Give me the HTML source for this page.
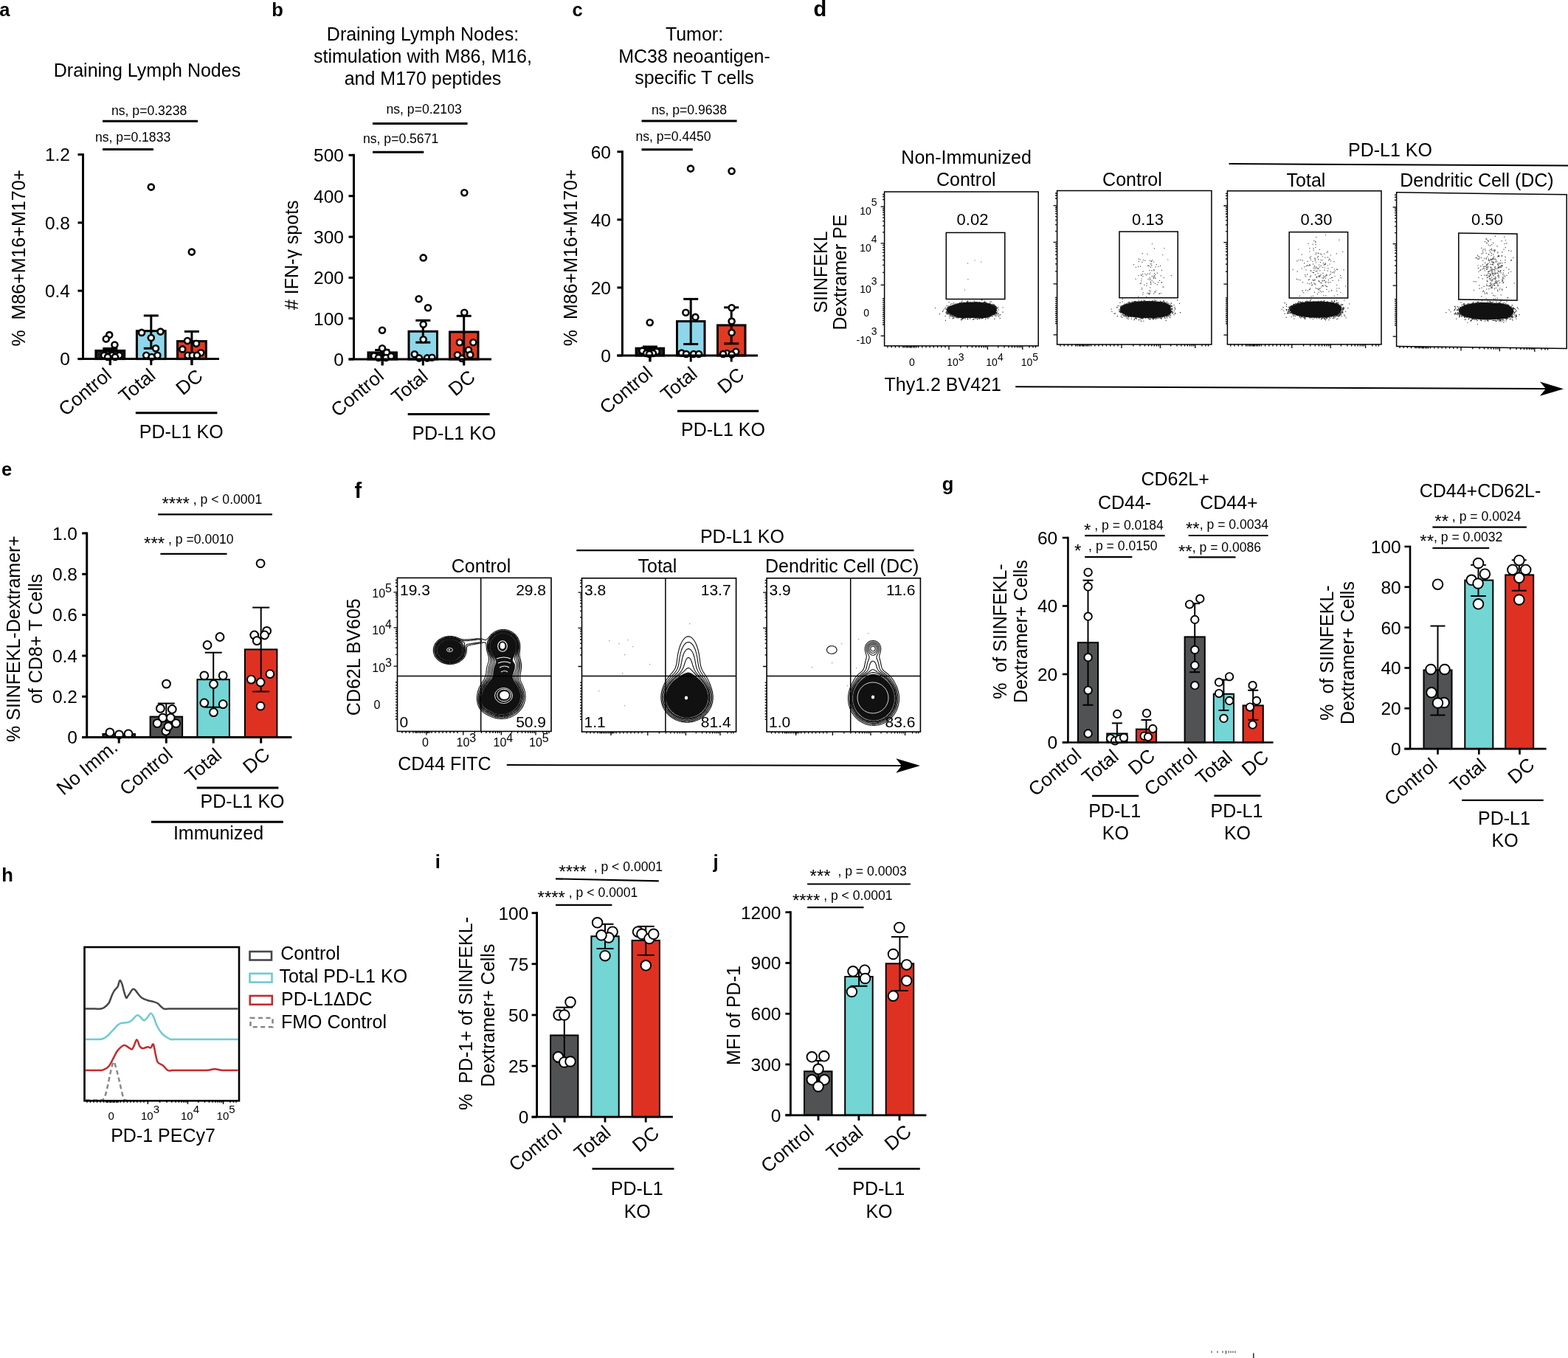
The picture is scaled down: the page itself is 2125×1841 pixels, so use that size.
<!DOCTYPE html>
<html><head><meta charset="utf-8"><title>Figure</title>
<style>
html,body{margin:0;padding:0;background:#fff;}
svg{display:block;}
text{font-family:"Liberation Sans", Arial, Helvetica, sans-serif;fill:#000;white-space:pre;}
</style></head><body>
<svg xmlns="http://www.w3.org/2000/svg" width="2125" height="1841" viewBox="0 0 2125 1841">
<rect x="0" y="0" width="2125" height="1841" fill="#fff"/>
<text x="-0.8" y="21.6" font-size="25.5" font-weight="bold">a</text>
<text x="199.5" y="104" font-size="25" text-anchor="middle">Draining Lymph Nodes</text>
<text x="151" y="156" font-size="17.6">ns, p=0.3238</text>
<line x1="139" y1="164.2" x2="268" y2="164.2" stroke="#000" stroke-width="3"/>
<text x="129" y="192" font-size="17.6">ns, p=0.1833</text>
<line x1="139" y1="202.6" x2="208" y2="202.6" stroke="#000" stroke-width="3"/>
<rect x="129.9" y="475.4" width="38.8" height="11.2" fill="#202020" stroke="#000" stroke-width="3"/>
<rect x="185.4" y="448.7" width="38.8" height="37.9" fill="#8ed7ea" stroke="#000" stroke-width="3"/>
<rect x="240.5" y="462.6" width="38.8" height="24" fill="#e03a22" stroke="#000" stroke-width="3"/>
<line x1="149.3" y1="472.5" x2="149.3" y2="495" stroke="#000" stroke-width="3"/>
<line x1="139.3" y1="472.5" x2="159.3" y2="472.5" stroke="#000" stroke-width="3"/>
<line x1="204.8" y1="427.9" x2="204.8" y2="472.3" stroke="#000" stroke-width="3"/>
<line x1="194.8" y1="427.9" x2="214.8" y2="427.9" stroke="#000" stroke-width="3"/>
<line x1="194.8" y1="472.3" x2="214.8" y2="472.3" stroke="#000" stroke-width="3"/>
<line x1="259.9" y1="449.4" x2="259.9" y2="495" stroke="#000" stroke-width="3"/>
<line x1="249.9" y1="449.4" x2="269.9" y2="449.4" stroke="#000" stroke-width="3"/>
<circle cx="148.2" cy="454.1" r="4" fill="#fff" stroke="#000" stroke-width="2.6"/>
<circle cx="143.8" cy="459.5" r="4" fill="#fff" stroke="#000" stroke-width="2.6"/>
<circle cx="155.4" cy="467.5" r="4" fill="#fff" stroke="#000" stroke-width="2.6"/>
<circle cx="141" cy="481.8" r="4" fill="#fff" stroke="#000" stroke-width="2.6"/>
<circle cx="151.8" cy="481.8" r="4" fill="#fff" stroke="#000" stroke-width="2.6"/>
<circle cx="161.6" cy="481.8" r="4" fill="#fff" stroke="#000" stroke-width="2.6"/>
<circle cx="146" cy="484" r="4" fill="#fff" stroke="#000" stroke-width="2.6"/>
<circle cx="156" cy="484" r="4" fill="#fff" stroke="#000" stroke-width="2.6"/>
<circle cx="204.8" cy="253.6" r="4" fill="#fff" stroke="#000" stroke-width="2.6"/>
<circle cx="192" cy="450.9" r="4" fill="#fff" stroke="#000" stroke-width="2.6"/>
<circle cx="217.5" cy="449.6" r="4" fill="#fff" stroke="#000" stroke-width="2.6"/>
<circle cx="204.8" cy="458" r="4" fill="#fff" stroke="#000" stroke-width="2.6"/>
<circle cx="211" cy="472.3" r="4" fill="#fff" stroke="#000" stroke-width="2.6"/>
<circle cx="198.2" cy="481.8" r="4" fill="#fff" stroke="#000" stroke-width="2.6"/>
<circle cx="213.4" cy="481.8" r="4" fill="#fff" stroke="#000" stroke-width="2.6"/>
<circle cx="205.5" cy="484" r="4" fill="#fff" stroke="#000" stroke-width="2.6"/>
<circle cx="259.8" cy="341.6" r="4" fill="#fff" stroke="#000" stroke-width="2.6"/>
<circle cx="254" cy="462" r="4" fill="#fff" stroke="#000" stroke-width="2.6"/>
<circle cx="266" cy="465.7" r="4" fill="#fff" stroke="#000" stroke-width="2.6"/>
<circle cx="247.3" cy="473.4" r="4" fill="#fff" stroke="#000" stroke-width="2.6"/>
<circle cx="272.3" cy="478.2" r="4" fill="#fff" stroke="#000" stroke-width="2.6"/>
<circle cx="254.5" cy="481.8" r="4" fill="#fff" stroke="#000" stroke-width="2.6"/>
<circle cx="260.7" cy="481.8" r="4" fill="#fff" stroke="#000" stroke-width="2.6"/>
<circle cx="267" cy="481.8" r="4" fill="#fff" stroke="#000" stroke-width="2.6"/>
<line x1="112.5" y1="208" x2="112.5" y2="486.6" stroke="#000" stroke-width="3"/>
<line x1="105.5" y1="486.6" x2="297" y2="486.6" stroke="#000" stroke-width="3"/>
<line x1="105.5" y1="209.5" x2="112.5" y2="209.5" stroke="#000" stroke-width="3"/>
<text x="95" y="218.3" font-size="24.5" text-anchor="end">1.2</text>
<line x1="105.5" y1="301.9" x2="112.5" y2="301.9" stroke="#000" stroke-width="3"/>
<text x="95" y="310.7" font-size="24.5" text-anchor="end">0.8</text>
<line x1="105.5" y1="394.2" x2="112.5" y2="394.2" stroke="#000" stroke-width="3"/>
<text x="95" y="403" font-size="24.5" text-anchor="end">0.4</text>
<line x1="105.5" y1="486.6" x2="112.5" y2="486.6" stroke="#000" stroke-width="3"/>
<text x="95" y="495.4" font-size="24.5" text-anchor="end">0</text>
<line x1="149.3" y1="486.6" x2="149.3" y2="495.1" stroke="#000" stroke-width="3"/>
<line x1="204.8" y1="486.6" x2="204.8" y2="495.1" stroke="#000" stroke-width="3"/>
<line x1="259.9" y1="486.6" x2="259.9" y2="495.1" stroke="#000" stroke-width="3"/>
<text transform="translate(33.5 349.7) rotate(-90)" font-size="25" text-anchor="middle">%&#160;&#160;M86+M16+M170+</text>
<text transform="translate(153 511) rotate(-40)" font-size="26" text-anchor="end">Control</text>
<text transform="translate(212.4 511.7) rotate(-40)" font-size="26" text-anchor="end">Total</text>
<text transform="translate(276.6 512.6) rotate(-40)" font-size="26" text-anchor="end">DC</text>
<line x1="183.8" y1="559.8" x2="294.4" y2="559.8" stroke="#000" stroke-width="3"/>
<text x="188.8" y="594.3" font-size="25">PD-L1 KO</text>
<text x="368.2" y="21.5" font-size="25.5" font-weight="bold">b</text>
<text x="573" y="55" font-size="25" text-anchor="middle">Draining Lymph Nodes:</text>
<text x="573" y="85.4" font-size="25" text-anchor="middle">stimulation with M86, M16,</text>
<text x="573" y="115.3" font-size="25" text-anchor="middle">and M170 peptides</text>
<text x="523.5" y="154.3" font-size="17.6">ns, p=0.2103</text>
<line x1="505" y1="167.5" x2="633.6" y2="167.5" stroke="#000" stroke-width="3"/>
<text x="492" y="193.8" font-size="17.6">ns, p=0.5671</text>
<line x1="505" y1="206.2" x2="574.3" y2="206.2" stroke="#000" stroke-width="3"/>
<rect x="499" y="477.9" width="38.5" height="9.1" fill="#202020" stroke="#000" stroke-width="3"/>
<rect x="554" y="449.3" width="38.5" height="37.7" fill="#8ed7ea" stroke="#000" stroke-width="3"/>
<rect x="609.5" y="450" width="38.5" height="37" fill="#e03a22" stroke="#000" stroke-width="3"/>
<line x1="518.2" y1="474.5" x2="518.2" y2="495" stroke="#000" stroke-width="3"/>
<line x1="508.2" y1="474.5" x2="528.2" y2="474.5" stroke="#000" stroke-width="3"/>
<line x1="573.3" y1="434.4" x2="573.3" y2="464.2" stroke="#000" stroke-width="3"/>
<line x1="563.3" y1="434.4" x2="583.3" y2="434.4" stroke="#000" stroke-width="3"/>
<line x1="563.3" y1="464.2" x2="583.3" y2="464.2" stroke="#000" stroke-width="3"/>
<line x1="628.7" y1="428.3" x2="628.7" y2="495" stroke="#000" stroke-width="3"/>
<line x1="618.7" y1="428.3" x2="638.7" y2="428.3" stroke="#000" stroke-width="3"/>
<circle cx="518" cy="447.7" r="4" fill="#fff" stroke="#000" stroke-width="2.6"/>
<circle cx="518" cy="472.2" r="4" fill="#fff" stroke="#000" stroke-width="2.6"/>
<circle cx="524" cy="477.9" r="4" fill="#fff" stroke="#000" stroke-width="2.6"/>
<circle cx="507" cy="482.5" r="4" fill="#fff" stroke="#000" stroke-width="2.6"/>
<circle cx="513" cy="485" r="4" fill="#fff" stroke="#000" stroke-width="2.6"/>
<circle cx="523" cy="485" r="4" fill="#fff" stroke="#000" stroke-width="2.6"/>
<circle cx="530" cy="483" r="4" fill="#fff" stroke="#000" stroke-width="2.6"/>
<circle cx="573.7" cy="349.4" r="4" fill="#fff" stroke="#000" stroke-width="2.6"/>
<circle cx="567.6" cy="405.2" r="4" fill="#fff" stroke="#000" stroke-width="2.6"/>
<circle cx="580" cy="417.3" r="4" fill="#fff" stroke="#000" stroke-width="2.6"/>
<circle cx="573.7" cy="439.7" r="4" fill="#fff" stroke="#000" stroke-width="2.6"/>
<circle cx="573.7" cy="460.3" r="4" fill="#fff" stroke="#000" stroke-width="2.6"/>
<circle cx="561.8" cy="480.2" r="4" fill="#fff" stroke="#000" stroke-width="2.6"/>
<circle cx="568" cy="485.4" r="4" fill="#fff" stroke="#000" stroke-width="2.6"/>
<circle cx="579" cy="485.4" r="4" fill="#fff" stroke="#000" stroke-width="2.6"/>
<circle cx="585.4" cy="484.7" r="4" fill="#fff" stroke="#000" stroke-width="2.6"/>
<circle cx="629.3" cy="261.3" r="4" fill="#fff" stroke="#000" stroke-width="2.6"/>
<circle cx="629.3" cy="423.7" r="4" fill="#fff" stroke="#000" stroke-width="2.6"/>
<circle cx="622.9" cy="464.2" r="4" fill="#fff" stroke="#000" stroke-width="2.6"/>
<circle cx="641.4" cy="464.2" r="4" fill="#fff" stroke="#000" stroke-width="2.6"/>
<circle cx="635" cy="474.5" r="4" fill="#fff" stroke="#000" stroke-width="2.6"/>
<circle cx="620" cy="481.3" r="4" fill="#fff" stroke="#000" stroke-width="2.6"/>
<circle cx="637.3" cy="480.9" r="4" fill="#fff" stroke="#000" stroke-width="2.6"/>
<circle cx="625.9" cy="485.9" r="4" fill="#fff" stroke="#000" stroke-width="2.6"/>
<line x1="479.5" y1="208.8" x2="479.5" y2="487" stroke="#000" stroke-width="3"/>
<line x1="472.5" y1="487" x2="666" y2="487" stroke="#000" stroke-width="3"/>
<line x1="472.5" y1="210.3" x2="479.5" y2="210.3" stroke="#000" stroke-width="3"/>
<text x="466" y="219.1" font-size="24.5" text-anchor="end">500</text>
<line x1="472.5" y1="265.7" x2="479.5" y2="265.7" stroke="#000" stroke-width="3"/>
<text x="466" y="274.5" font-size="24.5" text-anchor="end">400</text>
<line x1="472.5" y1="321.1" x2="479.5" y2="321.1" stroke="#000" stroke-width="3"/>
<text x="466" y="329.9" font-size="24.5" text-anchor="end">300</text>
<line x1="472.5" y1="376.4" x2="479.5" y2="376.4" stroke="#000" stroke-width="3"/>
<text x="466" y="385.2" font-size="24.5" text-anchor="end">200</text>
<line x1="472.5" y1="431.7" x2="479.5" y2="431.7" stroke="#000" stroke-width="3"/>
<text x="466" y="440.5" font-size="24.5" text-anchor="end">100</text>
<line x1="472.5" y1="487" x2="479.5" y2="487" stroke="#000" stroke-width="3"/>
<text x="466" y="495.8" font-size="24.5" text-anchor="end">0</text>
<line x1="518.2" y1="487" x2="518.2" y2="495.5" stroke="#000" stroke-width="3"/>
<line x1="573.3" y1="487" x2="573.3" y2="495.5" stroke="#000" stroke-width="3"/>
<line x1="628.7" y1="487" x2="628.7" y2="495.5" stroke="#000" stroke-width="3"/>
<text transform="translate(403.5 345.7) rotate(-90)" font-size="25" text-anchor="middle"># IFN-&#947; spots</text>
<text transform="translate(522 512.4) rotate(-40)" font-size="26" text-anchor="end">Control</text>
<text transform="translate(581.8 512.9) rotate(-40)" font-size="26" text-anchor="end">Total</text>
<text transform="translate(645.8 513.8) rotate(-40)" font-size="26" text-anchor="end">DC</text>
<line x1="552.7" y1="561.4" x2="663.6" y2="561.4" stroke="#000" stroke-width="3"/>
<text x="558.4" y="595.7" font-size="25">PD-L1 KO</text>
<text x="775.4" y="21.6" font-size="25.5" font-weight="bold">c</text>
<text x="941" y="55.4" font-size="25" text-anchor="middle">Tumor:</text>
<text x="941" y="85.4" font-size="25" text-anchor="middle">MC38 neoantigen-</text>
<text x="941" y="114.3" font-size="25" text-anchor="middle">specific T cells</text>
<text x="882.9" y="154.5" font-size="17.6">ns, p=0.9638</text>
<line x1="869.5" y1="163.9" x2="998.6" y2="163.9" stroke="#000" stroke-width="3"/>
<text x="861.4" y="191" font-size="17.6">ns, p=0.4450</text>
<line x1="869.5" y1="202.7" x2="938.8" y2="202.7" stroke="#000" stroke-width="3"/>
<rect x="862.1" y="472.2" width="37.5" height="9.8" fill="#202020" stroke="#000" stroke-width="3"/>
<rect x="917.5" y="435.6" width="37.5" height="46.4" fill="#8ed7ea" stroke="#000" stroke-width="3"/>
<rect x="972.5" y="440.9" width="37.5" height="41.1" fill="#e03a22" stroke="#000" stroke-width="3"/>
<line x1="880.9" y1="470" x2="880.9" y2="490" stroke="#000" stroke-width="3"/>
<line x1="870.9" y1="470" x2="890.9" y2="470" stroke="#000" stroke-width="3"/>
<line x1="936.2" y1="405.4" x2="936.2" y2="466.5" stroke="#000" stroke-width="3"/>
<line x1="926.2" y1="405.4" x2="946.2" y2="405.4" stroke="#000" stroke-width="3"/>
<line x1="926.2" y1="466.5" x2="946.2" y2="466.5" stroke="#000" stroke-width="3"/>
<line x1="991.2" y1="416.8" x2="991.2" y2="465.8" stroke="#000" stroke-width="3"/>
<line x1="981.2" y1="416.8" x2="1001.2" y2="416.8" stroke="#000" stroke-width="3"/>
<line x1="981.2" y1="465.8" x2="1001.2" y2="465.8" stroke="#000" stroke-width="3"/>
<circle cx="880.7" cy="437.2" r="4" fill="#fff" stroke="#000" stroke-width="2.6"/>
<circle cx="870.4" cy="475.6" r="4" fill="#fff" stroke="#000" stroke-width="2.6"/>
<circle cx="889.8" cy="476.8" r="4" fill="#fff" stroke="#000" stroke-width="2.6"/>
<circle cx="876" cy="479" r="4" fill="#fff" stroke="#000" stroke-width="2.6"/>
<circle cx="885" cy="479" r="4" fill="#fff" stroke="#000" stroke-width="2.6"/>
<circle cx="880" cy="480" r="4" fill="#fff" stroke="#000" stroke-width="2.6"/>
<circle cx="936" cy="228.6" r="4" fill="#fff" stroke="#000" stroke-width="2.6"/>
<circle cx="929.4" cy="423.7" r="4" fill="#fff" stroke="#000" stroke-width="2.6"/>
<circle cx="942.4" cy="429.9" r="4" fill="#fff" stroke="#000" stroke-width="2.6"/>
<circle cx="923.7" cy="478.6" r="4" fill="#fff" stroke="#000" stroke-width="2.6"/>
<circle cx="930" cy="480" r="4" fill="#fff" stroke="#000" stroke-width="2.6"/>
<circle cx="940" cy="480" r="4" fill="#fff" stroke="#000" stroke-width="2.6"/>
<circle cx="947" cy="480" r="4" fill="#fff" stroke="#000" stroke-width="2.6"/>
<circle cx="991.6" cy="232" r="4" fill="#fff" stroke="#000" stroke-width="2.6"/>
<circle cx="991.6" cy="417.3" r="4" fill="#fff" stroke="#000" stroke-width="2.6"/>
<circle cx="991.6" cy="435.6" r="4" fill="#fff" stroke="#000" stroke-width="2.6"/>
<circle cx="991.6" cy="450.9" r="4" fill="#fff" stroke="#000" stroke-width="2.6"/>
<circle cx="985.2" cy="479" r="4" fill="#fff" stroke="#000" stroke-width="2.6"/>
<circle cx="997.3" cy="476.8" r="4" fill="#fff" stroke="#000" stroke-width="2.6"/>
<circle cx="980" cy="480" r="4" fill="#fff" stroke="#000" stroke-width="2.6"/>
<circle cx="991.6" cy="480.5" r="4" fill="#fff" stroke="#000" stroke-width="2.6"/>
<line x1="843.4" y1="204.2" x2="843.4" y2="482" stroke="#000" stroke-width="3"/>
<line x1="836.4" y1="482" x2="1027" y2="482" stroke="#000" stroke-width="3"/>
<line x1="836.4" y1="205.7" x2="843.4" y2="205.7" stroke="#000" stroke-width="3"/>
<text x="828" y="214.5" font-size="24.5" text-anchor="end">60</text>
<line x1="836.4" y1="297.8" x2="843.4" y2="297.8" stroke="#000" stroke-width="3"/>
<text x="828" y="306.6" font-size="24.5" text-anchor="end">40</text>
<line x1="836.4" y1="389.9" x2="843.4" y2="389.9" stroke="#000" stroke-width="3"/>
<text x="828" y="398.7" font-size="24.5" text-anchor="end">20</text>
<line x1="836.4" y1="482" x2="843.4" y2="482" stroke="#000" stroke-width="3"/>
<text x="828" y="490.8" font-size="24.5" text-anchor="end">0</text>
<line x1="880.9" y1="482" x2="880.9" y2="490.5" stroke="#000" stroke-width="3"/>
<line x1="936.2" y1="482" x2="936.2" y2="490.5" stroke="#000" stroke-width="3"/>
<line x1="991.2" y1="482" x2="991.2" y2="490.5" stroke="#000" stroke-width="3"/>
<text transform="translate(782 349.3) rotate(-90)" font-size="25" text-anchor="middle">%&#160;&#160;M86+M16+M170+</text>
<text transform="translate(886.3 508.7) rotate(-40)" font-size="26" text-anchor="end">Control</text>
<text transform="translate(946.7 509.5) rotate(-40)" font-size="26" text-anchor="end">Total</text>
<text transform="translate(1010.5 510.6) rotate(-40)" font-size="26" text-anchor="end">DC</text>
<line x1="918" y1="557.3" x2="1028.2" y2="557.3" stroke="#000" stroke-width="3"/>
<text x="923" y="591" font-size="25">PD-L1 KO</text>
<text x="2" y="644.8" font-size="25.5" font-weight="bold">e</text>
<text x="219.5" y="682.6" font-size="17.6"><tspan font-size="24" dy="8.5">****</tspan><tspan dy="-8.5"> , p &lt; 0.0001</tspan></text>
<line x1="214.2" y1="697.4" x2="369" y2="697.4" stroke="#000" stroke-width="2.2"/>
<text x="195.1" y="736.6" font-size="17.6"><tspan font-size="24" dy="8.5">***</tspan><tspan dy="-8.5"> , p =0.0010</tspan></text>
<line x1="217.4" y1="750.9" x2="307.5" y2="750.9" stroke="#000" stroke-width="2.2"/>
<rect x="139.4" y="995" width="43.5" height="4.6" fill="#303030" stroke="#000" stroke-width="2"/>
<rect x="203.6" y="971.6" width="43.5" height="28" fill="#505253" stroke="#000" stroke-width="2"/>
<rect x="267.4" y="921.2" width="43.5" height="78.4" fill="#73d5d4" stroke="#000" stroke-width="2"/>
<rect x="331.9" y="880.4" width="43.5" height="119.2" fill="#df3122" stroke="#000" stroke-width="2"/>
<line x1="225.3" y1="953.6" x2="225.3" y2="999.6" stroke="#000" stroke-width="2"/>
<line x1="213.8" y1="953.6" x2="236.8" y2="953.6" stroke="#000" stroke-width="2"/>
<line x1="289.2" y1="884.7" x2="289.2" y2="958.7" stroke="#000" stroke-width="2"/>
<line x1="277.7" y1="884.7" x2="300.7" y2="884.7" stroke="#000" stroke-width="2"/>
<line x1="277.7" y1="958.7" x2="300.7" y2="958.7" stroke="#000" stroke-width="2"/>
<line x1="353.7" y1="823.6" x2="353.7" y2="937.5" stroke="#000" stroke-width="2"/>
<line x1="342.2" y1="823.6" x2="365.2" y2="823.6" stroke="#000" stroke-width="2"/>
<line x1="342.2" y1="937.5" x2="365.2" y2="937.5" stroke="#000" stroke-width="2"/>
<circle cx="148.9" cy="992.9" r="5.4" fill="#fff" stroke="#000" stroke-width="2"/>
<circle cx="161.4" cy="995.8" r="5.4" fill="#fff" stroke="#000" stroke-width="2"/>
<circle cx="174" cy="994.8" r="5.4" fill="#fff" stroke="#000" stroke-width="2"/>
<circle cx="225.5" cy="927.1" r="5.4" fill="#fff" stroke="#000" stroke-width="2"/>
<circle cx="217.4" cy="960.4" r="5.4" fill="#fff" stroke="#000" stroke-width="2"/>
<circle cx="233.3" cy="961.5" r="5.4" fill="#fff" stroke="#000" stroke-width="2"/>
<circle cx="220.6" cy="973.1" r="5.4" fill="#fff" stroke="#000" stroke-width="2"/>
<circle cx="231.2" cy="973.1" r="5.4" fill="#fff" stroke="#000" stroke-width="2"/>
<circle cx="213.2" cy="980.6" r="5.4" fill="#fff" stroke="#000" stroke-width="2"/>
<circle cx="238.6" cy="980.6" r="5.4" fill="#fff" stroke="#000" stroke-width="2"/>
<circle cx="224.8" cy="991.2" r="5.4" fill="#fff" stroke="#000" stroke-width="2"/>
<circle cx="228" cy="985" r="5.4" fill="#fff" stroke="#000" stroke-width="2"/>
<circle cx="298" cy="863.5" r="5.4" fill="#fff" stroke="#000" stroke-width="2"/>
<circle cx="281" cy="874.5" r="5.4" fill="#fff" stroke="#000" stroke-width="2"/>
<circle cx="276.8" cy="915.9" r="5.4" fill="#fff" stroke="#000" stroke-width="2"/>
<circle cx="302.2" cy="915.9" r="5.4" fill="#fff" stroke="#000" stroke-width="2"/>
<circle cx="289.5" cy="927.5" r="5.4" fill="#fff" stroke="#000" stroke-width="2"/>
<circle cx="276.8" cy="953" r="5.4" fill="#fff" stroke="#000" stroke-width="2"/>
<circle cx="302.2" cy="954.7" r="5.4" fill="#fff" stroke="#000" stroke-width="2"/>
<circle cx="289.5" cy="965.7" r="5.4" fill="#fff" stroke="#000" stroke-width="2"/>
<circle cx="353.1" cy="763.8" r="5.4" fill="#fff" stroke="#000" stroke-width="2"/>
<circle cx="361.6" cy="855.4" r="5.4" fill="#fff" stroke="#000" stroke-width="2"/>
<circle cx="344.7" cy="861" r="5.4" fill="#fff" stroke="#000" stroke-width="2"/>
<circle cx="358.6" cy="861" r="5.4" fill="#fff" stroke="#000" stroke-width="2"/>
<circle cx="348.2" cy="868.6" r="5.4" fill="#fff" stroke="#000" stroke-width="2"/>
<circle cx="365.9" cy="913.7" r="5.4" fill="#fff" stroke="#000" stroke-width="2"/>
<circle cx="340.4" cy="921.2" r="5.4" fill="#fff" stroke="#000" stroke-width="2"/>
<circle cx="353.1" cy="925" r="5.4" fill="#fff" stroke="#000" stroke-width="2"/>
<circle cx="353.1" cy="957.2" r="5.4" fill="#fff" stroke="#000" stroke-width="2"/>
<line x1="117.7" y1="721.4" x2="117.7" y2="999.6" stroke="#000" stroke-width="3"/>
<line x1="111.2" y1="999.6" x2="395.4" y2="999.6" stroke="#000" stroke-width="3"/>
<line x1="111.2" y1="722.9" x2="117.7" y2="722.9" stroke="#000" stroke-width="3"/>
<text x="105" y="731.7" font-size="24.5" text-anchor="end">1.0</text>
<line x1="111.2" y1="778.3" x2="117.7" y2="778.3" stroke="#000" stroke-width="3"/>
<text x="105" y="787.1" font-size="24.5" text-anchor="end">0.8</text>
<line x1="111.2" y1="833.6" x2="117.7" y2="833.6" stroke="#000" stroke-width="3"/>
<text x="105" y="842.4" font-size="24.5" text-anchor="end">0.6</text>
<line x1="111.2" y1="889" x2="117.7" y2="889" stroke="#000" stroke-width="3"/>
<text x="105" y="897.8" font-size="24.5" text-anchor="end">0.4</text>
<line x1="111.2" y1="944.3" x2="117.7" y2="944.3" stroke="#000" stroke-width="3"/>
<text x="105" y="953.1" font-size="24.5" text-anchor="end">0.2</text>
<line x1="111.2" y1="999.6" x2="117.7" y2="999.6" stroke="#000" stroke-width="3"/>
<text x="105" y="1008.4" font-size="24.5" text-anchor="end">0</text>
<line x1="161.2" y1="999.6" x2="161.2" y2="1007.6" stroke="#000" stroke-width="3"/>
<line x1="225.3" y1="999.6" x2="225.3" y2="1007.6" stroke="#000" stroke-width="3"/>
<line x1="289.2" y1="999.6" x2="289.2" y2="1007.6" stroke="#000" stroke-width="3"/>
<line x1="353.7" y1="999.6" x2="353.7" y2="1007.6" stroke="#000" stroke-width="3"/>
<text transform="translate(27 866) rotate(-90)" font-size="25" text-anchor="middle">% SIINFEKL-Dextramer+</text>
<text transform="translate(56.5 866) rotate(-90)" font-size="25" text-anchor="middle">of CD8+ T Cells</text>
<text transform="translate(161.2 1015.8) rotate(-40)" font-size="26" text-anchor="end">No Imm.</text>
<text transform="translate(235.7 1025.5) rotate(-40)" font-size="26" text-anchor="end">Control</text>
<text transform="translate(302.1 1026.6) rotate(-40)" font-size="26" text-anchor="end">Total</text>
<text transform="translate(367.3 1025.6) rotate(-40)" font-size="26" text-anchor="end">DC</text>
<line x1="266.8" y1="1067.9" x2="377.4" y2="1067.9" stroke="#000" stroke-width="3"/>
<text x="271.6" y="1095.3" font-size="25">PD-L1 KO</text>
<line x1="205" y1="1114.3" x2="383.8" y2="1114.3" stroke="#000" stroke-width="3"/>
<text x="234.9" y="1137.9" font-size="25">Immunized</text>
<text x="1276.7" y="664.5" font-size="25.5" font-weight="bold">g</text>
<text x="1592.6" y="657.9" font-size="25" text-anchor="middle">CD62L+</text>
<text x="1524" y="689.8" font-size="25" text-anchor="middle">CD44-</text>
<text x="1665.4" y="689.8" font-size="25" text-anchor="middle">CD44+</text>
<text x="1469.1" y="718.1" font-size="17.6"><tspan font-size="24" dy="8.5">*</tspan><tspan dy="-8.5"> , p = 0.0184</tspan></text>
<line x1="1470.2" y1="726.2" x2="1578.6" y2="726.2" stroke="#000" stroke-width="2.2"/>
<text x="1456" y="746.4" font-size="17.6"><tspan font-size="24" dy="8.5">*</tspan><tspan dy="-8.5">&#160;&#160;, p = 0.0150</tspan></text>
<line x1="1470.2" y1="755.1" x2="1534.4" y2="755.1" stroke="#000" stroke-width="2.2"/>
<text x="1607" y="716.8" font-size="17.6"><tspan font-size="24" dy="8.5">**</tspan><tspan dy="-8.5">, p = 0.0034</tspan></text>
<line x1="1610.7" y1="726" x2="1718.6" y2="726" stroke="#000" stroke-width="2.2"/>
<text x="1597" y="747.6" font-size="17.6"><tspan font-size="24" dy="8.5">**</tspan><tspan dy="-8.5">, p = 0.0086</tspan></text>
<line x1="1610.7" y1="755.3" x2="1674.5" y2="755.3" stroke="#000" stroke-width="2.2"/>
<rect x="1460.9" y="871.1" width="27.2" height="135.4" fill="#505253" stroke="#000" stroke-width="2"/>
<rect x="1500.3" y="994.5" width="27.2" height="12" fill="#73d5d4" stroke="#000" stroke-width="2"/>
<rect x="1539.9" y="988.6" width="27.2" height="17.9" fill="#df3122" stroke="#000" stroke-width="2"/>
<rect x="1605.6" y="863.4" width="27.2" height="143.1" fill="#505253" stroke="#000" stroke-width="2"/>
<rect x="1644.8" y="940.8" width="27.2" height="65.7" fill="#73d5d4" stroke="#000" stroke-width="2"/>
<rect x="1684.6" y="956.4" width="27.2" height="50.1" fill="#df3122" stroke="#000" stroke-width="2"/>
<line x1="1474.5" y1="786.7" x2="1474.5" y2="955.8" stroke="#000" stroke-width="2"/>
<line x1="1467.5" y1="786.7" x2="1481.5" y2="786.7" stroke="#000" stroke-width="2"/>
<line x1="1467.5" y1="955.8" x2="1481.5" y2="955.8" stroke="#000" stroke-width="2"/>
<line x1="1513.9" y1="980.4" x2="1513.9" y2="1006" stroke="#000" stroke-width="2"/>
<line x1="1506.9" y1="980.4" x2="1520.9" y2="980.4" stroke="#000" stroke-width="2"/>
<line x1="1553.5" y1="976" x2="1553.5" y2="1000" stroke="#000" stroke-width="2"/>
<line x1="1546.5" y1="976" x2="1560.5" y2="976" stroke="#000" stroke-width="2"/>
<line x1="1546.5" y1="1000" x2="1560.5" y2="1000" stroke="#000" stroke-width="2"/>
<line x1="1619.2" y1="818.2" x2="1619.2" y2="911.2" stroke="#000" stroke-width="2"/>
<line x1="1612.2" y1="818.2" x2="1626.2" y2="818.2" stroke="#000" stroke-width="2"/>
<line x1="1612.2" y1="911.2" x2="1626.2" y2="911.2" stroke="#000" stroke-width="2"/>
<line x1="1658.4" y1="921.6" x2="1658.4" y2="963" stroke="#000" stroke-width="2"/>
<line x1="1651.4" y1="921.6" x2="1665.4" y2="921.6" stroke="#000" stroke-width="2"/>
<line x1="1651.4" y1="963" x2="1665.4" y2="963" stroke="#000" stroke-width="2"/>
<line x1="1698.2" y1="935.8" x2="1698.2" y2="975.8" stroke="#000" stroke-width="2"/>
<line x1="1691.2" y1="935.8" x2="1705.2" y2="935.8" stroke="#000" stroke-width="2"/>
<line x1="1691.2" y1="975.8" x2="1705.2" y2="975.8" stroke="#000" stroke-width="2"/>
<circle cx="1474.6" cy="775.8" r="5.2" fill="#fff" stroke="#000" stroke-width="1.9"/>
<circle cx="1474.6" cy="795.4" r="5.2" fill="#fff" stroke="#000" stroke-width="1.9"/>
<circle cx="1474.6" cy="835.7" r="5.2" fill="#fff" stroke="#000" stroke-width="1.9"/>
<circle cx="1474.6" cy="891.2" r="5.2" fill="#fff" stroke="#000" stroke-width="1.9"/>
<circle cx="1474.6" cy="935.8" r="5.2" fill="#fff" stroke="#000" stroke-width="1.9"/>
<circle cx="1474.6" cy="994.5" r="5.2" fill="#fff" stroke="#000" stroke-width="1.9"/>
<circle cx="1514.2" cy="968" r="5.2" fill="#fff" stroke="#000" stroke-width="1.9"/>
<circle cx="1505" cy="1001" r="5.2" fill="#fff" stroke="#000" stroke-width="1.9"/>
<circle cx="1511" cy="1004.3" r="5.2" fill="#fff" stroke="#000" stroke-width="1.9"/>
<circle cx="1517" cy="1002" r="5.2" fill="#fff" stroke="#000" stroke-width="1.9"/>
<circle cx="1523" cy="1000" r="5.2" fill="#fff" stroke="#000" stroke-width="1.9"/>
<circle cx="1554" cy="966.9" r="5.2" fill="#fff" stroke="#000" stroke-width="1.9"/>
<circle cx="1562.3" cy="988" r="5.2" fill="#fff" stroke="#000" stroke-width="1.9"/>
<circle cx="1550.7" cy="997.8" r="5.2" fill="#fff" stroke="#000" stroke-width="1.9"/>
<circle cx="1556" cy="999" r="5.2" fill="#fff" stroke="#000" stroke-width="1.9"/>
<circle cx="1612.1" cy="819.3" r="5.2" fill="#fff" stroke="#000" stroke-width="1.9"/>
<circle cx="1626.3" cy="811.7" r="5.2" fill="#fff" stroke="#000" stroke-width="1.9"/>
<circle cx="1619.3" cy="840" r="5.2" fill="#fff" stroke="#000" stroke-width="1.9"/>
<circle cx="1619.3" cy="880.9" r="5.2" fill="#fff" stroke="#000" stroke-width="1.9"/>
<circle cx="1619.3" cy="902" r="5.2" fill="#fff" stroke="#000" stroke-width="1.9"/>
<circle cx="1619.3" cy="929.2" r="5.2" fill="#fff" stroke="#000" stroke-width="1.9"/>
<circle cx="1666.1" cy="917.3" r="5.2" fill="#fff" stroke="#000" stroke-width="1.9"/>
<circle cx="1652" cy="924.9" r="5.2" fill="#fff" stroke="#000" stroke-width="1.9"/>
<circle cx="1652" cy="940.1" r="5.2" fill="#fff" stroke="#000" stroke-width="1.9"/>
<circle cx="1666.1" cy="950" r="5.2" fill="#fff" stroke="#000" stroke-width="1.9"/>
<circle cx="1658.5" cy="973.9" r="5.2" fill="#fff" stroke="#000" stroke-width="1.9"/>
<circle cx="1697.6" cy="929.2" r="5.2" fill="#fff" stroke="#000" stroke-width="1.9"/>
<circle cx="1694" cy="958.6" r="5.2" fill="#fff" stroke="#000" stroke-width="1.9"/>
<circle cx="1697.6" cy="982.5" r="5.2" fill="#fff" stroke="#000" stroke-width="1.9"/>
<circle cx="1703" cy="950" r="5.2" fill="#fff" stroke="#000" stroke-width="1.9"/>
<line x1="1447.4" y1="727.7" x2="1447.4" y2="1006.5" stroke="#000" stroke-width="2.6"/>
<line x1="1439.8" y1="1006.5" x2="1725.5" y2="1006.5" stroke="#000" stroke-width="2.6"/>
<line x1="1439.8" y1="729" x2="1447.4" y2="729" stroke="#000" stroke-width="2.6"/>
<text x="1433.2" y="737.8" font-size="24.5" text-anchor="end">60</text>
<line x1="1439.8" y1="821.5" x2="1447.4" y2="821.5" stroke="#000" stroke-width="2.6"/>
<text x="1433.2" y="830.3" font-size="24.5" text-anchor="end">40</text>
<line x1="1439.8" y1="914" x2="1447.4" y2="914" stroke="#000" stroke-width="2.6"/>
<text x="1433.2" y="922.8" font-size="24.5" text-anchor="end">20</text>
<line x1="1439.8" y1="1006.5" x2="1447.4" y2="1006.5" stroke="#000" stroke-width="2.6"/>
<text x="1433.2" y="1015.3" font-size="24.5" text-anchor="end">0</text>
<text transform="translate(1363.5 856) rotate(-90)" font-size="25" text-anchor="middle">%&#160;&#160;of SIINFEKL-</text>
<text transform="translate(1392 856) rotate(-90)" font-size="25" text-anchor="middle">Dextramer+ Cells</text>
<text transform="translate(1467.3 1026.6) rotate(-40)" font-size="26" text-anchor="end">Control</text>
<text transform="translate(1517.6 1028.4) rotate(-40)" font-size="26" text-anchor="end">Total</text>
<text transform="translate(1567.1 1027.5) rotate(-40)" font-size="26" text-anchor="end">DC</text>
<text transform="translate(1624.2 1026.2) rotate(-40)" font-size="26" text-anchor="end">Control</text>
<text transform="translate(1671.7 1029.7) rotate(-40)" font-size="26" text-anchor="end">Total</text>
<text transform="translate(1721.1 1029.2) rotate(-40)" font-size="26" text-anchor="end">DC</text>
<line x1="1480" y1="1079.1" x2="1543.2" y2="1079.1" stroke="#000" stroke-width="2.5"/>
<text x="1510.7" y="1108.3" font-size="25" text-anchor="middle">PD-L1</text>
<text x="1511.8" y="1137.9" font-size="25" text-anchor="middle">KO</text>
<line x1="1645.4" y1="1078.8" x2="1708.5" y2="1078.8" stroke="#000" stroke-width="2.5"/>
<text x="1676" y="1108.3" font-size="25" text-anchor="middle">PD-L1</text>
<text x="1677" y="1137.9" font-size="25" text-anchor="middle">KO</text>
<text x="2006" y="674.1" font-size="25" text-anchor="middle">CD44+CD62L-</text>
<text x="1944.3" y="706" font-size="17.6"><tspan font-size="24" dy="8.5">**</tspan><tspan dy="-8.5"> , p = 0.0024</tspan></text>
<line x1="1941.4" y1="714.6" x2="2068.9" y2="714.6" stroke="#000" stroke-width="2.2"/>
<text x="1924.3" y="733.9" font-size="17.6"><tspan font-size="24" dy="8.5">**</tspan><tspan dy="-8.5">, p = 0.0032</tspan></text>
<line x1="1941.4" y1="743" x2="2018.2" y2="743" stroke="#000" stroke-width="2.2"/>
<rect x="1929.5" y="908.4" width="38" height="106.7" fill="#505253" stroke="#000" stroke-width="2"/>
<rect x="1985.3" y="786.6" width="38" height="228.5" fill="#73d5d4" stroke="#000" stroke-width="2"/>
<rect x="2040.2" y="779.4" width="38" height="235.7" fill="#df3122" stroke="#000" stroke-width="2"/>
<line x1="1948.5" y1="848.6" x2="1948.5" y2="969.5" stroke="#000" stroke-width="2"/>
<line x1="1938.5" y1="848.6" x2="1958.5" y2="848.6" stroke="#000" stroke-width="2"/>
<line x1="1938.5" y1="969.5" x2="1958.5" y2="969.5" stroke="#000" stroke-width="2"/>
<line x1="2003.5" y1="765.9" x2="2003.5" y2="808" stroke="#000" stroke-width="2"/>
<line x1="1993.2" y1="765.9" x2="2013.8" y2="765.9" stroke="#000" stroke-width="2"/>
<line x1="1993.2" y1="808" x2="2013.8" y2="808" stroke="#000" stroke-width="2"/>
<line x1="2058.8" y1="759.3" x2="2058.8" y2="800.7" stroke="#000" stroke-width="2"/>
<line x1="2048.8" y1="759.3" x2="2068.8" y2="759.3" stroke="#000" stroke-width="2"/>
<line x1="2048.8" y1="800.7" x2="2068.8" y2="800.7" stroke="#000" stroke-width="2"/>
<circle cx="1948.5" cy="792.2" r="6.8" fill="#fff" stroke="#000" stroke-width="1.9"/>
<circle cx="1939.1" cy="907.5" r="6.8" fill="#fff" stroke="#000" stroke-width="1.9"/>
<circle cx="1957.9" cy="907.5" r="6.8" fill="#fff" stroke="#000" stroke-width="1.9"/>
<circle cx="1940" cy="938.8" r="6.8" fill="#fff" stroke="#000" stroke-width="1.9"/>
<circle cx="1957" cy="952.5" r="6.8" fill="#fff" stroke="#000" stroke-width="1.9"/>
<circle cx="1948.5" cy="953" r="6.8" fill="#fff" stroke="#000" stroke-width="1.9"/>
<circle cx="2003.5" cy="763.5" r="6.8" fill="#fff" stroke="#000" stroke-width="1.9"/>
<circle cx="2012.4" cy="778.2" r="6.8" fill="#fff" stroke="#000" stroke-width="1.9"/>
<circle cx="1994.2" cy="786.3" r="6.8" fill="#fff" stroke="#000" stroke-width="1.9"/>
<circle cx="2003.1" cy="791" r="6.8" fill="#fff" stroke="#000" stroke-width="1.9"/>
<circle cx="2003.5" cy="818.8" r="6.8" fill="#fff" stroke="#000" stroke-width="1.9"/>
<circle cx="2058.8" cy="759.7" r="6.8" fill="#fff" stroke="#000" stroke-width="1.9"/>
<circle cx="2049.9" cy="772.4" r="6.8" fill="#fff" stroke="#000" stroke-width="1.9"/>
<circle cx="2067.7" cy="772.4" r="6.8" fill="#fff" stroke="#000" stroke-width="1.9"/>
<circle cx="2058.8" cy="783.3" r="6.8" fill="#fff" stroke="#000" stroke-width="1.9"/>
<circle cx="2058.8" cy="813" r="6.8" fill="#fff" stroke="#000" stroke-width="1.9"/>
<line x1="1911" y1="739.7" x2="1911" y2="1015.1" stroke="#000" stroke-width="2.6"/>
<line x1="1903.4" y1="1015.1" x2="2095.6" y2="1015.1" stroke="#000" stroke-width="2.6"/>
<line x1="1903.4" y1="741" x2="1911" y2="741" stroke="#000" stroke-width="2.6"/>
<text x="1898.7" y="749.8" font-size="24.5" text-anchor="end">100</text>
<line x1="1903.4" y1="795.8" x2="1911" y2="795.8" stroke="#000" stroke-width="2.6"/>
<text x="1898.7" y="804.6" font-size="24.5" text-anchor="end">80</text>
<line x1="1903.4" y1="850.7" x2="1911" y2="850.7" stroke="#000" stroke-width="2.6"/>
<text x="1898.7" y="859.5" font-size="24.5" text-anchor="end">60</text>
<line x1="1903.4" y1="905.5" x2="1911" y2="905.5" stroke="#000" stroke-width="2.6"/>
<text x="1898.7" y="914.3" font-size="24.5" text-anchor="end">40</text>
<line x1="1903.4" y1="960.3" x2="1911" y2="960.3" stroke="#000" stroke-width="2.6"/>
<text x="1898.7" y="969.1" font-size="24.5" text-anchor="end">20</text>
<line x1="1903.4" y1="1015.1" x2="1911" y2="1015.1" stroke="#000" stroke-width="2.6"/>
<text x="1898.7" y="1023.9" font-size="24.5" text-anchor="end">0</text>
<line x1="1948.5" y1="1015.1" x2="1948.5" y2="1022.8" stroke="#000" stroke-width="2.6"/>
<line x1="2004.3" y1="1015.1" x2="2004.3" y2="1022.8" stroke="#000" stroke-width="2.6"/>
<line x1="2059.5" y1="1015.1" x2="2059.5" y2="1022.8" stroke="#000" stroke-width="2.6"/>
<text transform="translate(1806.5 885) rotate(-90)" font-size="25" text-anchor="middle">%&#160;&#160;of SIINFEKL-</text>
<text transform="translate(1835 885) rotate(-90)" font-size="25" text-anchor="middle">Dextramer+ Cells</text>
<text transform="translate(1949.8 1039.7) rotate(-40)" font-size="26" text-anchor="end">Control</text>
<text transform="translate(2016.2 1040.2) rotate(-40)" font-size="26" text-anchor="end">Total</text>
<text transform="translate(2081.5 1039.5) rotate(-40)" font-size="26" text-anchor="end">DC</text>
<line x1="1981.2" y1="1084.9" x2="2091.7" y2="1084.9" stroke="#000" stroke-width="2.4"/>
<text x="2038.5" y="1117.9" font-size="25" text-anchor="middle">PD-L1</text>
<text x="2039.6" y="1148" font-size="25" text-anchor="middle">KO</text>
<text x="589.8" y="1176.8" font-size="25.5" font-weight="bold">i</text>
<text x="757.5" y="1181" font-size="17.6"><tspan font-size="24" dy="8.5">****</tspan><tspan dy="-8.5">&#160; , p &lt; 0.0001</tspan></text>
<line x1="753" y1="1191.3" x2="892.8" y2="1194.4" stroke="#000" stroke-width="2.2"/>
<text x="728.6" y="1216" font-size="17.6"><tspan font-size="24" dy="8.5">****</tspan><tspan dy="-8.5"> , p &lt; 0.0001</tspan></text>
<line x1="753" y1="1226.8" x2="829.4" y2="1226.8" stroke="#000" stroke-width="2.2"/>
<rect x="746.1" y="1403.5" width="37.3" height="110.7" fill="#505253" stroke="#000" stroke-width="2"/>
<rect x="801.4" y="1269.3" width="37.3" height="244.9" fill="#73d5d4" stroke="#000" stroke-width="2"/>
<rect x="856.6" y="1274.9" width="37.3" height="239.3" fill="#df3122" stroke="#000" stroke-width="2"/>
<line x1="764.8" y1="1365.7" x2="764.8" y2="1440" stroke="#000" stroke-width="2"/>
<line x1="753.3" y1="1365.7" x2="776.3" y2="1365.7" stroke="#000" stroke-width="2"/>
<line x1="753.3" y1="1440" x2="776.3" y2="1440" stroke="#000" stroke-width="2"/>
<line x1="820" y1="1252.8" x2="820" y2="1286" stroke="#000" stroke-width="2"/>
<line x1="808.5" y1="1252.8" x2="831.5" y2="1252.8" stroke="#000" stroke-width="2"/>
<line x1="808.5" y1="1286" x2="831.5" y2="1286" stroke="#000" stroke-width="2"/>
<line x1="875.2" y1="1255.9" x2="875.2" y2="1294.9" stroke="#000" stroke-width="2"/>
<line x1="863.7" y1="1255.9" x2="886.7" y2="1255.9" stroke="#000" stroke-width="2"/>
<line x1="863.7" y1="1294.9" x2="886.7" y2="1294.9" stroke="#000" stroke-width="2"/>
<circle cx="773" cy="1358.5" r="6.8" fill="#fff" stroke="#000" stroke-width="1.9"/>
<circle cx="757.1" cy="1376" r="6.8" fill="#fff" stroke="#000" stroke-width="1.9"/>
<circle cx="764.8" cy="1376" r="6.8" fill="#fff" stroke="#000" stroke-width="1.9"/>
<circle cx="756.5" cy="1432.8" r="6.8" fill="#fff" stroke="#000" stroke-width="1.9"/>
<circle cx="764.8" cy="1440" r="6.8" fill="#fff" stroke="#000" stroke-width="1.9"/>
<circle cx="773" cy="1439" r="6.8" fill="#fff" stroke="#000" stroke-width="1.9"/>
<circle cx="809.6" cy="1250.8" r="6.8" fill="#fff" stroke="#000" stroke-width="1.9"/>
<circle cx="830.1" cy="1263.2" r="6.8" fill="#fff" stroke="#000" stroke-width="1.9"/>
<circle cx="825" cy="1271" r="6.8" fill="#fff" stroke="#000" stroke-width="1.9"/>
<circle cx="815" cy="1267.8" r="6.8" fill="#fff" stroke="#000" stroke-width="1.9"/>
<circle cx="820" cy="1295.7" r="6.8" fill="#fff" stroke="#000" stroke-width="1.9"/>
<circle cx="864.5" cy="1263.2" r="6.8" fill="#fff" stroke="#000" stroke-width="1.9"/>
<circle cx="869.9" cy="1266.3" r="6.8" fill="#fff" stroke="#000" stroke-width="1.9"/>
<circle cx="880" cy="1272.5" r="6.8" fill="#fff" stroke="#000" stroke-width="1.9"/>
<circle cx="885.8" cy="1266.3" r="6.8" fill="#fff" stroke="#000" stroke-width="1.9"/>
<circle cx="875.3" cy="1308.8" r="6.8" fill="#fff" stroke="#000" stroke-width="1.9"/>
<line x1="727.6" y1="1236.3" x2="727.6" y2="1514.2" stroke="#000" stroke-width="2.8"/>
<line x1="720.6" y1="1514.2" x2="911.9" y2="1514.2" stroke="#000" stroke-width="2.8"/>
<line x1="720.6" y1="1237.7" x2="727.6" y2="1237.7" stroke="#000" stroke-width="2.8"/>
<text x="716.3" y="1246.5" font-size="24.5" text-anchor="end">100</text>
<line x1="720.6" y1="1306.8" x2="727.6" y2="1306.8" stroke="#000" stroke-width="2.8"/>
<text x="716.3" y="1315.6" font-size="24.5" text-anchor="end">75</text>
<line x1="720.6" y1="1376" x2="727.6" y2="1376" stroke="#000" stroke-width="2.8"/>
<text x="716.3" y="1384.8" font-size="24.5" text-anchor="end">50</text>
<line x1="720.6" y1="1445.1" x2="727.6" y2="1445.1" stroke="#000" stroke-width="2.8"/>
<text x="716.3" y="1453.9" font-size="24.5" text-anchor="end">25</text>
<line x1="720.6" y1="1514.2" x2="727.6" y2="1514.2" stroke="#000" stroke-width="2.8"/>
<text x="716.3" y="1523" font-size="24.5" text-anchor="end">0</text>
<line x1="765.1" y1="1514.2" x2="765.1" y2="1521.5" stroke="#000" stroke-width="2.8"/>
<line x1="820" y1="1514.2" x2="820" y2="1521.5" stroke="#000" stroke-width="2.8"/>
<line x1="875.2" y1="1514.2" x2="875.2" y2="1521.5" stroke="#000" stroke-width="2.8"/>
<text transform="translate(639.5 1374) rotate(-90)" font-size="25" text-anchor="middle">%&#160;&#160;PD-1+ of SIINFEKL-</text>
<text transform="translate(669.5 1376.5) rotate(-90)" font-size="25" text-anchor="middle">Dextramer+ Cells</text>
<text transform="translate(763.1 1535.3) rotate(-40)" font-size="26" text-anchor="end">Control</text>
<text transform="translate(829.5 1538) rotate(-40)" font-size="26" text-anchor="end">Total</text>
<text transform="translate(895.1 1538.8) rotate(-40)" font-size="26" text-anchor="end">DC</text>
<line x1="802.5" y1="1584.4" x2="913.5" y2="1584.4" stroke="#000" stroke-width="2.5"/>
<text x="863.2" y="1620.3" font-size="25" text-anchor="middle">PD-L1</text>
<text x="863.7" y="1650.5" font-size="25" text-anchor="middle">KO</text>
<text x="966.5" y="1177.2" font-size="25.5" font-weight="bold">j</text>
<text x="1097.6" y="1187.2" font-size="17.6"><tspan font-size="24" dy="8.5">***</tspan><tspan dy="-8.5">&#160;&#160;, p = 0.0003</tspan></text>
<line x1="1094.1" y1="1198.5" x2="1233.9" y2="1198.5" stroke="#000" stroke-width="2.2"/>
<text x="1073.9" y="1220.2" font-size="17.6"><tspan font-size="24" dy="8.5">****</tspan><tspan dy="-8.5">&#160;, p &lt; 0.0001</tspan></text>
<line x1="1094.1" y1="1230.1" x2="1170.5" y2="1230.1" stroke="#000" stroke-width="2.2"/>
<rect x="1090" y="1452.4" width="37.5" height="59.4" fill="#505253" stroke="#000" stroke-width="2"/>
<rect x="1145.2" y="1324" width="37.5" height="187.8" fill="#73d5d4" stroke="#000" stroke-width="2"/>
<rect x="1200.7" y="1306.3" width="37.5" height="205.5" fill="#df3122" stroke="#000" stroke-width="2"/>
<line x1="1108.8" y1="1438" x2="1108.8" y2="1466" stroke="#000" stroke-width="2"/>
<line x1="1097.3" y1="1438" x2="1120.3" y2="1438" stroke="#000" stroke-width="2"/>
<line x1="1097.3" y1="1466" x2="1120.3" y2="1466" stroke="#000" stroke-width="2"/>
<line x1="1164" y1="1315" x2="1164" y2="1336.8" stroke="#000" stroke-width="2"/>
<line x1="1152.5" y1="1315" x2="1175.5" y2="1315" stroke="#000" stroke-width="2"/>
<line x1="1152.5" y1="1336.8" x2="1175.5" y2="1336.8" stroke="#000" stroke-width="2"/>
<line x1="1219.4" y1="1270.1" x2="1219.4" y2="1343" stroke="#000" stroke-width="2"/>
<line x1="1207.9" y1="1270.1" x2="1230.9" y2="1270.1" stroke="#000" stroke-width="2"/>
<line x1="1207.9" y1="1343" x2="1230.9" y2="1343" stroke="#000" stroke-width="2"/>
<circle cx="1100.3" cy="1432.8" r="6.8" fill="#fff" stroke="#000" stroke-width="1.9"/>
<circle cx="1116.8" cy="1431.8" r="6.8" fill="#fff" stroke="#000" stroke-width="1.9"/>
<circle cx="1109" cy="1449.3" r="6.8" fill="#fff" stroke="#000" stroke-width="1.9"/>
<circle cx="1100.3" cy="1463.8" r="6.8" fill="#fff" stroke="#000" stroke-width="1.9"/>
<circle cx="1117.2" cy="1463.8" r="6.8" fill="#fff" stroke="#000" stroke-width="1.9"/>
<circle cx="1109" cy="1473" r="6.8" fill="#fff" stroke="#000" stroke-width="1.9"/>
<circle cx="1156" cy="1316.8" r="6.8" fill="#fff" stroke="#000" stroke-width="1.9"/>
<circle cx="1171.9" cy="1315.2" r="6.8" fill="#fff" stroke="#000" stroke-width="1.9"/>
<circle cx="1172.5" cy="1326.5" r="6.8" fill="#fff" stroke="#000" stroke-width="1.9"/>
<circle cx="1154.4" cy="1344.5" r="6.8" fill="#fff" stroke="#000" stroke-width="1.9"/>
<circle cx="1218.8" cy="1257.4" r="6.8" fill="#fff" stroke="#000" stroke-width="1.9"/>
<circle cx="1210.5" cy="1293.5" r="6.8" fill="#fff" stroke="#000" stroke-width="1.9"/>
<circle cx="1228.7" cy="1307.9" r="6.8" fill="#fff" stroke="#000" stroke-width="1.9"/>
<circle cx="1228.7" cy="1329.6" r="6.8" fill="#fff" stroke="#000" stroke-width="1.9"/>
<circle cx="1210.5" cy="1350.2" r="6.8" fill="#fff" stroke="#000" stroke-width="1.9"/>
<line x1="1071.4" y1="1235.3" x2="1071.4" y2="1511.8" stroke="#000" stroke-width="2.8"/>
<line x1="1064.4" y1="1511.8" x2="1255.4" y2="1511.8" stroke="#000" stroke-width="2.8"/>
<line x1="1064.4" y1="1236.7" x2="1071.4" y2="1236.7" stroke="#000" stroke-width="2.8"/>
<text x="1058.4" y="1245.5" font-size="24.5" text-anchor="end">1200</text>
<line x1="1064.4" y1="1305.5" x2="1071.4" y2="1305.5" stroke="#000" stroke-width="2.8"/>
<text x="1058.4" y="1314.3" font-size="24.5" text-anchor="end">900</text>
<line x1="1064.4" y1="1374.3" x2="1071.4" y2="1374.3" stroke="#000" stroke-width="2.8"/>
<text x="1058.4" y="1383.1" font-size="24.5" text-anchor="end">600</text>
<line x1="1064.4" y1="1443" x2="1071.4" y2="1443" stroke="#000" stroke-width="2.8"/>
<text x="1058.4" y="1451.8" font-size="24.5" text-anchor="end">300</text>
<line x1="1064.4" y1="1511.8" x2="1071.4" y2="1511.8" stroke="#000" stroke-width="2.8"/>
<text x="1058.4" y="1520.6" font-size="24.5" text-anchor="end">0</text>
<line x1="1109" y1="1511.8" x2="1109" y2="1519.1" stroke="#000" stroke-width="2.8"/>
<line x1="1163.9" y1="1511.8" x2="1163.9" y2="1519.1" stroke="#000" stroke-width="2.8"/>
<line x1="1219" y1="1511.8" x2="1219" y2="1519.1" stroke="#000" stroke-width="2.8"/>
<text transform="translate(1003.2 1376.5) rotate(-90)" font-size="25" text-anchor="middle">MFI of PD-1</text>
<text transform="translate(1104.8 1537) rotate(-40)" font-size="26" text-anchor="end">Control</text>
<text transform="translate(1171.4 1537.8) rotate(-40)" font-size="26" text-anchor="end">Total</text>
<text transform="translate(1236.8 1536.8) rotate(-40)" font-size="26" text-anchor="end">DC</text>
<line x1="1136.1" y1="1584.4" x2="1246.8" y2="1584.4" stroke="#000" stroke-width="2.5"/>
<text x="1190.7" y="1620.3" font-size="25" text-anchor="middle">PD-L1</text>
<text x="1191.5" y="1650.5" font-size="25" text-anchor="middle">KO</text>
<text x="1102.6" y="21.7" font-size="29" font-weight="bold">d</text>
<text x="1309.6" y="222.4" font-size="25" text-anchor="middle">Non-Immunized</text>
<text x="1309.3" y="251.6" font-size="25" text-anchor="middle">Control</text>
<text x="1534.4" y="251.6" font-size="25" text-anchor="middle">Control</text>
<text x="1770" y="252.5" font-size="25" text-anchor="middle">Total</text>
<text x="2001.5" y="252.5" font-size="25" text-anchor="middle">Dendritic Cell (DC)</text>
<text x="1884" y="211.9" font-size="25" text-anchor="middle">PD-L1 KO</text>
<line x1="1665.5" y1="222" x2="2125" y2="224.6" stroke="#000" stroke-width="2"/>
<rect x="1198.6" y="260" width="208.6" height="208.9" fill="none" stroke="#000" stroke-width="1.5"/>
<path d="M1193.6 280.2H1198.6M1193.6 329.8H1198.6M1193.6 386.3H1198.6M1193.6 455.3H1198.6M1196.1 314.9H1198.6M1196.1 306.1H1198.6M1196.1 299.9H1198.6M1196.1 295.1H1198.6M1196.1 291.2H1198.6M1196.1 287.9H1198.6M1196.1 285.0H1198.6M1196.1 282.5H1198.6M1196.1 369.3H1198.6M1196.1 359.3H1198.6M1196.1 352.3H1198.6M1196.1 346.8H1198.6M1196.1 342.3H1198.6M1196.1 338.6H1198.6M1196.1 335.3H1198.6M1196.1 332.4H1198.6M1196.1 270.5H1198.6M1196.1 266.5H1198.6M1196.1 263.5H1198.6M1196.1 405.0H1198.6M1196.1 407.7H1198.6M1196.1 410.4H1198.6M1196.1 413.1H1198.6M1196.1 415.8H1198.6M1196.1 418.5H1198.6M1196.1 421.2H1198.6M1196.1 423.8H1198.6M1196.1 426.5H1198.6M1196.1 429.2H1198.6M1196.1 431.9H1198.6M1196.1 434.6H1198.6M1196.1 437.3H1198.6M1196.1 440.0H1198.6" stroke="#000" stroke-width="1.3" fill="none"/>
<path d="M1286.0 468.9V473.9M1338.4 468.9V473.9M1385.8 468.9V473.9M1301.8 468.9V471.4M1311.0 468.9V471.4M1317.5 468.9V471.4M1322.6 468.9V471.4M1326.8 468.9V471.4M1330.3 468.9V471.4M1333.3 468.9V471.4M1336.0 468.9V471.4M1352.7 468.9V471.4M1361.0 468.9V471.4M1366.9 468.9V471.4M1371.5 468.9V471.4M1375.3 468.9V471.4M1378.5 468.9V471.4M1381.2 468.9V471.4M1383.6 468.9V471.4M1395.0 468.9V471.4M1400.0 468.9V471.4M1403.5 468.9V471.4M1203.0 468.9V471.4M1208.2 468.9V471.4M1213.4 468.9V471.4M1218.6 468.9V471.4M1223.8 468.9V471.4M1229.0 468.9V471.4M1234.2 468.9V471.4M1239.4 468.9V471.4M1244.6 468.9V471.4M1249.8 468.9V471.4M1255.0 468.9V471.4M1260.2 468.9V471.4M1265.4 468.9V471.4M1270.6 468.9V471.4M1275.8 468.9V471.4M1281.0 468.9V471.4M1224.0 468.9V471.4M1226.2 468.9V471.4M1228.5 468.9V471.4M1230.8 468.9V471.4M1233.0 468.9V471.4M1235.2 468.9V471.4M1237.5 468.9V471.4M1239.8 468.9V471.4M1242.0 468.9V471.4" stroke="#000" stroke-width="1.3" fill="none"/>
<rect x="1432.6" y="258.5" width="209.3" height="208.5" fill="none" stroke="#000" stroke-width="1.5"/>
<path d="M1427.6 278.7H1432.6M1427.6 328.3H1432.6M1427.6 384.8H1432.6M1427.6 453.8H1432.6M1430.1 313.4H1432.6M1430.1 304.6H1432.6M1430.1 298.4H1432.6M1430.1 293.6H1432.6M1430.1 289.7H1432.6M1430.1 286.4H1432.6M1430.1 283.5H1432.6M1430.1 281.0H1432.6M1430.1 367.8H1432.6M1430.1 357.8H1432.6M1430.1 350.8H1432.6M1430.1 345.3H1432.6M1430.1 340.8H1432.6M1430.1 337.1H1432.6M1430.1 333.8H1432.6M1430.1 330.9H1432.6M1430.1 269.0H1432.6M1430.1 265.0H1432.6M1430.1 262.0H1432.6M1430.1 403.5H1432.6M1430.1 406.2H1432.6M1430.1 408.9H1432.6M1430.1 411.6H1432.6M1430.1 414.3H1432.6M1430.1 417.0H1432.6M1430.1 419.7H1432.6M1430.1 422.3H1432.6M1430.1 425.0H1432.6M1430.1 427.7H1432.6M1430.1 430.4H1432.6M1430.1 433.1H1432.6M1430.1 435.8H1432.6M1430.1 438.5H1432.6" stroke="#000" stroke-width="1.3" fill="none"/>
<path d="M1520.0 467.0V472.0M1572.4 467.0V472.0M1619.8 467.0V472.0M1535.8 467.0V469.5M1545.0 467.0V469.5M1551.5 467.0V469.5M1556.6 467.0V469.5M1560.8 467.0V469.5M1564.3 467.0V469.5M1567.3 467.0V469.5M1570.0 467.0V469.5M1586.7 467.0V469.5M1595.0 467.0V469.5M1600.9 467.0V469.5M1605.5 467.0V469.5M1609.3 467.0V469.5M1612.5 467.0V469.5M1615.2 467.0V469.5M1617.6 467.0V469.5M1629.0 467.0V469.5M1634.0 467.0V469.5M1637.5 467.0V469.5M1437.0 467.0V469.5M1442.2 467.0V469.5M1447.4 467.0V469.5M1452.6 467.0V469.5M1457.8 467.0V469.5M1463.0 467.0V469.5M1468.2 467.0V469.5M1473.4 467.0V469.5M1478.6 467.0V469.5M1483.8 467.0V469.5M1489.0 467.0V469.5M1494.2 467.0V469.5M1499.4 467.0V469.5M1504.6 467.0V469.5M1509.8 467.0V469.5M1515.0 467.0V469.5M1458.0 467.0V469.5M1460.2 467.0V469.5M1462.5 467.0V469.5M1464.8 467.0V469.5M1467.0 467.0V469.5M1469.2 467.0V469.5M1471.5 467.0V469.5M1473.8 467.0V469.5M1476.0 467.0V469.5" stroke="#000" stroke-width="1.3" fill="none"/>
<rect x="1663.4" y="258.8" width="208.6" height="208.1" fill="none" stroke="#000" stroke-width="1.5"/>
<path d="M1658.4 279.0H1663.4M1658.4 328.6H1663.4M1658.4 385.1H1663.4M1658.4 454.1H1663.4M1660.9 313.7H1663.4M1660.9 304.9H1663.4M1660.9 298.7H1663.4M1660.9 293.9H1663.4M1660.9 290.0H1663.4M1660.9 286.7H1663.4M1660.9 283.8H1663.4M1660.9 281.3H1663.4M1660.9 368.1H1663.4M1660.9 358.1H1663.4M1660.9 351.1H1663.4M1660.9 345.6H1663.4M1660.9 341.1H1663.4M1660.9 337.4H1663.4M1660.9 334.1H1663.4M1660.9 331.2H1663.4M1660.9 269.3H1663.4M1660.9 265.3H1663.4M1660.9 262.3H1663.4M1660.9 403.8H1663.4M1660.9 406.5H1663.4M1660.9 409.2H1663.4M1660.9 411.9H1663.4M1660.9 414.6H1663.4M1660.9 417.3H1663.4M1660.9 420.0H1663.4M1660.9 422.6H1663.4M1660.9 425.3H1663.4M1660.9 428.0H1663.4M1660.9 430.7H1663.4M1660.9 433.4H1663.4M1660.9 436.1H1663.4M1660.9 438.8H1663.4" stroke="#000" stroke-width="1.3" fill="none"/>
<path d="M1750.8 466.9V471.9M1803.2 466.9V471.9M1850.6 466.9V471.9M1766.6 466.9V469.4M1775.8 466.9V469.4M1782.3 466.9V469.4M1787.4 466.9V469.4M1791.6 466.9V469.4M1795.1 466.9V469.4M1798.1 466.9V469.4M1800.8 466.9V469.4M1817.5 466.9V469.4M1825.8 466.9V469.4M1831.7 466.9V469.4M1836.3 466.9V469.4M1840.1 466.9V469.4M1843.3 466.9V469.4M1846.0 466.9V469.4M1848.4 466.9V469.4M1859.8 466.9V469.4M1864.8 466.9V469.4M1868.3 466.9V469.4M1667.8 466.9V469.4M1673.0 466.9V469.4M1678.2 466.9V469.4M1683.4 466.9V469.4M1688.6 466.9V469.4M1693.8 466.9V469.4M1699.0 466.9V469.4M1704.2 466.9V469.4M1709.4 466.9V469.4M1714.6 466.9V469.4M1719.8 466.9V469.4M1725.0 466.9V469.4M1730.2 466.9V469.4M1735.4 466.9V469.4M1740.6 466.9V469.4M1745.8 466.9V469.4M1688.8 466.9V469.4M1691.1 466.9V469.4M1693.3 466.9V469.4M1695.6 466.9V469.4M1697.8 466.9V469.4M1700.1 466.9V469.4M1702.3 466.9V469.4M1704.6 466.9V469.4M1706.8 466.9V469.4" stroke="#000" stroke-width="1.3" fill="none"/>
<g transform="translate(1892.6 260.8) skewY(0.756) translate(-1892.6 -260.8)">
<rect x="1892.6" y="260.8" width="230.6" height="208.6" fill="none" stroke="#000" stroke-width="1.5"/>
<path d="M1887.6 281.0H1892.6M1887.6 330.6H1892.6M1887.6 387.1H1892.6M1887.6 456.1H1892.6M1890.1 315.7H1892.6M1890.1 306.9H1892.6M1890.1 300.7H1892.6M1890.1 295.9H1892.6M1890.1 292.0H1892.6M1890.1 288.7H1892.6M1890.1 285.8H1892.6M1890.1 283.3H1892.6M1890.1 370.1H1892.6M1890.1 360.1H1892.6M1890.1 353.1H1892.6M1890.1 347.6H1892.6M1890.1 343.1H1892.6M1890.1 339.4H1892.6M1890.1 336.1H1892.6M1890.1 333.2H1892.6M1890.1 271.3H1892.6M1890.1 267.3H1892.6M1890.1 264.3H1892.6M1890.1 405.8H1892.6M1890.1 408.5H1892.6M1890.1 411.2H1892.6M1890.1 413.9H1892.6M1890.1 416.6H1892.6M1890.1 419.3H1892.6M1890.1 422.0H1892.6M1890.1 424.6H1892.6M1890.1 427.3H1892.6M1890.1 430.0H1892.6M1890.1 432.7H1892.6M1890.1 435.4H1892.6M1890.1 438.1H1892.6M1890.1 440.8H1892.6" stroke="#000" stroke-width="1.3" fill="none"/>
<path d="M1980.0 469.4V474.4M2032.4 469.4V474.4M2079.8 469.4V474.4M1995.8 469.4V471.9M2005.0 469.4V471.9M2011.5 469.4V471.9M2016.6 469.4V471.9M2020.8 469.4V471.9M2024.3 469.4V471.9M2027.3 469.4V471.9M2030.0 469.4V471.9M2046.7 469.4V471.9M2055.0 469.4V471.9M2060.9 469.4V471.9M2065.5 469.4V471.9M2069.3 469.4V471.9M2072.5 469.4V471.9M2075.2 469.4V471.9M2077.6 469.4V471.9M2089.0 469.4V471.9M2094.0 469.4V471.9M2097.5 469.4V471.9M1897.0 469.4V471.9M1902.2 469.4V471.9M1907.4 469.4V471.9M1912.6 469.4V471.9M1917.8 469.4V471.9M1923.0 469.4V471.9M1928.2 469.4V471.9M1933.4 469.4V471.9M1938.6 469.4V471.9M1943.8 469.4V471.9M1949.0 469.4V471.9M1954.2 469.4V471.9M1959.4 469.4V471.9M1964.6 469.4V471.9M1969.8 469.4V471.9M1975.0 469.4V471.9M1918.0 469.4V471.9M1920.2 469.4V471.9M1922.5 469.4V471.9M1924.8 469.4V471.9M1927.0 469.4V471.9M1929.2 469.4V471.9M1931.5 469.4V471.9M1933.8 469.4V471.9M1936.0 469.4V471.9" stroke="#000" stroke-width="1.3" fill="none"/>
<rect x="1976.8" y="314.8" width="79.2" height="90.2" fill="none" stroke="#000" stroke-width="1.5"/>
<path d="M2051.4 420.3 L2050.8 421.8 L2050.3 422.9 L2049.7 423.8 L2049.2 424.6 L2048.9 425.4 L2048.3 426.2 L2047.4 426.9 L2046.7 427.6 L2045.6 428.2 L2044.0 428.7 L2042.5 429.2 L2041.1 429.7 L2039.4 430.1 L2037.3 430.4 L2035.3 430.7 L2033.1 430.9 L2030.8 431.1 L2028.2 431.1 L2025.8 431.4 L2023.1 431.4 L2020.2 431.7 L2016.6 431.9 L2011.1 432.0 L2007.5 431.7 L2004.5 431.6 L2001.8 431.4 L1999.2 431.1 L1997.1 430.7 L1994.6 430.4 L1992.6 429.9 L1990.8 429.4 L1988.9 428.9 L1987.1 428.4 L1985.5 427.8 L1983.7 427.3 L1982.4 426.7 L1981.5 426.1 L1980.2 425.5 L1979.3 424.8 L1979.1 424.1 L1978.3 423.5 L1977.4 422.9 L1977.5 422.2 L1977.1 421.4 L1976.7 420.3 L1976.9 419.2 L1977.0 418.4 L1976.7 417.7 L1977.7 417.0 L1978.4 416.4 L1978.9 415.7 L1980.3 415.1 L1981.3 414.5 L1982.2 413.8 L1983.4 413.2 L1984.7 412.5 L1986.3 412.0 L1988.1 411.4 L1990.0 410.9 L1992.1 410.4 L1994.6 410.2 L1996.7 409.7 L1999.1 409.4 L2001.6 409.0 L2004.3 408.7 L2007.4 408.6 L2011.1 408.5 L2016.7 408.5 L2020.3 408.7 L2023.3 409.0 L2026.1 409.0 L2028.8 409.0 L2031.2 409.2 L2033.7 409.3 L2035.8 409.7 L2037.7 410.0 L2039.6 410.4 L2041.1 410.9 L2042.7 411.4 L2044.2 411.8 L2045.6 412.4 L2046.3 413.1 L2047.2 413.8 L2048.2 414.4 L2048.7 415.2 L2049.6 415.9 L2050.3 416.8 L2051.0 417.7 L2051.3 418.8Z" fill="#111"/>
<path d="M2042.8 411.2h1.1v1.1h-1.1zM1978.8 416.9h1.1v1.1h-1.1zM2014.8 408.8h1.1v1.1h-1.1zM1986.6 428.1h1.1v1.1h-1.1zM2045.8 430.3h1.1v1.1h-1.1zM1989.9 410.6h1.1v1.1h-1.1zM1974.7 418.2h1.1v1.1h-1.1zM1986.2 431.2h1.1v1.1h-1.1zM1995.4 409.8h1.1v1.1h-1.1zM1974.4 418.5h1.1v1.1h-1.1zM2045.6 413.1h1.1v1.1h-1.1zM2047.4 414.6h1.1v1.1h-1.1zM2015.8 407.5h1.1v1.1h-1.1zM2041.4 430.1h1.1v1.1h-1.1zM2031.6 409.6h1.1v1.1h-1.1zM1983.9 411.7h1.1v1.1h-1.1zM1963.3 418.6h1.1v1.1h-1.1zM2022.3 431.9h1.1v1.1h-1.1zM1987.5 428.6h1.1v1.1h-1.1zM1984.7 431.6h1.1v1.1h-1.1zM1979.1 415.3h1.1v1.1h-1.1zM2002.0 437.7h1.1v1.1h-1.1zM1976.1 424.5h1.1v1.1h-1.1zM1974.0 418.8h1.1v1.1h-1.1zM2048.6 411.3h1.1v1.1h-1.1zM1979.7 414.9h1.1v1.1h-1.1zM2043.6 411.1h1.1v1.1h-1.1zM2046.9 413.9h1.1v1.1h-1.1zM1979.6 425.0h1.1v1.1h-1.1zM2050.0 415.5h1.1v1.1h-1.1zM2031.0 408.5h1.1v1.1h-1.1zM2001.6 407.4h1.1v1.1h-1.1zM2053.3 416.9h1.1v1.1h-1.1zM1982.7 426.8h1.1v1.1h-1.1zM2048.8 425.0h1.1v1.1h-1.1zM2047.8 413.1h1.1v1.1h-1.1zM2046.6 429.5h1.1v1.1h-1.1zM1975.2 422.2h1.1v1.1h-1.1zM1991.1 410.9h1.1v1.1h-1.1zM2049.3 416.4h1.1v1.1h-1.1zM1985.2 412.1h1.1v1.1h-1.1zM2031.8 431.0h1.1v1.1h-1.1zM1977.1 426.8h1.1v1.1h-1.1zM2032.5 409.0h1.1v1.1h-1.1zM2048.8 430.2h1.1v1.1h-1.1zM2034.3 405.3h1.1v1.1h-1.1zM1971.1 418.0h1.1v1.1h-1.1zM2048.7 424.7h1.1v1.1h-1.1zM2049.7 422.6h1.1v1.1h-1.1zM2014.9 431.8h1.1v1.1h-1.1zM1980.4 415.9h1.1v1.1h-1.1zM1981.8 414.5h1.1v1.1h-1.1zM1994.8 410.3h1.1v1.1h-1.1zM1992.7 433.5h1.1v1.1h-1.1zM1977.6 417.4h1.1v1.1h-1.1zM1989.9 410.5h1.1v1.1h-1.1zM2032.9 432.9h1.1v1.1h-1.1zM2054.2 424.8h1.1v1.1h-1.1zM2052.2 416.0h1.1v1.1h-1.1zM2054.8 425.9h1.1v1.1h-1.1zM1994.9 430.9h1.1v1.1h-1.1zM1984.1 412.0h1.1v1.1h-1.1zM1988.3 435.4h1.1v1.1h-1.1zM2028.1 409.0h1.1v1.1h-1.1zM2021.2 407.3h1.1v1.1h-1.1zM2031.1 432.8h1.1v1.1h-1.1zM1986.3 411.4h1.1v1.1h-1.1zM2045.6 427.9h1.1v1.1h-1.1zM1985.6 411.9h1.1v1.1h-1.1zM2002.9 407.1h1.1v1.1h-1.1zM2044.3 412.2h1.1v1.1h-1.1zM2050.3 423.3h1.1v1.1h-1.1zM2026.7 433.1h1.1v1.1h-1.1zM2055.9 414.2h1.1v1.1h-1.1zM2012.1 433.0h1.1v1.1h-1.1zM1991.2 411.2h1.1v1.1h-1.1zM1985.3 427.6h1.1v1.1h-1.1zM1988.9 409.6h1.1v1.1h-1.1zM1985.3 428.0h1.1v1.1h-1.1zM1977.0 417.3h1.1v1.1h-1.1zM2015.5 432.2h1.1v1.1h-1.1zM1978.7 423.4h1.1v1.1h-1.1zM2015.9 405.8h1.1v1.1h-1.1zM1999.4 431.1h1.1v1.1h-1.1zM2019.3 408.6h1.1v1.1h-1.1zM2040.6 429.5h1.1v1.1h-1.1zM2047.6 427.2h1.1v1.1h-1.1zM2006.7 431.9h1.1v1.1h-1.1zM2036.5 409.3h1.1v1.1h-1.1zM2032.2 431.8h1.1v1.1h-1.1zM2043.4 411.7h1.1v1.1h-1.1zM2001.6 409.1h1.1v1.1h-1.1zM2002.6 404.4h1.1v1.1h-1.1zM2034.8 409.2h1.1v1.1h-1.1zM1986.7 428.1h1.1v1.1h-1.1zM1970.7 418.4h1.1v1.1h-1.1zM2032.5 432.6h1.1v1.1h-1.1zM1971.6 417.1h1.1v1.1h-1.1zM2044.2 412.5h1.1v1.1h-1.1zM2037.3 434.4h1.1v1.1h-1.1zM1979.5 408.4h1.1v1.1h-1.1zM2053.5 419.7h1.1v1.1h-1.1zM2040.0 408.8h1.1v1.1h-1.1zM1980.6 427.5h1.1v1.1h-1.1zM2032.8 431.7h1.1v1.1h-1.1zM2018.2 406.3h1.1v1.1h-1.1zM1977.7 424.3h1.1v1.1h-1.1zM1981.4 425.4h1.1v1.1h-1.1zM2038.1 409.8h1.1v1.1h-1.1zM1983.9 427.4h1.1v1.1h-1.1zM2003.9 408.5h1.1v1.1h-1.1zM2041.5 406.5h1.1v1.1h-1.1zM1984.2 427.3h1.1v1.1h-1.1zM2018.9 407.3h1.1v1.1h-1.1zM2001.9 409.0h1.1v1.1h-1.1zM2047.4 413.6h1.1v1.1h-1.1zM2054.2 429.5h1.1v1.1h-1.1zM2043.3 429.0h1.1v1.1h-1.1zM1978.8 415.1h1.1v1.1h-1.1zM2014.3 408.4h1.1v1.1h-1.1zM2046.2 413.4h1.1v1.1h-1.1zM2021.1 408.7h1.1v1.1h-1.1zM1978.3 422.4h1.1v1.1h-1.1zM1993.6 432.3h1.1v1.1h-1.1zM2003.6 408.8h1.1v1.1h-1.1zM2053.6 426.2h1.1v1.1h-1.1zM2016.1 433.5h1.1v1.1h-1.1zM2022.3 432.2h1.1v1.1h-1.1zM2054.3 424.2h1.1v1.1h-1.1zM2041.9 429.1h1.1v1.1h-1.1zM2040.9 410.4h1.1v1.1h-1.1zM2034.9 432.8h1.1v1.1h-1.1zM2007.3 432.6h1.1v1.1h-1.1zM2002.0 432.8h1.1v1.1h-1.1zM1983.2 411.5h1.1v1.1h-1.1zM1977.1 428.2h1.1v1.1h-1.1zM2041.7 411.3h1.1v1.1h-1.1zM2040.2 429.7h1.1v1.1h-1.1zM2049.5 417.1h1.1v1.1h-1.1zM1970.2 419.4h1.1v1.1h-1.1zM2046.0 413.5h1.1v1.1h-1.1zM1995.6 430.9h1.1v1.1h-1.1zM2048.4 426.2h1.1v1.1h-1.1zM1974.7 423.2h1.1v1.1h-1.1zM2019.3 406.7h1.1v1.1h-1.1zM2018.8 408.3h1.1v1.1h-1.1zM2038.5 410.2h1.1v1.1h-1.1zM2007.9 408.2h1.1v1.1h-1.1zM2036.1 431.2h1.1v1.1h-1.1zM2036.3 431.1h1.1v1.1h-1.1zM1981.6 414.0h1.1v1.1h-1.1zM2049.4 414.5h1.1v1.1h-1.1zM1977.6 419.0h1.1v1.1h-1.1zM2056.9 416.0h1.1v1.1h-1.1zM2029.4 409.2h1.1v1.1h-1.1zM2030.7 408.0h1.1v1.1h-1.1zM1983.6 409.9h1.1v1.1h-1.1zM1977.8 425.0h1.1v1.1h-1.1zM1995.6 408.5h1.1v1.1h-1.1zM1990.0 430.9h1.1v1.1h-1.1zM2027.8 432.7h1.1v1.1h-1.1zM2021.2 408.5h1.1v1.1h-1.1zM2006.0 409.0h1.1v1.1h-1.1zM2050.9 416.0h1.1v1.1h-1.1zM1980.6 426.4h1.1v1.1h-1.1zM1975.8 418.3h1.1v1.1h-1.1zM2049.3 427.8h1.1v1.1h-1.1zM1972.2 415.5h1.1v1.1h-1.1zM2052.1 424.5h1.1v1.1h-1.1zM1984.1 411.5h1.1v1.1h-1.1zM2047.9 426.7h1.1v1.1h-1.1zM2023.7 432.1h1.1v1.1h-1.1zM2042.4 411.5h1.1v1.1h-1.1zM1971.8 424.2h1.1v1.1h-1.1zM1999.9 408.5h1.1v1.1h-1.1zM2032.5 407.7h1.1v1.1h-1.1zM1980.8 411.7h1.1v1.1h-1.1zM1994.0 409.8h1.1v1.1h-1.1zM1978.1 427.1h1.1v1.1h-1.1zM1980.3 427.5h1.1v1.1h-1.1zM1983.9 428.0h1.1v1.1h-1.1zM2016.6 408.6h1.1v1.1h-1.1zM1989.6 430.7h1.1v1.1h-1.1zM1973.1 430.7h1.1v1.1h-1.1zM2027.4 406.8h1.1v1.1h-1.1zM2002.2 409.2h1.1v1.1h-1.1zM1983.9 427.2h1.1v1.1h-1.1zM1971.6 413.7h1.1v1.1h-1.1zM1991.3 410.3h1.1v1.1h-1.1zM1974.7 413.8h1.1v1.1h-1.1zM2032.8 431.5h1.1v1.1h-1.1zM2000.4 431.6h1.1v1.1h-1.1zM2050.8 420.1h1.1v1.1h-1.1zM1977.7 424.1h1.1v1.1h-1.1zM1977.9 414.5h1.1v1.1h-1.1zM2044.7 411.7h1.1v1.1h-1.1zM2007.0 432.6h1.1v1.1h-1.1zM1965.5 421.2h1.1v1.1h-1.1zM2051.3 427.3h1.1v1.1h-1.1zM1993.6 432.5h1.1v1.1h-1.1zM2029.6 431.8h1.1v1.1h-1.1zM2037.7 408.0h1.1v1.1h-1.1zM1971.8 422.8h1.1v1.1h-1.1zM1970.6 424.0h1.1v1.1h-1.1zM1976.0 416.8h1.1v1.1h-1.1zM1993.1 432.1h1.1v1.1h-1.1zM2021.4 408.8h1.1v1.1h-1.1zM2007.2 408.5h1.1v1.1h-1.1zM1979.5 424.0h1.1v1.1h-1.1zM1994.8 409.6h1.1v1.1h-1.1zM1983.9 410.1h1.1v1.1h-1.1zM1987.2 411.9h1.1v1.1h-1.1zM1972.1 422.5h1.1v1.1h-1.1zM1986.6 412.3h1.1v1.1h-1.1zM2049.6 416.5h1.1v1.1h-1.1zM1997.5 431.2h1.1v1.1h-1.1zM2053.9 427.2h1.1v1.1h-1.1zM2022.9 407.2h1.1v1.1h-1.1zM2029.5 431.3h1.1v1.1h-1.1zM1994.1 430.8h1.1v1.1h-1.1zM1959.2 422.0h1.1v1.1h-1.1zM1990.3 410.9h1.1v1.1h-1.1zM2021.2 407.7h1.1v1.1h-1.1zM1990.5 429.6h1.1v1.1h-1.1zM1974.5 425.1h1.1v1.1h-1.1zM2041.2 430.5h1.1v1.1h-1.1zM1988.1 411.9h1.1v1.1h-1.1zM2040.1 429.8h1.1v1.1h-1.1zM2001.8 432.8h1.1v1.1h-1.1zM2049.9 423.1h1.1v1.1h-1.1zM2037.5 431.6h1.1v1.1h-1.1zM2052.2 422.3h1.1v1.1h-1.1zM2036.3 430.8h1.1v1.1h-1.1zM2027.0 409.0h1.1v1.1h-1.1zM1984.1 412.9h1.1v1.1h-1.1zM1977.6 426.2h1.1v1.1h-1.1zM2040.5 432.5h1.1v1.1h-1.1zM2044.5 412.1h1.1v1.1h-1.1zM2054.3 425.7h1.1v1.1h-1.1zM1980.6 413.5h1.1v1.1h-1.1zM2026.4 432.6h1.1v1.1h-1.1zM2043.3 411.9h1.1v1.1h-1.1zM1996.2 430.6h1.1v1.1h-1.1zM2036.4 409.1h1.1v1.1h-1.1zM2054.5 418.7h1.1v1.1h-1.1zM1991.9 410.5h1.1v1.1h-1.1zM1975.8 415.0h1.1v1.1h-1.1zM1983.1 413.4h1.1v1.1h-1.1zM1978.0 419.1h1.1v1.1h-1.1zM2004.7 408.5h1.1v1.1h-1.1zM1980.3 425.5h1.1v1.1h-1.1zM2047.1 426.8h1.1v1.1h-1.1zM2033.2 431.9h1.1v1.1h-1.1zM1978.9 424.0h1.1v1.1h-1.1zM2049.2 411.4h1.1v1.1h-1.1zM2038.8 410.5h1.1v1.1h-1.1zM2052.5 420.9h1.1v1.1h-1.1zM2016.3 432.0h1.1v1.1h-1.1zM2032.8 405.9h1.1v1.1h-1.1zM2026.4 432.2h1.1v1.1h-1.1zM2050.7 414.5h1.1v1.1h-1.1zM1999.5 409.2h1.1v1.1h-1.1zM2031.9 409.4h1.1v1.1h-1.1zM1978.1 418.9h1.1v1.1h-1.1zM1978.0 416.7h1.1v1.1h-1.1zM2048.5 427.6h1.1v1.1h-1.1zM2019.7 408.8h1.1v1.1h-1.1zM1992.5 433.1h1.1v1.1h-1.1zM1973.5 424.0h1.1v1.1h-1.1zM2000.3 431.7h1.1v1.1h-1.1zM1982.5 410.5h1.1v1.1h-1.1zM1985.1 427.9h1.1v1.1h-1.1zM1996.4 407.7h1.1v1.1h-1.1zM2058.5 423.9h1.1v1.1h-1.1zM2002.1 408.9h1.1v1.1h-1.1zM2006.3 408.1h1.1v1.1h-1.1zM1976.2 422.8h1.1v1.1h-1.1zM1976.6 424.2h1.1v1.1h-1.1zM1997.8 431.1h1.1v1.1h-1.1zM2024.5 432.2h1.1v1.1h-1.1zM2034.4 431.0h1.1v1.1h-1.1zM1977.5 422.9h1.1v1.1h-1.1zM2008.0 405.8h1.1v1.1h-1.1zM2005.5 432.1h1.1v1.1h-1.1zM1977.1 419.6h1.1v1.1h-1.1zM2049.4 431.6h1.1v1.1h-1.1zM1974.5 422.6h1.1v1.1h-1.1zM2049.5 426.4h1.1v1.1h-1.1zM2042.6 410.2h1.1v1.1h-1.1zM2051.6 421.2h1.1v1.1h-1.1zM1984.4 429.0h1.1v1.1h-1.1zM2049.2 426.9h1.1v1.1h-1.1zM2032.1 408.9h1.1v1.1h-1.1zM1971.4 424.3h1.1v1.1h-1.1zM1994.9 430.6h1.1v1.1h-1.1zM1983.5 427.1h1.1v1.1h-1.1zM2048.4 427.4h1.1v1.1h-1.1zM2051.3 415.6h1.1v1.1h-1.1zM1987.8 411.0h1.1v1.1h-1.1zM1970.6 414.2h1.1v1.1h-1.1z" fill="#222"/>
<path d="M2013.9 360.0h1.2v1.2h-1.2zM2019.6 381.0h1.2v1.2h-1.2zM2004.4 346.3h1.2v1.2h-1.2zM2032.5 364.8h1.2v1.2h-1.2zM2019.4 359.7h1.2v1.2h-1.2zM2035.3 376.9h1.2v1.2h-1.2zM2029.4 356.8h1.2v1.2h-1.2zM2043.2 401.2h1.2v1.2h-1.2zM2028.2 380.7h1.2v1.2h-1.2zM1999.7 379.8h1.2v1.2h-1.2zM2019.9 375.7h1.2v1.2h-1.2zM2029.5 360.2h1.2v1.2h-1.2zM2003.4 374.4h1.2v1.2h-1.2zM2013.8 360.4h1.2v1.2h-1.2zM2015.4 360.2h1.2v1.2h-1.2zM1996.6 391.3h1.2v1.2h-1.2zM2024.8 389.2h1.2v1.2h-1.2zM2043.8 367.5h1.2v1.2h-1.2zM2002.2 349.1h1.2v1.2h-1.2zM2008.7 357.0h1.2v1.2h-1.2zM2022.9 327.0h1.2v1.2h-1.2zM2025.8 336.8h1.2v1.2h-1.2zM2025.3 364.8h1.2v1.2h-1.2zM2018.6 365.5h1.2v1.2h-1.2zM2016.1 354.8h1.2v1.2h-1.2zM2003.5 366.4h1.2v1.2h-1.2zM2036.5 381.1h1.2v1.2h-1.2zM2014.6 395.9h1.2v1.2h-1.2zM2021.4 365.6h1.2v1.2h-1.2zM2018.8 368.8h1.2v1.2h-1.2zM2017.2 365.3h1.2v1.2h-1.2zM2010.1 359.5h1.2v1.2h-1.2zM2047.1 365.6h1.2v1.2h-1.2zM2019.4 377.6h1.2v1.2h-1.2zM2029.8 344.7h1.2v1.2h-1.2zM2019.7 385.4h1.2v1.2h-1.2zM2025.0 369.4h1.2v1.2h-1.2zM2039.1 353.4h1.2v1.2h-1.2zM2022.9 356.6h1.2v1.2h-1.2zM2038.4 328.0h1.2v1.2h-1.2zM2014.6 356.4h1.2v1.2h-1.2zM2029.3 379.1h1.2v1.2h-1.2zM2037.3 335.5h1.2v1.2h-1.2zM2030.3 361.1h1.2v1.2h-1.2zM2014.7 377.8h1.2v1.2h-1.2zM2011.9 325.5h1.2v1.2h-1.2zM2017.9 337.0h1.2v1.2h-1.2zM2014.9 374.4h1.2v1.2h-1.2zM2025.4 398.7h1.2v1.2h-1.2zM2019.8 336.3h1.2v1.2h-1.2zM2013.7 348.6h1.2v1.2h-1.2zM2008.6 375.7h1.2v1.2h-1.2zM2014.9 327.5h1.2v1.2h-1.2zM2029.7 364.8h1.2v1.2h-1.2zM2025.9 369.1h1.2v1.2h-1.2zM2028.9 367.8h1.2v1.2h-1.2zM2035.6 375.5h1.2v1.2h-1.2zM2026.3 375.2h1.2v1.2h-1.2zM2006.0 363.7h1.2v1.2h-1.2zM2019.1 371.2h1.2v1.2h-1.2zM2007.1 399.7h1.2v1.2h-1.2zM2023.1 342.8h1.2v1.2h-1.2zM2003.2 361.4h1.2v1.2h-1.2zM2021.0 352.6h1.2v1.2h-1.2zM2023.0 354.2h1.2v1.2h-1.2zM2028.1 352.5h1.2v1.2h-1.2zM2021.6 386.6h1.2v1.2h-1.2zM2050.3 346.8h1.2v1.2h-1.2zM2016.9 350.2h1.2v1.2h-1.2zM2030.6 344.0h1.2v1.2h-1.2zM2016.7 366.4h1.2v1.2h-1.2zM2011.2 347.9h1.2v1.2h-1.2zM2016.8 325.0h1.2v1.2h-1.2zM2006.1 358.7h1.2v1.2h-1.2zM2023.6 363.3h1.2v1.2h-1.2zM2002.5 357.7h1.2v1.2h-1.2zM2030.8 378.1h1.2v1.2h-1.2zM2021.1 349.3h1.2v1.2h-1.2zM2028.9 355.4h1.2v1.2h-1.2zM2009.1 351.0h1.2v1.2h-1.2zM2037.9 371.4h1.2v1.2h-1.2zM2034.8 357.4h1.2v1.2h-1.2zM2032.3 355.0h1.2v1.2h-1.2zM2030.4 357.0h1.2v1.2h-1.2zM2021.1 373.5h1.2v1.2h-1.2zM2035.3 357.2h1.2v1.2h-1.2zM2002.8 361.4h1.2v1.2h-1.2zM2022.2 369.2h1.2v1.2h-1.2zM2036.5 373.3h1.2v1.2h-1.2zM2030.9 345.0h1.2v1.2h-1.2zM2030.5 372.1h1.2v1.2h-1.2zM2023.7 402.7h1.2v1.2h-1.2zM2011.8 364.8h1.2v1.2h-1.2zM2027.1 381.9h1.2v1.2h-1.2zM2017.2 373.1h1.2v1.2h-1.2zM2018.9 369.4h1.2v1.2h-1.2zM2020.5 344.2h1.2v1.2h-1.2zM2021.8 384.5h1.2v1.2h-1.2zM2011.4 362.2h1.2v1.2h-1.2zM2029.3 345.6h1.2v1.2h-1.2zM2024.0 345.8h1.2v1.2h-1.2zM2044.2 362.6h1.2v1.2h-1.2zM2030.1 369.4h1.2v1.2h-1.2zM2023.1 398.0h1.2v1.2h-1.2zM2007.5 388.1h1.2v1.2h-1.2zM2021.5 395.2h1.2v1.2h-1.2zM2024.1 353.5h1.2v1.2h-1.2zM2025.0 381.7h1.2v1.2h-1.2zM2022.4 376.8h1.2v1.2h-1.2zM2016.3 324.3h1.2v1.2h-1.2zM2031.9 381.0h1.2v1.2h-1.2zM2023.6 368.4h1.2v1.2h-1.2zM2033.4 357.9h1.2v1.2h-1.2zM2014.2 363.2h1.2v1.2h-1.2zM2035.1 339.3h1.2v1.2h-1.2zM2035.1 354.2h1.2v1.2h-1.2zM2009.9 392.2h1.2v1.2h-1.2zM2020.9 341.0h1.2v1.2h-1.2zM2018.1 385.6h1.2v1.2h-1.2zM2035.1 358.5h1.2v1.2h-1.2zM2026.5 381.3h1.2v1.2h-1.2zM2014.9 374.1h1.2v1.2h-1.2zM2021.6 356.3h1.2v1.2h-1.2zM2016.6 368.3h1.2v1.2h-1.2zM2022.3 355.7h1.2v1.2h-1.2zM2017.3 389.3h1.2v1.2h-1.2zM2024.4 384.7h1.2v1.2h-1.2zM2035.2 378.8h1.2v1.2h-1.2zM2047.0 350.5h1.2v1.2h-1.2zM2030.9 360.6h1.2v1.2h-1.2zM2042.4 401.0h1.2v1.2h-1.2zM2000.5 347.6h1.2v1.2h-1.2zM2029.3 382.8h1.2v1.2h-1.2zM2030.1 365.6h1.2v1.2h-1.2zM2027.0 380.1h1.2v1.2h-1.2zM2021.1 387.5h1.2v1.2h-1.2zM1997.1 379.7h1.2v1.2h-1.2zM2010.6 386.2h1.2v1.2h-1.2zM2019.5 349.2h1.2v1.2h-1.2zM2026.1 348.8h1.2v1.2h-1.2zM2012.0 335.7h1.2v1.2h-1.2zM2021.7 376.9h1.2v1.2h-1.2zM2033.3 364.2h1.2v1.2h-1.2zM2033.5 367.4h1.2v1.2h-1.2zM2021.0 378.5h1.2v1.2h-1.2zM2033.6 360.2h1.2v1.2h-1.2zM2019.3 363.8h1.2v1.2h-1.2zM2022.9 349.0h1.2v1.2h-1.2zM2033.3 359.0h1.2v1.2h-1.2zM2027.1 350.5h1.2v1.2h-1.2zM2025.9 374.8h1.2v1.2h-1.2zM2026.1 402.5h1.2v1.2h-1.2zM2032.6 353.8h1.2v1.2h-1.2zM2017.8 375.7h1.2v1.2h-1.2zM2022.7 368.0h1.2v1.2h-1.2zM2018.9 330.8h1.2v1.2h-1.2zM2019.5 322.6h1.2v1.2h-1.2zM2026.1 352.5h1.2v1.2h-1.2zM2014.1 362.6h1.2v1.2h-1.2zM2025.0 338.4h1.2v1.2h-1.2zM2002.8 345.7h1.2v1.2h-1.2zM1999.5 347.7h1.2v1.2h-1.2zM2039.5 345.9h1.2v1.2h-1.2zM2029.2 339.6h1.2v1.2h-1.2zM2025.3 360.6h1.2v1.2h-1.2zM2021.3 378.4h1.2v1.2h-1.2zM2041.3 370.9h1.2v1.2h-1.2zM2023.4 347.5h1.2v1.2h-1.2zM2028.4 362.1h1.2v1.2h-1.2zM2031.2 366.1h1.2v1.2h-1.2zM2041.1 327.3h1.2v1.2h-1.2zM2018.7 384.6h1.2v1.2h-1.2zM2018.1 351.2h1.2v1.2h-1.2zM2019.1 339.4h1.2v1.2h-1.2zM2034.6 344.8h1.2v1.2h-1.2zM2012.4 358.9h1.2v1.2h-1.2zM2033.0 350.6h1.2v1.2h-1.2zM2014.4 384.7h1.2v1.2h-1.2zM2031.5 359.5h1.2v1.2h-1.2zM2009.7 336.0h1.2v1.2h-1.2zM2014.3 322.4h1.2v1.2h-1.2zM2030.2 354.4h1.2v1.2h-1.2zM2034.9 344.0h1.2v1.2h-1.2zM2031.6 390.2h1.2v1.2h-1.2zM2013.8 347.9h1.2v1.2h-1.2zM2020.8 335.0h1.2v1.2h-1.2zM2038.2 318.9h1.2v1.2h-1.2zM2009.8 361.6h1.2v1.2h-1.2zM2019.5 370.3h1.2v1.2h-1.2zM2025.0 362.7h1.2v1.2h-1.2zM2034.5 324.2h1.2v1.2h-1.2zM2022.0 352.7h1.2v1.2h-1.2zM2023.5 371.4h1.2v1.2h-1.2zM2012.0 354.2h1.2v1.2h-1.2zM2030.7 374.0h1.2v1.2h-1.2zM2047.4 337.8h1.2v1.2h-1.2zM2030.6 371.4h1.2v1.2h-1.2zM2019.7 356.2h1.2v1.2h-1.2zM2019.7 356.0h1.2v1.2h-1.2zM2030.2 359.0h1.2v1.2h-1.2zM2017.1 343.0h1.2v1.2h-1.2zM2021.5 349.1h1.2v1.2h-1.2zM2020.0 387.8h1.2v1.2h-1.2zM2026.0 377.1h1.2v1.2h-1.2zM2025.9 368.2h1.2v1.2h-1.2zM2020.6 360.8h1.2v1.2h-1.2zM2030.4 345.3h1.2v1.2h-1.2zM2036.7 367.7h1.2v1.2h-1.2zM2013.8 357.2h1.2v1.2h-1.2zM2014.6 370.2h1.2v1.2h-1.2zM2014.1 389.8h1.2v1.2h-1.2zM2013.4 321.5h1.2v1.2h-1.2zM2014.0 326.8h1.2v1.2h-1.2zM2021.6 388.2h1.2v1.2h-1.2zM2029.1 340.2h1.2v1.2h-1.2zM2013.6 402.6h1.2v1.2h-1.2zM2025.5 367.1h1.2v1.2h-1.2zM2036.3 369.8h1.2v1.2h-1.2zM2025.9 379.3h1.2v1.2h-1.2zM2015.3 345.8h1.2v1.2h-1.2zM2022.6 348.1h1.2v1.2h-1.2zM2021.3 368.9h1.2v1.2h-1.2zM2047.8 350.0h1.2v1.2h-1.2zM2020.7 363.7h1.2v1.2h-1.2zM2026.8 387.9h1.2v1.2h-1.2zM2016.6 350.6h1.2v1.2h-1.2zM2004.0 348.5h1.2v1.2h-1.2zM2027.9 367.9h1.2v1.2h-1.2zM2010.8 359.5h1.2v1.2h-1.2zM2022.3 377.1h1.2v1.2h-1.2zM2015.5 362.0h1.2v1.2h-1.2zM2002.0 344.0h1.2v1.2h-1.2zM2039.8 323.2h1.2v1.2h-1.2zM2018.3 371.4h1.2v1.2h-1.2zM2017.9 350.8h1.2v1.2h-1.2zM2021.3 366.9h1.2v1.2h-1.2zM2021.1 329.4h1.2v1.2h-1.2zM2020.4 349.9h1.2v1.2h-1.2zM2016.0 371.5h1.2v1.2h-1.2zM2029.0 384.9h1.2v1.2h-1.2zM2016.5 385.5h1.2v1.2h-1.2zM2034.9 389.7h1.2v1.2h-1.2zM2037.3 364.1h1.2v1.2h-1.2zM2020.1 383.5h1.2v1.2h-1.2zM2007.0 371.2h1.2v1.2h-1.2zM2016.2 359.6h1.2v1.2h-1.2zM2002.8 349.2h1.2v1.2h-1.2zM2021.8 384.8h1.2v1.2h-1.2zM2032.9 365.4h1.2v1.2h-1.2zM2019.9 350.4h1.2v1.2h-1.2zM2026.4 362.0h1.2v1.2h-1.2zM2028.7 402.0h1.2v1.2h-1.2zM2021.6 337.1h1.2v1.2h-1.2zM2012.5 337.8h1.2v1.2h-1.2zM2008.8 393.1h1.2v1.2h-1.2zM2024.5 336.6h1.2v1.2h-1.2zM2029.2 392.2h1.2v1.2h-1.2zM2018.0 353.5h1.2v1.2h-1.2zM2018.3 372.7h1.2v1.2h-1.2zM2029.0 390.6h1.2v1.2h-1.2zM2035.3 390.7h1.2v1.2h-1.2zM2037.0 380.2h1.2v1.2h-1.2zM2005.2 364.4h1.2v1.2h-1.2zM2025.5 359.3h1.2v1.2h-1.2zM2032.0 359.8h1.2v1.2h-1.2zM2011.8 395.9h1.2v1.2h-1.2zM2029.3 371.4h1.2v1.2h-1.2zM2032.2 388.3h1.2v1.2h-1.2zM2025.8 317.8h1.2v1.2h-1.2zM2014.6 357.9h1.2v1.2h-1.2zM2011.2 371.0h1.2v1.2h-1.2zM2035.1 357.3h1.2v1.2h-1.2zM2017.0 342.3h1.2v1.2h-1.2zM2024.6 375.5h1.2v1.2h-1.2zM2014.2 382.8h1.2v1.2h-1.2zM2016.6 348.5h1.2v1.2h-1.2zM2024.0 382.4h1.2v1.2h-1.2zM2015.0 373.6h1.2v1.2h-1.2zM2014.2 394.7h1.2v1.2h-1.2zM2021.4 364.5h1.2v1.2h-1.2zM2029.9 384.9h1.2v1.2h-1.2zM2035.9 373.6h1.2v1.2h-1.2zM2015.4 356.2h1.2v1.2h-1.2zM2027.6 378.6h1.2v1.2h-1.2zM2037.4 375.4h1.2v1.2h-1.2zM2033.7 397.3h1.2v1.2h-1.2zM2023.8 337.3h1.2v1.2h-1.2zM2009.0 338.2h1.2v1.2h-1.2zM2039.5 350.1h1.2v1.2h-1.2zM2035.6 378.7h1.2v1.2h-1.2zM2040.9 387.1h1.2v1.2h-1.2zM2020.9 363.0h1.2v1.2h-1.2zM2022.9 370.5h1.2v1.2h-1.2zM2016.2 366.3h1.2v1.2h-1.2zM2039.7 333.0h1.2v1.2h-1.2zM2024.8 348.9h1.2v1.2h-1.2zM2024.1 383.8h1.2v1.2h-1.2zM2021.4 382.5h1.2v1.2h-1.2zM2004.5 389.1h1.2v1.2h-1.2zM2015.4 379.4h1.2v1.2h-1.2zM2013.7 371.4h1.2v1.2h-1.2zM2039.1 372.7h1.2v1.2h-1.2zM2024.8 338.7h1.2v1.2h-1.2zM2022.3 362.6h1.2v1.2h-1.2zM2004.2 384.7h1.2v1.2h-1.2zM2051.7 381.3h1.2v1.2h-1.2zM2035.9 377.8h1.2v1.2h-1.2zM2011.2 393.7h1.2v1.2h-1.2zM2008.4 362.8h1.2v1.2h-1.2zM2025.1 384.7h1.2v1.2h-1.2zM2026.6 374.7h1.2v1.2h-1.2zM2013.6 341.2h1.2v1.2h-1.2zM2022.7 352.8h1.2v1.2h-1.2zM2007.6 341.7h1.2v1.2h-1.2zM2016.6 329.9h1.2v1.2h-1.2zM2007.2 334.3h1.2v1.2h-1.2zM2024.0 375.2h1.2v1.2h-1.2zM2044.1 337.0h1.2v1.2h-1.2zM2014.5 385.3h1.2v1.2h-1.2zM2019.6 360.5h1.2v1.2h-1.2zM2040.8 360.2h1.2v1.2h-1.2zM2009.3 340.7h1.2v1.2h-1.2zM2025.7 373.1h1.2v1.2h-1.2zM2006.9 347.3h1.2v1.2h-1.2zM2027.9 378.5h1.2v1.2h-1.2zM2014.9 379.4h1.2v1.2h-1.2zM2028.3 331.3h1.2v1.2h-1.2zM2018.6 375.3h1.2v1.2h-1.2zM2015.7 324.2h1.2v1.2h-1.2zM2018.9 382.0h1.2v1.2h-1.2z" fill="#444"/>
</g>
<rect x="1282.3" y="315.4" width="79.5" height="90.1" fill="none" stroke="#000" stroke-width="1.5"/>
<rect x="1517" y="314" width="79.2" height="89.7" fill="none" stroke="#000" stroke-width="1.5"/>
<rect x="1747.2" y="314.6" width="79.4" height="89.4" fill="none" stroke="#000" stroke-width="1.5"/>
<text x="1318" y="305" font-size="22" text-anchor="middle">0.02</text>
<text x="1555.5" y="305" font-size="22" text-anchor="middle">0.13</text>
<text x="1784" y="305" font-size="22" text-anchor="middle">0.30</text>
<text x="2015.5" y="305" font-size="22" text-anchor="middle">0.50</text>
<path d="M1351.2 420.5 L1350.3 421.9 L1350.5 422.9 L1350.1 423.8 L1350.4 424.7 L1349.2 425.4 L1348.5 426.1 L1347.6 426.7 L1346.3 427.2 L1344.5 427.6 L1343.9 428.3 L1343.0 428.9 L1341.8 429.4 L1340.2 429.8 L1339.1 430.4 L1337.1 430.7 L1335.3 431.0 L1332.9 431.1 L1330.7 431.3 L1328.2 431.4 L1325.4 431.2 L1322.5 431.0 L1319.2 431.1 L1314.4 431.1 L1311.1 431.0 L1308.3 431.1 L1305.5 431.1 L1303.0 430.9 L1300.7 430.7 L1298.5 430.4 L1296.6 429.9 L1295.2 429.3 L1293.6 428.7 L1292.2 428.1 L1291.1 427.5 L1289.9 426.9 L1288.7 426.4 L1287.5 425.8 L1286.5 425.3 L1285.6 424.7 L1284.8 424.1 L1284.5 423.5 L1284.7 422.8 L1283.9 422.2 L1283.2 421.5 L1282.9 420.5 L1282.8 419.5 L1282.6 418.7 L1283.3 418.1 L1284.1 417.5 L1284.7 416.9 L1285.2 416.2 L1286.0 415.6 L1287.0 415.1 L1288.3 414.5 L1289.9 414.0 L1291.3 413.5 L1293.0 413.1 L1294.4 412.6 L1296.1 412.1 L1297.5 411.5 L1299.3 411.0 L1301.3 410.7 L1303.5 410.4 L1305.8 410.1 L1308.2 409.9 L1310.9 409.6 L1314.2 409.4 L1319.4 409.4 L1322.9 409.2 L1325.6 409.5 L1328.2 409.6 L1330.4 409.9 L1332.3 410.3 L1334.5 410.4 L1336.8 410.5 L1338.2 411.0 L1340.0 411.3 L1341.9 411.6 L1342.9 412.2 L1343.6 412.8 L1344.8 413.3 L1345.9 413.8 L1346.9 414.4 L1348.0 415.0 L1349.0 415.6 L1350.3 416.3 L1350.5 417.1 L1351.1 418.0 L1350.5 419.1Z" fill="#111"/>
<path d="M1285.5 409.2h1.1v1.1h-1.1zM1344.5 428.0h1.1v1.1h-1.1zM1301.5 430.5h1.1v1.1h-1.1zM1319.8 407.6h1.1v1.1h-1.1zM1350.0 423.8h1.1v1.1h-1.1zM1334.3 407.5h1.1v1.1h-1.1zM1288.1 414.8h1.1v1.1h-1.1zM1293.5 428.8h1.1v1.1h-1.1zM1340.8 411.8h1.1v1.1h-1.1zM1331.8 430.6h1.1v1.1h-1.1zM1347.3 431.8h1.1v1.1h-1.1zM1290.9 413.2h1.1v1.1h-1.1zM1290.6 428.7h1.1v1.1h-1.1zM1296.5 411.7h1.1v1.1h-1.1zM1280.5 428.0h1.1v1.1h-1.1zM1300.0 410.0h1.1v1.1h-1.1zM1335.0 432.4h1.1v1.1h-1.1zM1283.8 422.9h1.1v1.1h-1.1zM1284.5 418.1h1.1v1.1h-1.1zM1321.6 431.2h1.1v1.1h-1.1zM1331.9 430.7h1.1v1.1h-1.1zM1287.6 425.6h1.1v1.1h-1.1zM1286.3 430.5h1.1v1.1h-1.1zM1350.3 422.9h1.1v1.1h-1.1zM1333.3 409.1h1.1v1.1h-1.1zM1284.0 424.6h1.1v1.1h-1.1zM1283.6 417.5h1.1v1.1h-1.1zM1341.6 410.9h1.1v1.1h-1.1zM1299.4 429.9h1.1v1.1h-1.1zM1343.4 412.8h1.1v1.1h-1.1zM1292.1 410.3h1.1v1.1h-1.1zM1330.2 409.7h1.1v1.1h-1.1zM1276.8 421.7h1.1v1.1h-1.1zM1284.0 423.2h1.1v1.1h-1.1zM1283.7 422.0h1.1v1.1h-1.1zM1323.2 408.9h1.1v1.1h-1.1zM1340.4 429.6h1.1v1.1h-1.1zM1290.2 427.3h1.1v1.1h-1.1zM1350.6 416.3h1.1v1.1h-1.1zM1358.5 416.4h1.1v1.1h-1.1zM1298.9 410.9h1.1v1.1h-1.1zM1292.2 427.6h1.1v1.1h-1.1zM1336.6 410.5h1.1v1.1h-1.1zM1347.0 426.7h1.1v1.1h-1.1zM1298.9 430.1h1.1v1.1h-1.1zM1351.5 421.4h1.1v1.1h-1.1zM1345.5 412.9h1.1v1.1h-1.1zM1288.0 412.0h1.1v1.1h-1.1zM1325.3 431.3h1.1v1.1h-1.1zM1321.1 409.1h1.1v1.1h-1.1zM1338.2 430.6h1.1v1.1h-1.1zM1288.6 428.1h1.1v1.1h-1.1zM1353.5 426.5h1.1v1.1h-1.1zM1282.8 424.1h1.1v1.1h-1.1zM1290.3 427.2h1.1v1.1h-1.1zM1290.5 427.8h1.1v1.1h-1.1zM1283.2 420.8h1.1v1.1h-1.1zM1329.4 409.9h1.1v1.1h-1.1zM1281.5 423.6h1.1v1.1h-1.1zM1318.0 409.4h1.1v1.1h-1.1zM1334.2 409.0h1.1v1.1h-1.1zM1308.0 410.0h1.1v1.1h-1.1zM1302.4 409.7h1.1v1.1h-1.1zM1313.5 431.5h1.1v1.1h-1.1zM1289.5 426.5h1.1v1.1h-1.1zM1295.1 411.5h1.1v1.1h-1.1zM1324.9 409.8h1.1v1.1h-1.1zM1289.7 411.3h1.1v1.1h-1.1zM1352.0 424.2h1.1v1.1h-1.1zM1310.7 431.3h1.1v1.1h-1.1zM1335.7 430.6h1.1v1.1h-1.1zM1290.4 431.3h1.1v1.1h-1.1zM1267.1 417.0h1.1v1.1h-1.1zM1318.8 432.3h1.1v1.1h-1.1zM1310.6 408.3h1.1v1.1h-1.1zM1349.1 426.3h1.1v1.1h-1.1zM1284.8 415.5h1.1v1.1h-1.1zM1282.4 425.1h1.1v1.1h-1.1zM1281.7 419.0h1.1v1.1h-1.1zM1311.0 432.3h1.1v1.1h-1.1zM1326.8 409.0h1.1v1.1h-1.1zM1351.7 424.4h1.1v1.1h-1.1zM1329.7 430.8h1.1v1.1h-1.1zM1350.5 418.0h1.1v1.1h-1.1zM1283.9 417.8h1.1v1.1h-1.1zM1355.2 426.1h1.1v1.1h-1.1zM1348.1 415.2h1.1v1.1h-1.1zM1287.1 425.5h1.1v1.1h-1.1zM1338.6 431.5h1.1v1.1h-1.1zM1329.8 405.9h1.1v1.1h-1.1zM1299.1 411.3h1.1v1.1h-1.1zM1324.1 432.1h1.1v1.1h-1.1zM1302.6 409.1h1.1v1.1h-1.1zM1272.9 425.1h1.1v1.1h-1.1zM1349.5 423.0h1.1v1.1h-1.1zM1303.0 433.2h1.1v1.1h-1.1zM1349.9 424.9h1.1v1.1h-1.1zM1294.5 412.1h1.1v1.1h-1.1zM1337.2 411.0h1.1v1.1h-1.1zM1304.4 410.4h1.1v1.1h-1.1zM1343.1 412.4h1.1v1.1h-1.1zM1309.9 408.8h1.1v1.1h-1.1zM1314.5 431.2h1.1v1.1h-1.1zM1286.4 415.1h1.1v1.1h-1.1zM1282.6 422.2h1.1v1.1h-1.1zM1283.9 423.1h1.1v1.1h-1.1zM1277.1 421.9h1.1v1.1h-1.1zM1288.1 426.1h1.1v1.1h-1.1zM1304.0 431.0h1.1v1.1h-1.1zM1318.0 432.7h1.1v1.1h-1.1zM1344.1 428.5h1.1v1.1h-1.1zM1279.2 418.2h1.1v1.1h-1.1zM1320.7 431.4h1.1v1.1h-1.1zM1278.1 420.2h1.1v1.1h-1.1zM1350.7 417.6h1.1v1.1h-1.1zM1284.9 425.0h1.1v1.1h-1.1zM1286.1 425.8h1.1v1.1h-1.1zM1348.3 416.3h1.1v1.1h-1.1zM1329.8 431.5h1.1v1.1h-1.1zM1286.9 415.0h1.1v1.1h-1.1zM1347.8 415.3h1.1v1.1h-1.1zM1343.6 413.0h1.1v1.1h-1.1zM1287.5 427.1h1.1v1.1h-1.1zM1349.7 415.6h1.1v1.1h-1.1zM1335.5 410.5h1.1v1.1h-1.1zM1348.9 423.6h1.1v1.1h-1.1zM1348.6 416.9h1.1v1.1h-1.1zM1297.6 430.4h1.1v1.1h-1.1zM1358.4 422.6h1.1v1.1h-1.1zM1348.8 426.8h1.1v1.1h-1.1zM1300.0 410.0h1.1v1.1h-1.1zM1342.7 408.6h1.1v1.1h-1.1zM1297.9 430.1h1.1v1.1h-1.1zM1349.0 414.5h1.1v1.1h-1.1zM1280.9 433.8h1.1v1.1h-1.1zM1348.4 415.6h1.1v1.1h-1.1zM1353.1 428.6h1.1v1.1h-1.1zM1297.1 411.5h1.1v1.1h-1.1zM1283.5 416.0h1.1v1.1h-1.1zM1347.8 414.0h1.1v1.1h-1.1zM1330.8 430.8h1.1v1.1h-1.1zM1291.8 430.9h1.1v1.1h-1.1zM1327.0 432.0h1.1v1.1h-1.1zM1348.9 417.7h1.1v1.1h-1.1zM1301.8 432.9h1.1v1.1h-1.1zM1349.1 428.4h1.1v1.1h-1.1zM1336.2 410.9h1.1v1.1h-1.1zM1282.7 414.0h1.1v1.1h-1.1zM1301.6 410.1h1.1v1.1h-1.1zM1290.0 427.3h1.1v1.1h-1.1zM1305.1 430.8h1.1v1.1h-1.1zM1345.4 413.5h1.1v1.1h-1.1zM1291.1 429.1h1.1v1.1h-1.1zM1281.7 421.5h1.1v1.1h-1.1zM1293.4 429.4h1.1v1.1h-1.1zM1295.0 429.7h1.1v1.1h-1.1zM1348.9 415.7h1.1v1.1h-1.1zM1332.6 409.8h1.1v1.1h-1.1zM1310.7 409.3h1.1v1.1h-1.1zM1340.8 409.0h1.1v1.1h-1.1zM1305.1 409.6h1.1v1.1h-1.1zM1307.7 431.6h1.1v1.1h-1.1zM1327.2 431.0h1.1v1.1h-1.1zM1284.6 424.5h1.1v1.1h-1.1zM1325.5 409.9h1.1v1.1h-1.1zM1348.0 415.6h1.1v1.1h-1.1zM1302.8 432.8h1.1v1.1h-1.1zM1345.9 412.6h1.1v1.1h-1.1zM1296.3 430.1h1.1v1.1h-1.1zM1337.2 410.4h1.1v1.1h-1.1zM1332.5 409.3h1.1v1.1h-1.1zM1281.7 422.9h1.1v1.1h-1.1zM1288.2 427.7h1.1v1.1h-1.1zM1292.3 412.3h1.1v1.1h-1.1zM1283.6 418.2h1.1v1.1h-1.1zM1284.5 417.9h1.1v1.1h-1.1zM1352.6 419.3h1.1v1.1h-1.1zM1352.5 424.4h1.1v1.1h-1.1zM1284.6 418.3h1.1v1.1h-1.1zM1335.7 409.5h1.1v1.1h-1.1zM1303.4 407.3h1.1v1.1h-1.1zM1284.7 417.9h1.1v1.1h-1.1zM1335.8 409.7h1.1v1.1h-1.1zM1346.9 413.5h1.1v1.1h-1.1zM1330.4 406.4h1.1v1.1h-1.1zM1292.0 429.4h1.1v1.1h-1.1zM1297.6 429.4h1.1v1.1h-1.1zM1323.2 431.5h1.1v1.1h-1.1zM1354.7 431.1h1.1v1.1h-1.1zM1283.9 425.4h1.1v1.1h-1.1zM1306.5 431.2h1.1v1.1h-1.1zM1318.5 409.7h1.1v1.1h-1.1zM1285.3 414.2h1.1v1.1h-1.1zM1280.7 416.3h1.1v1.1h-1.1zM1310.6 431.7h1.1v1.1h-1.1zM1301.1 410.8h1.1v1.1h-1.1zM1352.5 416.5h1.1v1.1h-1.1zM1319.1 431.7h1.1v1.1h-1.1zM1334.3 409.6h1.1v1.1h-1.1zM1346.3 414.1h1.1v1.1h-1.1zM1281.5 418.3h1.1v1.1h-1.1zM1347.5 413.9h1.1v1.1h-1.1zM1287.5 414.2h1.1v1.1h-1.1zM1284.3 415.8h1.1v1.1h-1.1zM1345.4 413.5h1.1v1.1h-1.1zM1311.1 407.6h1.1v1.1h-1.1zM1351.4 426.6h1.1v1.1h-1.1zM1283.3 423.1h1.1v1.1h-1.1zM1303.5 431.3h1.1v1.1h-1.1zM1334.5 410.7h1.1v1.1h-1.1zM1304.2 431.8h1.1v1.1h-1.1zM1339.6 411.1h1.1v1.1h-1.1zM1334.9 410.3h1.1v1.1h-1.1zM1302.7 430.6h1.1v1.1h-1.1zM1294.4 411.6h1.1v1.1h-1.1zM1344.5 411.8h1.1v1.1h-1.1zM1314.7 409.6h1.1v1.1h-1.1zM1286.3 428.1h1.1v1.1h-1.1zM1346.9 412.6h1.1v1.1h-1.1zM1346.2 414.1h1.1v1.1h-1.1z" fill="#222"/>
<path d="M1587.0 419.7 L1587.6 421.2 L1587.7 422.3 L1587.6 423.2 L1587.2 424.1 L1587.2 424.9 L1586.1 425.6 L1584.9 426.3 L1583.9 426.9 L1582.9 427.5 L1581.5 428.0 L1580.0 428.5 L1578.9 429.1 L1577.1 429.5 L1575.4 429.9 L1573.2 430.1 L1571.4 430.5 L1569.0 430.6 L1566.8 430.9 L1564.4 431.0 L1561.8 431.4 L1558.7 431.2 L1555.2 431.2 L1549.9 431.1 L1546.4 431.0 L1543.6 430.7 L1540.9 430.6 L1538.6 430.3 L1536.2 430.0 L1534.2 429.6 L1532.2 429.2 L1530.1 428.8 L1528.6 428.2 L1526.9 427.7 L1525.4 427.1 L1524.1 426.5 L1523.4 425.8 L1521.9 425.3 L1521.2 424.7 L1520.1 424.1 L1519.4 423.5 L1518.7 422.9 L1518.1 422.2 L1517.6 421.5 L1517.9 420.8 L1517.7 419.7 L1517.7 418.6 L1518.0 417.9 L1518.1 417.2 L1517.9 416.5 L1518.8 415.9 L1519.8 415.3 L1520.3 414.6 L1521.2 414.0 L1522.7 413.4 L1523.9 412.8 L1525.3 412.2 L1527.1 411.8 L1529.2 411.4 L1530.7 410.9 L1532.5 410.4 L1534.5 410.0 L1536.4 409.5 L1538.5 409.1 L1540.9 408.8 L1543.4 408.5 L1546.3 408.2 L1549.8 408.2 L1555.2 408.1 L1558.7 408.2 L1561.7 408.2 L1564.4 408.4 L1566.7 408.6 L1569.0 408.8 L1571.3 409.0 L1573.1 409.4 L1575.2 409.6 L1577.3 409.8 L1578.9 410.3 L1580.2 410.8 L1581.3 411.4 L1582.2 412.1 L1583.0 412.7 L1584.7 413.2 L1585.6 413.9 L1586.1 414.6 L1586.5 415.4 L1586.9 416.3 L1586.5 417.2 L1586.6 418.3Z" fill="#111"/>
<path d="M1564.4 430.9h1.1v1.1h-1.1zM1521.2 426.1h1.1v1.1h-1.1zM1591.6 424.1h1.1v1.1h-1.1zM1587.6 418.4h1.1v1.1h-1.1zM1526.2 428.6h1.1v1.1h-1.1zM1570.1 430.4h1.1v1.1h-1.1zM1575.3 410.3h1.1v1.1h-1.1zM1564.2 407.8h1.1v1.1h-1.1zM1586.8 421.9h1.1v1.1h-1.1zM1546.3 407.2h1.1v1.1h-1.1zM1532.8 431.7h1.1v1.1h-1.1zM1565.7 432.1h1.1v1.1h-1.1zM1584.9 429.4h1.1v1.1h-1.1zM1583.7 426.7h1.1v1.1h-1.1zM1558.7 408.1h1.1v1.1h-1.1zM1529.7 409.7h1.1v1.1h-1.1zM1523.3 413.1h1.1v1.1h-1.1zM1538.1 409.0h1.1v1.1h-1.1zM1545.5 431.1h1.1v1.1h-1.1zM1580.5 428.0h1.1v1.1h-1.1zM1529.4 410.7h1.1v1.1h-1.1zM1526.1 427.6h1.1v1.1h-1.1zM1565.7 431.4h1.1v1.1h-1.1zM1519.8 414.3h1.1v1.1h-1.1zM1592.7 424.4h1.1v1.1h-1.1zM1588.6 418.4h1.1v1.1h-1.1zM1542.7 406.2h1.1v1.1h-1.1zM1529.4 410.8h1.1v1.1h-1.1zM1517.4 410.0h1.1v1.1h-1.1zM1581.5 427.7h1.1v1.1h-1.1zM1598.9 423.1h1.1v1.1h-1.1zM1561.5 408.7h1.1v1.1h-1.1zM1550.1 406.9h1.1v1.1h-1.1zM1580.3 428.9h1.1v1.1h-1.1zM1536.2 409.3h1.1v1.1h-1.1zM1515.9 419.2h1.1v1.1h-1.1zM1525.8 411.2h1.1v1.1h-1.1zM1584.5 425.3h1.1v1.1h-1.1zM1575.9 409.9h1.1v1.1h-1.1zM1574.1 409.1h1.1v1.1h-1.1zM1514.8 413.9h1.1v1.1h-1.1zM1546.8 408.2h1.1v1.1h-1.1zM1517.5 420.1h1.1v1.1h-1.1zM1531.3 410.4h1.1v1.1h-1.1zM1586.5 422.4h1.1v1.1h-1.1zM1572.3 431.2h1.1v1.1h-1.1zM1519.8 423.4h1.1v1.1h-1.1zM1516.8 422.4h1.1v1.1h-1.1zM1505.7 418.5h1.1v1.1h-1.1zM1524.9 427.6h1.1v1.1h-1.1zM1523.5 411.4h1.1v1.1h-1.1zM1529.9 428.7h1.1v1.1h-1.1zM1537.9 409.3h1.1v1.1h-1.1zM1520.8 414.8h1.1v1.1h-1.1zM1554.3 408.1h1.1v1.1h-1.1zM1516.2 421.6h1.1v1.1h-1.1zM1542.2 408.3h1.1v1.1h-1.1zM1526.8 430.8h1.1v1.1h-1.1zM1521.8 427.3h1.1v1.1h-1.1zM1586.4 410.6h1.1v1.1h-1.1zM1573.8 408.8h1.1v1.1h-1.1zM1546.3 408.3h1.1v1.1h-1.1zM1592.2 418.0h1.1v1.1h-1.1zM1577.5 429.4h1.1v1.1h-1.1zM1517.3 414.4h1.1v1.1h-1.1zM1579.1 430.7h1.1v1.1h-1.1zM1529.1 429.0h1.1v1.1h-1.1zM1527.7 427.8h1.1v1.1h-1.1zM1586.0 427.3h1.1v1.1h-1.1zM1561.0 407.6h1.1v1.1h-1.1zM1520.3 429.9h1.1v1.1h-1.1zM1537.0 432.2h1.1v1.1h-1.1zM1583.2 413.2h1.1v1.1h-1.1zM1581.1 408.9h1.1v1.1h-1.1zM1537.8 408.1h1.1v1.1h-1.1zM1513.3 416.6h1.1v1.1h-1.1zM1524.6 428.3h1.1v1.1h-1.1zM1582.3 412.1h1.1v1.1h-1.1zM1560.0 408.5h1.1v1.1h-1.1zM1570.3 430.6h1.1v1.1h-1.1zM1518.5 414.7h1.1v1.1h-1.1zM1555.9 431.1h1.1v1.1h-1.1zM1528.5 432.2h1.1v1.1h-1.1zM1588.3 422.2h1.1v1.1h-1.1zM1523.9 413.5h1.1v1.1h-1.1zM1536.5 433.2h1.1v1.1h-1.1zM1591.6 418.7h1.1v1.1h-1.1zM1579.7 433.8h1.1v1.1h-1.1zM1519.0 423.1h1.1v1.1h-1.1zM1506.4 421.9h1.1v1.1h-1.1zM1579.5 411.0h1.1v1.1h-1.1zM1590.5 426.1h1.1v1.1h-1.1zM1587.0 418.0h1.1v1.1h-1.1zM1561.9 432.5h1.1v1.1h-1.1zM1537.0 408.6h1.1v1.1h-1.1zM1528.3 428.6h1.1v1.1h-1.1zM1539.1 430.5h1.1v1.1h-1.1zM1549.3 434.7h1.1v1.1h-1.1zM1590.8 421.0h1.1v1.1h-1.1zM1565.8 407.0h1.1v1.1h-1.1zM1521.5 413.6h1.1v1.1h-1.1zM1530.9 409.4h1.1v1.1h-1.1zM1546.7 408.2h1.1v1.1h-1.1zM1591.6 416.1h1.1v1.1h-1.1zM1520.3 415.0h1.1v1.1h-1.1zM1542.6 433.1h1.1v1.1h-1.1zM1520.8 408.4h1.1v1.1h-1.1zM1539.9 431.6h1.1v1.1h-1.1zM1582.3 427.8h1.1v1.1h-1.1zM1581.3 427.9h1.1v1.1h-1.1zM1557.8 408.4h1.1v1.1h-1.1zM1524.2 427.0h1.1v1.1h-1.1zM1575.4 410.1h1.1v1.1h-1.1zM1528.7 430.4h1.1v1.1h-1.1zM1534.2 408.4h1.1v1.1h-1.1zM1586.6 418.5h1.1v1.1h-1.1zM1529.3 409.1h1.1v1.1h-1.1zM1551.3 407.6h1.1v1.1h-1.1zM1584.3 425.7h1.1v1.1h-1.1zM1560.8 407.6h1.1v1.1h-1.1zM1547.7 430.8h1.1v1.1h-1.1zM1518.0 417.2h1.1v1.1h-1.1zM1551.4 407.7h1.1v1.1h-1.1zM1568.3 408.7h1.1v1.1h-1.1zM1518.2 420.4h1.1v1.1h-1.1zM1564.1 406.2h1.1v1.1h-1.1zM1558.7 431.9h1.1v1.1h-1.1zM1533.5 408.8h1.1v1.1h-1.1zM1576.2 410.3h1.1v1.1h-1.1zM1587.7 414.2h1.1v1.1h-1.1zM1586.8 417.8h1.1v1.1h-1.1zM1546.3 407.4h1.1v1.1h-1.1zM1521.1 424.6h1.1v1.1h-1.1zM1588.2 424.3h1.1v1.1h-1.1zM1583.6 428.0h1.1v1.1h-1.1zM1562.1 431.3h1.1v1.1h-1.1zM1532.9 429.4h1.1v1.1h-1.1zM1590.5 413.2h1.1v1.1h-1.1zM1527.8 410.3h1.1v1.1h-1.1zM1571.5 408.7h1.1v1.1h-1.1zM1585.2 426.4h1.1v1.1h-1.1zM1571.9 429.8h1.1v1.1h-1.1zM1585.5 412.8h1.1v1.1h-1.1zM1521.6 425.1h1.1v1.1h-1.1zM1557.3 407.7h1.1v1.1h-1.1zM1574.0 431.5h1.1v1.1h-1.1zM1586.8 415.0h1.1v1.1h-1.1zM1572.7 408.8h1.1v1.1h-1.1zM1537.8 430.8h1.1v1.1h-1.1zM1577.6 430.4h1.1v1.1h-1.1zM1584.2 425.3h1.1v1.1h-1.1zM1541.7 408.5h1.1v1.1h-1.1zM1536.5 408.1h1.1v1.1h-1.1zM1577.1 407.6h1.1v1.1h-1.1zM1577.5 408.9h1.1v1.1h-1.1zM1598.0 411.0h1.1v1.1h-1.1zM1585.8 423.8h1.1v1.1h-1.1zM1523.6 426.6h1.1v1.1h-1.1zM1573.1 431.3h1.1v1.1h-1.1zM1587.1 422.5h1.1v1.1h-1.1zM1556.8 408.2h1.1v1.1h-1.1zM1548.9 431.2h1.1v1.1h-1.1zM1518.9 423.3h1.1v1.1h-1.1zM1544.6 432.9h1.1v1.1h-1.1zM1564.6 408.7h1.1v1.1h-1.1zM1539.1 408.2h1.1v1.1h-1.1zM1542.6 408.2h1.1v1.1h-1.1zM1577.9 428.5h1.1v1.1h-1.1zM1538.6 431.1h1.1v1.1h-1.1zM1581.8 411.5h1.1v1.1h-1.1zM1551.2 408.3h1.1v1.1h-1.1zM1527.8 428.6h1.1v1.1h-1.1zM1588.0 417.9h1.1v1.1h-1.1zM1561.9 407.4h1.1v1.1h-1.1zM1587.4 419.2h1.1v1.1h-1.1zM1529.4 410.5h1.1v1.1h-1.1zM1518.0 422.3h1.1v1.1h-1.1zM1543.4 430.7h1.1v1.1h-1.1zM1558.8 408.0h1.1v1.1h-1.1zM1574.9 409.3h1.1v1.1h-1.1zM1557.9 431.9h1.1v1.1h-1.1zM1587.3 413.8h1.1v1.1h-1.1zM1567.1 431.2h1.1v1.1h-1.1zM1588.0 415.4h1.1v1.1h-1.1zM1587.1 410.7h1.1v1.1h-1.1zM1547.4 431.7h1.1v1.1h-1.1zM1564.6 408.0h1.1v1.1h-1.1zM1524.2 426.3h1.1v1.1h-1.1zM1556.9 432.1h1.1v1.1h-1.1zM1583.9 413.1h1.1v1.1h-1.1zM1579.4 410.8h1.1v1.1h-1.1zM1518.1 423.4h1.1v1.1h-1.1zM1561.6 430.8h1.1v1.1h-1.1zM1546.5 430.8h1.1v1.1h-1.1zM1517.8 418.3h1.1v1.1h-1.1zM1562.5 408.1h1.1v1.1h-1.1zM1509.6 424.6h1.1v1.1h-1.1zM1581.0 430.3h1.1v1.1h-1.1zM1519.6 415.5h1.1v1.1h-1.1zM1583.5 411.1h1.1v1.1h-1.1zM1585.1 430.0h1.1v1.1h-1.1zM1513.4 415.7h1.1v1.1h-1.1zM1574.3 429.9h1.1v1.1h-1.1zM1537.3 408.2h1.1v1.1h-1.1zM1567.9 408.8h1.1v1.1h-1.1zM1576.1 407.8h1.1v1.1h-1.1zM1530.9 409.4h1.1v1.1h-1.1zM1519.1 426.2h1.1v1.1h-1.1zM1581.4 410.8h1.1v1.1h-1.1zM1518.9 428.6h1.1v1.1h-1.1zM1573.0 430.7h1.1v1.1h-1.1zM1580.9 411.7h1.1v1.1h-1.1zM1549.6 406.5h1.1v1.1h-1.1zM1589.0 423.6h1.1v1.1h-1.1zM1517.5 421.5h1.1v1.1h-1.1zM1588.7 423.0h1.1v1.1h-1.1zM1531.6 428.9h1.1v1.1h-1.1zM1568.3 431.0h1.1v1.1h-1.1zM1513.8 428.1h1.1v1.1h-1.1zM1520.9 405.0h1.1v1.1h-1.1zM1551.7 430.9h1.1v1.1h-1.1zM1595.2 406.3h1.1v1.1h-1.1zM1585.9 412.9h1.1v1.1h-1.1zM1522.4 412.9h1.1v1.1h-1.1zM1528.8 428.1h1.1v1.1h-1.1zM1562.5 432.3h1.1v1.1h-1.1zM1518.3 418.9h1.1v1.1h-1.1zM1524.1 426.1h1.1v1.1h-1.1zM1526.2 411.4h1.1v1.1h-1.1zM1523.8 412.5h1.1v1.1h-1.1zM1524.9 412.9h1.1v1.1h-1.1zM1523.1 427.9h1.1v1.1h-1.1zM1586.0 414.8h1.1v1.1h-1.1zM1588.0 421.2h1.1v1.1h-1.1zM1579.6 409.4h1.1v1.1h-1.1zM1572.1 407.7h1.1v1.1h-1.1zM1582.5 412.4h1.1v1.1h-1.1zM1511.0 424.4h1.1v1.1h-1.1zM1563.3 431.1h1.1v1.1h-1.1zM1546.0 434.8h1.1v1.1h-1.1z" fill="#222"/>
<path d="M1817.9 419.5 L1818.0 420.9 L1817.4 421.9 L1817.2 422.7 L1816.4 423.5 L1815.9 424.2 L1814.9 424.9 L1814.7 425.6 L1813.9 426.2 L1812.9 426.8 L1811.7 427.3 L1810.6 427.9 L1808.8 428.3 L1807.4 428.7 L1805.7 429.1 L1803.8 429.5 L1801.7 429.7 L1799.6 430.0 L1797.3 430.2 L1794.8 430.4 L1792.1 430.6 L1789.1 430.7 L1785.5 430.8 L1779.9 430.8 L1776.3 430.6 L1773.5 430.3 L1770.7 430.1 L1768.3 429.8 L1766.2 429.3 L1764.1 429.0 L1762.0 428.6 L1760.0 428.2 L1758.2 427.7 L1756.6 427.2 L1755.0 426.6 L1753.5 426.1 L1752.3 425.5 L1751.5 424.9 L1750.7 424.3 L1750.0 423.7 L1749.3 423.1 L1749.2 422.4 L1749.0 421.8 L1748.1 421.2 L1747.5 420.5 L1747.8 419.5 L1747.5 418.5 L1747.3 417.7 L1747.1 417.0 L1747.9 416.4 L1748.1 415.8 L1748.9 415.2 L1749.5 414.6 L1751.1 414.1 L1752.2 413.5 L1753.5 412.9 L1755.5 412.5 L1756.7 411.9 L1758.2 411.3 L1760.2 410.9 L1761.9 410.4 L1763.9 409.9 L1766.4 409.8 L1768.7 409.5 L1771.1 409.2 L1773.7 409.0 L1776.5 408.7 L1780.0 408.5 L1785.4 408.5 L1789.0 408.4 L1792.0 408.6 L1794.6 408.8 L1797.0 409.0 L1799.4 409.1 L1801.5 409.4 L1803.6 409.6 L1805.3 410.0 L1807.2 410.3 L1808.5 410.8 L1810.0 411.3 L1811.3 411.7 L1812.7 412.2 L1814.0 412.8 L1815.3 413.3 L1815.8 414.0 L1816.9 414.6 L1817.6 415.4 L1817.8 416.2 L1817.7 417.1 L1818.2 418.1Z" fill="#111"/>
<path d="M1746.0 418.7h1.1v1.1h-1.1zM1794.2 432.0h1.1v1.1h-1.1zM1753.5 425.5h1.1v1.1h-1.1zM1790.0 432.5h1.1v1.1h-1.1zM1747.1 421.9h1.1v1.1h-1.1zM1815.9 423.9h1.1v1.1h-1.1zM1806.8 429.3h1.1v1.1h-1.1zM1793.5 407.9h1.1v1.1h-1.1zM1752.2 412.4h1.1v1.1h-1.1zM1823.0 422.0h1.1v1.1h-1.1zM1817.5 419.1h1.1v1.1h-1.1zM1816.0 414.9h1.1v1.1h-1.1zM1791.6 430.1h1.1v1.1h-1.1zM1793.2 430.4h1.1v1.1h-1.1zM1749.6 423.4h1.1v1.1h-1.1zM1746.0 416.0h1.1v1.1h-1.1zM1817.8 422.8h1.1v1.1h-1.1zM1816.5 416.0h1.1v1.1h-1.1zM1775.5 406.5h1.1v1.1h-1.1zM1768.9 408.2h1.1v1.1h-1.1zM1754.6 427.4h1.1v1.1h-1.1zM1813.8 412.7h1.1v1.1h-1.1zM1813.5 425.9h1.1v1.1h-1.1zM1810.2 411.5h1.1v1.1h-1.1zM1810.9 427.8h1.1v1.1h-1.1zM1807.1 409.3h1.1v1.1h-1.1zM1806.1 428.9h1.1v1.1h-1.1zM1776.7 430.1h1.1v1.1h-1.1zM1820.1 415.9h1.1v1.1h-1.1zM1809.5 428.6h1.1v1.1h-1.1zM1819.5 417.7h1.1v1.1h-1.1zM1780.8 430.4h1.1v1.1h-1.1zM1747.0 417.5h1.1v1.1h-1.1zM1811.1 411.0h1.1v1.1h-1.1zM1751.2 414.3h1.1v1.1h-1.1zM1748.4 418.0h1.1v1.1h-1.1zM1811.3 427.2h1.1v1.1h-1.1zM1767.2 430.3h1.1v1.1h-1.1zM1769.6 409.2h1.1v1.1h-1.1zM1812.6 427.6h1.1v1.1h-1.1zM1763.3 410.3h1.1v1.1h-1.1zM1772.2 408.0h1.1v1.1h-1.1zM1748.1 416.0h1.1v1.1h-1.1zM1815.7 426.1h1.1v1.1h-1.1zM1779.1 408.8h1.1v1.1h-1.1zM1747.1 417.2h1.1v1.1h-1.1zM1745.7 424.4h1.1v1.1h-1.1zM1759.0 409.9h1.1v1.1h-1.1zM1774.5 430.4h1.1v1.1h-1.1zM1758.2 410.0h1.1v1.1h-1.1zM1812.9 409.6h1.1v1.1h-1.1zM1818.6 417.3h1.1v1.1h-1.1zM1812.7 412.2h1.1v1.1h-1.1zM1770.7 409.1h1.1v1.1h-1.1zM1747.2 421.5h1.1v1.1h-1.1zM1816.4 424.5h1.1v1.1h-1.1zM1770.4 407.4h1.1v1.1h-1.1zM1752.4 427.9h1.1v1.1h-1.1zM1813.7 412.9h1.1v1.1h-1.1zM1803.7 409.7h1.1v1.1h-1.1zM1761.3 428.4h1.1v1.1h-1.1zM1794.4 430.6h1.1v1.1h-1.1zM1811.1 432.2h1.1v1.1h-1.1zM1817.0 416.9h1.1v1.1h-1.1zM1815.6 424.1h1.1v1.1h-1.1zM1815.4 414.0h1.1v1.1h-1.1zM1763.3 409.3h1.1v1.1h-1.1zM1797.2 429.9h1.1v1.1h-1.1zM1766.6 409.8h1.1v1.1h-1.1zM1810.0 410.2h1.1v1.1h-1.1zM1788.2 430.3h1.1v1.1h-1.1zM1759.0 410.5h1.1v1.1h-1.1zM1764.6 429.3h1.1v1.1h-1.1zM1746.1 422.2h1.1v1.1h-1.1zM1738.5 416.1h1.1v1.1h-1.1zM1755.3 410.7h1.1v1.1h-1.1zM1739.3 420.7h1.1v1.1h-1.1zM1743.0 420.4h1.1v1.1h-1.1zM1800.6 429.7h1.1v1.1h-1.1zM1809.0 411.2h1.1v1.1h-1.1zM1807.6 408.9h1.1v1.1h-1.1zM1751.1 414.7h1.1v1.1h-1.1zM1786.1 407.7h1.1v1.1h-1.1zM1768.3 431.8h1.1v1.1h-1.1zM1747.9 420.9h1.1v1.1h-1.1zM1817.5 425.4h1.1v1.1h-1.1zM1740.7 410.1h1.1v1.1h-1.1zM1812.1 426.6h1.1v1.1h-1.1zM1753.5 411.9h1.1v1.1h-1.1zM1744.8 423.8h1.1v1.1h-1.1zM1819.2 412.3h1.1v1.1h-1.1zM1792.0 409.0h1.1v1.1h-1.1zM1812.5 431.4h1.1v1.1h-1.1zM1817.0 415.4h1.1v1.1h-1.1zM1747.8 418.2h1.1v1.1h-1.1zM1751.9 425.1h1.1v1.1h-1.1zM1775.3 430.4h1.1v1.1h-1.1zM1817.6 428.2h1.1v1.1h-1.1zM1748.4 423.1h1.1v1.1h-1.1zM1756.5 411.2h1.1v1.1h-1.1zM1753.4 431.4h1.1v1.1h-1.1zM1752.4 426.7h1.1v1.1h-1.1zM1798.9 408.5h1.1v1.1h-1.1zM1749.5 423.0h1.1v1.1h-1.1zM1813.1 427.7h1.1v1.1h-1.1zM1814.4 426.8h1.1v1.1h-1.1zM1752.8 411.7h1.1v1.1h-1.1zM1818.7 419.3h1.1v1.1h-1.1zM1808.8 429.5h1.1v1.1h-1.1zM1747.9 423.4h1.1v1.1h-1.1zM1790.1 407.5h1.1v1.1h-1.1zM1742.9 414.8h1.1v1.1h-1.1zM1750.9 414.5h1.1v1.1h-1.1zM1828.2 411.4h1.1v1.1h-1.1zM1821.5 417.0h1.1v1.1h-1.1zM1814.5 427.6h1.1v1.1h-1.1zM1792.9 408.6h1.1v1.1h-1.1zM1753.8 413.3h1.1v1.1h-1.1zM1796.7 430.4h1.1v1.1h-1.1zM1815.2 425.2h1.1v1.1h-1.1zM1790.6 431.6h1.1v1.1h-1.1zM1762.5 430.3h1.1v1.1h-1.1zM1798.1 408.5h1.1v1.1h-1.1zM1816.0 423.9h1.1v1.1h-1.1zM1754.2 413.1h1.1v1.1h-1.1zM1783.8 431.1h1.1v1.1h-1.1zM1746.4 420.1h1.1v1.1h-1.1zM1747.1 415.4h1.1v1.1h-1.1zM1816.4 423.1h1.1v1.1h-1.1zM1766.2 429.9h1.1v1.1h-1.1zM1816.4 424.0h1.1v1.1h-1.1zM1798.5 430.2h1.1v1.1h-1.1zM1799.0 409.4h1.1v1.1h-1.1zM1811.2 409.6h1.1v1.1h-1.1zM1796.0 433.1h1.1v1.1h-1.1zM1767.8 431.6h1.1v1.1h-1.1zM1815.3 425.5h1.1v1.1h-1.1zM1736.6 418.7h1.1v1.1h-1.1zM1808.3 407.8h1.1v1.1h-1.1zM1815.8 423.9h1.1v1.1h-1.1zM1819.1 418.8h1.1v1.1h-1.1zM1751.1 425.4h1.1v1.1h-1.1zM1789.1 408.7h1.1v1.1h-1.1zM1804.2 407.2h1.1v1.1h-1.1zM1744.0 424.3h1.1v1.1h-1.1zM1753.4 425.5h1.1v1.1h-1.1zM1751.4 424.5h1.1v1.1h-1.1zM1815.0 426.3h1.1v1.1h-1.1zM1804.6 408.1h1.1v1.1h-1.1zM1744.6 419.4h1.1v1.1h-1.1zM1807.7 406.9h1.1v1.1h-1.1zM1761.5 409.1h1.1v1.1h-1.1zM1748.9 414.2h1.1v1.1h-1.1zM1746.0 422.1h1.1v1.1h-1.1zM1787.3 430.3h1.1v1.1h-1.1zM1749.6 428.9h1.1v1.1h-1.1zM1749.5 416.1h1.1v1.1h-1.1zM1799.5 409.5h1.1v1.1h-1.1zM1817.8 413.5h1.1v1.1h-1.1zM1749.9 415.9h1.1v1.1h-1.1zM1818.7 421.4h1.1v1.1h-1.1zM1768.6 430.2h1.1v1.1h-1.1zM1748.8 417.0h1.1v1.1h-1.1zM1826.3 417.1h1.1v1.1h-1.1zM1814.0 427.0h1.1v1.1h-1.1zM1748.1 417.1h1.1v1.1h-1.1zM1776.3 405.4h1.1v1.1h-1.1zM1820.1 418.8h1.1v1.1h-1.1zM1797.7 430.7h1.1v1.1h-1.1zM1754.8 427.9h1.1v1.1h-1.1zM1748.1 417.7h1.1v1.1h-1.1zM1771.7 408.8h1.1v1.1h-1.1zM1799.6 409.4h1.1v1.1h-1.1zM1821.2 406.4h1.1v1.1h-1.1zM1819.4 420.7h1.1v1.1h-1.1zM1811.0 428.0h1.1v1.1h-1.1zM1822.1 428.0h1.1v1.1h-1.1zM1801.5 430.4h1.1v1.1h-1.1zM1759.9 411.0h1.1v1.1h-1.1zM1795.0 431.4h1.1v1.1h-1.1zM1819.6 423.5h1.1v1.1h-1.1zM1763.0 428.9h1.1v1.1h-1.1zM1756.9 426.9h1.1v1.1h-1.1zM1748.6 414.9h1.1v1.1h-1.1zM1769.6 409.2h1.1v1.1h-1.1zM1767.3 429.3h1.1v1.1h-1.1zM1747.5 417.1h1.1v1.1h-1.1zM1744.7 423.8h1.1v1.1h-1.1zM1800.5 433.1h1.1v1.1h-1.1zM1772.6 408.8h1.1v1.1h-1.1zM1816.2 413.3h1.1v1.1h-1.1zM1818.7 412.6h1.1v1.1h-1.1zM1762.0 408.8h1.1v1.1h-1.1zM1751.6 413.7h1.1v1.1h-1.1zM1821.3 426.3h1.1v1.1h-1.1zM1786.6 430.7h1.1v1.1h-1.1zM1742.7 429.8h1.1v1.1h-1.1zM1774.3 408.8h1.1v1.1h-1.1zM1767.1 429.9h1.1v1.1h-1.1zM1813.8 428.7h1.1v1.1h-1.1zM1749.0 424.2h1.1v1.1h-1.1zM1746.7 418.2h1.1v1.1h-1.1zM1745.2 421.8h1.1v1.1h-1.1zM1768.7 409.1h1.1v1.1h-1.1zM1803.8 429.4h1.1v1.1h-1.1zM1816.3 426.7h1.1v1.1h-1.1zM1745.8 420.1h1.1v1.1h-1.1zM1814.4 427.9h1.1v1.1h-1.1zM1794.3 406.8h1.1v1.1h-1.1zM1810.9 406.6h1.1v1.1h-1.1zM1818.8 423.6h1.1v1.1h-1.1zM1789.0 408.3h1.1v1.1h-1.1zM1759.0 408.2h1.1v1.1h-1.1zM1763.1 409.9h1.1v1.1h-1.1zM1806.2 409.8h1.1v1.1h-1.1zM1819.1 420.9h1.1v1.1h-1.1zM1743.0 412.1h1.1v1.1h-1.1zM1752.6 413.0h1.1v1.1h-1.1zM1820.9 418.5h1.1v1.1h-1.1zM1790.9 431.1h1.1v1.1h-1.1zM1760.3 428.1h1.1v1.1h-1.1zM1770.4 408.2h1.1v1.1h-1.1zM1817.3 416.7h1.1v1.1h-1.1zM1817.3 412.0h1.1v1.1h-1.1zM1781.0 430.3h1.1v1.1h-1.1zM1756.1 412.0h1.1v1.1h-1.1zM1823.7 430.2h1.1v1.1h-1.1zM1807.4 430.9h1.1v1.1h-1.1zM1746.8 423.8h1.1v1.1h-1.1zM1749.2 415.7h1.1v1.1h-1.1zM1819.8 416.9h1.1v1.1h-1.1zM1774.6 408.7h1.1v1.1h-1.1zM1786.2 407.7h1.1v1.1h-1.1zM1804.9 408.4h1.1v1.1h-1.1zM1792.3 430.7h1.1v1.1h-1.1zM1813.2 412.9h1.1v1.1h-1.1zM1818.0 421.7h1.1v1.1h-1.1zM1814.8 414.1h1.1v1.1h-1.1zM1816.3 424.2h1.1v1.1h-1.1zM1813.7 411.4h1.1v1.1h-1.1zM1764.9 408.4h1.1v1.1h-1.1zM1740.6 424.8h1.1v1.1h-1.1zM1744.7 422.5h1.1v1.1h-1.1zM1767.4 429.3h1.1v1.1h-1.1zM1752.5 414.0h1.1v1.1h-1.1zM1774.2 430.3h1.1v1.1h-1.1zM1757.5 427.3h1.1v1.1h-1.1zM1755.6 411.8h1.1v1.1h-1.1zM1817.0 424.5h1.1v1.1h-1.1zM1754.1 413.0h1.1v1.1h-1.1zM1819.8 417.7h1.1v1.1h-1.1zM1742.9 419.0h1.1v1.1h-1.1zM1818.7 423.0h1.1v1.1h-1.1zM1814.1 413.0h1.1v1.1h-1.1zM1805.9 430.9h1.1v1.1h-1.1zM1774.9 407.6h1.1v1.1h-1.1zM1816.2 423.6h1.1v1.1h-1.1zM1752.7 424.9h1.1v1.1h-1.1zM1816.3 426.4h1.1v1.1h-1.1zM1750.1 423.3h1.1v1.1h-1.1zM1809.7 411.2h1.1v1.1h-1.1zM1812.1 411.1h1.1v1.1h-1.1zM1753.9 412.2h1.1v1.1h-1.1zM1760.1 408.8h1.1v1.1h-1.1zM1778.9 431.9h1.1v1.1h-1.1zM1797.4 431.0h1.1v1.1h-1.1zM1780.1 408.6h1.1v1.1h-1.1zM1754.6 427.8h1.1v1.1h-1.1zM1797.2 431.5h1.1v1.1h-1.1zM1812.2 411.3h1.1v1.1h-1.1zM1761.1 429.3h1.1v1.1h-1.1zM1764.4 428.9h1.1v1.1h-1.1zM1795.7 432.9h1.1v1.1h-1.1zM1802.4 409.5h1.1v1.1h-1.1zM1795.9 430.3h1.1v1.1h-1.1zM1808.1 428.4h1.1v1.1h-1.1zM1742.6 419.1h1.1v1.1h-1.1zM1816.9 424.4h1.1v1.1h-1.1zM1811.3 427.7h1.1v1.1h-1.1zM1801.9 430.9h1.1v1.1h-1.1z" fill="#222"/>
<path d="M1311.3 378.0h1.2v1.2h-1.2zM1329.1 354.5h1.2v1.2h-1.2zM1320.6 352.4h1.2v1.2h-1.2zM1306.7 392.5h1.2v1.2h-1.2zM1310.9 356.6h1.2v1.2h-1.2z" fill="#777"/>
<path d="M1567.7 369.6h1.2v1.2h-1.2zM1542.7 354.1h1.2v1.2h-1.2zM1559.1 382.6h1.2v1.2h-1.2zM1557.0 397.1h1.2v1.2h-1.2zM1568.9 382.1h1.2v1.2h-1.2zM1558.3 369.4h1.2v1.2h-1.2zM1564.1 395.2h1.2v1.2h-1.2zM1558.7 384.9h1.2v1.2h-1.2zM1554.4 343.9h1.2v1.2h-1.2zM1547.0 391.8h1.2v1.2h-1.2zM1558.6 394.0h1.2v1.2h-1.2zM1572.6 396.9h1.2v1.2h-1.2zM1551.3 370.9h1.2v1.2h-1.2zM1559.4 353.3h1.2v1.2h-1.2zM1563.2 397.5h1.2v1.2h-1.2zM1554.8 370.5h1.2v1.2h-1.2zM1555.4 359.4h1.2v1.2h-1.2zM1562.6 375.4h1.2v1.2h-1.2zM1576.3 388.4h1.2v1.2h-1.2zM1563.9 370.1h1.2v1.2h-1.2zM1542.4 373.0h1.2v1.2h-1.2zM1548.6 395.9h1.2v1.2h-1.2zM1566.1 393.4h1.2v1.2h-1.2zM1560.5 379.6h1.2v1.2h-1.2zM1565.2 395.3h1.2v1.2h-1.2zM1550.2 385.8h1.2v1.2h-1.2zM1586.8 373.0h1.2v1.2h-1.2zM1555.2 359.8h1.2v1.2h-1.2zM1542.1 401.2h1.2v1.2h-1.2zM1558.7 381.6h1.2v1.2h-1.2zM1548.2 398.2h1.2v1.2h-1.2zM1564.9 383.8h1.2v1.2h-1.2zM1563.3 374.5h1.2v1.2h-1.2zM1575.5 388.6h1.2v1.2h-1.2zM1567.9 385.2h1.2v1.2h-1.2zM1563.6 373.1h1.2v1.2h-1.2zM1548.6 367.5h1.2v1.2h-1.2zM1546.5 377.4h1.2v1.2h-1.2zM1560.9 329.9h1.2v1.2h-1.2zM1558.2 389.3h1.2v1.2h-1.2zM1559.9 354.1h1.2v1.2h-1.2zM1572.0 359.7h1.2v1.2h-1.2zM1544.5 351.3h1.2v1.2h-1.2zM1557.9 396.7h1.2v1.2h-1.2zM1570.8 379.7h1.2v1.2h-1.2zM1544.9 360.6h1.2v1.2h-1.2zM1548.1 371.1h1.2v1.2h-1.2zM1538.5 377.5h1.2v1.2h-1.2zM1565.1 371.8h1.2v1.2h-1.2zM1563.1 354.4h1.2v1.2h-1.2zM1542.0 361.0h1.2v1.2h-1.2zM1570.7 397.7h1.2v1.2h-1.2zM1553.0 401.5h1.2v1.2h-1.2zM1563.3 365.1h1.2v1.2h-1.2zM1566.8 358.0h1.2v1.2h-1.2zM1547.7 343.1h1.2v1.2h-1.2zM1560.8 373.8h1.2v1.2h-1.2zM1557.2 366.0h1.2v1.2h-1.2zM1573.8 365.7h1.2v1.2h-1.2zM1573.6 382.5h1.2v1.2h-1.2zM1538.9 361.8h1.2v1.2h-1.2zM1564.7 375.4h1.2v1.2h-1.2zM1575.1 344.9h1.2v1.2h-1.2zM1565.5 361.2h1.2v1.2h-1.2zM1572.6 373.3h1.2v1.2h-1.2zM1569.3 360.8h1.2v1.2h-1.2zM1542.5 350.6h1.2v1.2h-1.2zM1551.3 352.5h1.2v1.2h-1.2zM1561.0 352.2h1.2v1.2h-1.2zM1556.7 359.9h1.2v1.2h-1.2zM1574.0 382.0h1.2v1.2h-1.2zM1563.4 366.2h1.2v1.2h-1.2zM1535.9 358.0h1.2v1.2h-1.2zM1545.7 383.1h1.2v1.2h-1.2zM1559.1 357.4h1.2v1.2h-1.2zM1547.4 354.8h1.2v1.2h-1.2zM1555.5 359.6h1.2v1.2h-1.2zM1553.3 386.7h1.2v1.2h-1.2zM1577.1 335.9h1.2v1.2h-1.2zM1557.8 375.9h1.2v1.2h-1.2zM1557.1 370.9h1.2v1.2h-1.2zM1554.3 397.1h1.2v1.2h-1.2zM1552.9 372.2h1.2v1.2h-1.2zM1558.0 377.4h1.2v1.2h-1.2zM1556.1 397.0h1.2v1.2h-1.2zM1557.9 378.8h1.2v1.2h-1.2zM1557.4 352.9h1.2v1.2h-1.2zM1548.9 351.9h1.2v1.2h-1.2zM1560.1 359.3h1.2v1.2h-1.2zM1546.3 380.2h1.2v1.2h-1.2zM1563.8 336.3h1.2v1.2h-1.2zM1576.6 375.7h1.2v1.2h-1.2zM1556.8 398.5h1.2v1.2h-1.2zM1558.8 361.7h1.2v1.2h-1.2zM1582.1 351.4h1.2v1.2h-1.2zM1556.9 393.6h1.2v1.2h-1.2zM1546.2 372.8h1.2v1.2h-1.2zM1548.2 374.0h1.2v1.2h-1.2zM1565.2 376.8h1.2v1.2h-1.2zM1544.8 384.0h1.2v1.2h-1.2zM1559.2 384.8h1.2v1.2h-1.2zM1570.4 397.3h1.2v1.2h-1.2zM1562.5 381.8h1.2v1.2h-1.2zM1545.9 372.0h1.2v1.2h-1.2zM1560.4 366.2h1.2v1.2h-1.2zM1559.1 356.8h1.2v1.2h-1.2zM1553.7 383.8h1.2v1.2h-1.2zM1562.8 376.7h1.2v1.2h-1.2zM1555.5 377.8h1.2v1.2h-1.2zM1547.0 389.9h1.2v1.2h-1.2z" fill="#555"/>
<path d="M1777.0 382.7h1.2v1.2h-1.2zM1788.8 393.9h1.2v1.2h-1.2zM1786.8 392.5h1.2v1.2h-1.2zM1774.1 384.2h1.2v1.2h-1.2zM1783.9 375.9h1.2v1.2h-1.2zM1788.0 390.7h1.2v1.2h-1.2zM1758.7 378.5h1.2v1.2h-1.2zM1766.1 396.1h1.2v1.2h-1.2zM1759.4 351.9h1.2v1.2h-1.2zM1769.0 374.3h1.2v1.2h-1.2zM1779.5 336.0h1.2v1.2h-1.2zM1782.3 385.3h1.2v1.2h-1.2zM1784.4 390.8h1.2v1.2h-1.2zM1781.9 372.1h1.2v1.2h-1.2zM1781.6 378.9h1.2v1.2h-1.2zM1813.6 379.2h1.2v1.2h-1.2zM1789.7 359.6h1.2v1.2h-1.2zM1776.4 401.3h1.2v1.2h-1.2zM1771.4 353.7h1.2v1.2h-1.2zM1785.6 363.5h1.2v1.2h-1.2zM1814.4 324.7h1.2v1.2h-1.2zM1792.1 386.3h1.2v1.2h-1.2zM1771.3 359.1h1.2v1.2h-1.2zM1774.1 340.4h1.2v1.2h-1.2zM1782.3 327.7h1.2v1.2h-1.2zM1807.3 368.0h1.2v1.2h-1.2zM1802.7 371.1h1.2v1.2h-1.2zM1781.7 363.0h1.2v1.2h-1.2zM1807.6 400.7h1.2v1.2h-1.2zM1757.1 353.3h1.2v1.2h-1.2zM1811.9 364.7h1.2v1.2h-1.2zM1768.0 372.1h1.2v1.2h-1.2zM1785.5 370.1h1.2v1.2h-1.2zM1780.3 365.8h1.2v1.2h-1.2zM1780.6 378.7h1.2v1.2h-1.2zM1775.6 366.2h1.2v1.2h-1.2zM1785.0 398.1h1.2v1.2h-1.2zM1792.2 369.8h1.2v1.2h-1.2zM1794.5 380.1h1.2v1.2h-1.2zM1802.2 382.1h1.2v1.2h-1.2zM1812.1 398.9h1.2v1.2h-1.2zM1786.4 363.7h1.2v1.2h-1.2zM1799.4 382.3h1.2v1.2h-1.2zM1785.7 342.5h1.2v1.2h-1.2zM1761.3 379.0h1.2v1.2h-1.2zM1797.8 388.1h1.2v1.2h-1.2zM1769.0 392.7h1.2v1.2h-1.2zM1779.5 379.8h1.2v1.2h-1.2zM1792.8 356.0h1.2v1.2h-1.2zM1778.7 330.5h1.2v1.2h-1.2zM1774.2 335.9h1.2v1.2h-1.2zM1793.1 373.2h1.2v1.2h-1.2zM1799.8 379.1h1.2v1.2h-1.2zM1778.1 378.9h1.2v1.2h-1.2zM1781.5 384.2h1.2v1.2h-1.2zM1791.4 352.2h1.2v1.2h-1.2zM1787.0 373.1h1.2v1.2h-1.2zM1782.7 389.9h1.2v1.2h-1.2zM1811.0 364.6h1.2v1.2h-1.2zM1782.1 327.0h1.2v1.2h-1.2zM1785.2 363.3h1.2v1.2h-1.2zM1756.7 377.8h1.2v1.2h-1.2zM1795.3 357.3h1.2v1.2h-1.2zM1781.8 352.7h1.2v1.2h-1.2zM1797.7 341.7h1.2v1.2h-1.2zM1787.7 381.4h1.2v1.2h-1.2zM1784.9 348.5h1.2v1.2h-1.2zM1786.5 380.1h1.2v1.2h-1.2zM1772.7 378.8h1.2v1.2h-1.2zM1804.4 393.4h1.2v1.2h-1.2zM1764.8 352.5h1.2v1.2h-1.2zM1764.4 393.4h1.2v1.2h-1.2zM1795.5 386.1h1.2v1.2h-1.2zM1774.7 348.7h1.2v1.2h-1.2zM1788.1 374.0h1.2v1.2h-1.2zM1775.0 374.8h1.2v1.2h-1.2zM1796.0 376.6h1.2v1.2h-1.2zM1772.4 329.7h1.2v1.2h-1.2zM1783.4 375.3h1.2v1.2h-1.2zM1783.4 363.4h1.2v1.2h-1.2zM1777.3 386.3h1.2v1.2h-1.2zM1786.3 374.5h1.2v1.2h-1.2zM1773.4 359.6h1.2v1.2h-1.2zM1789.3 351.9h1.2v1.2h-1.2zM1769.4 365.4h1.2v1.2h-1.2zM1803.8 375.8h1.2v1.2h-1.2zM1807.4 369.4h1.2v1.2h-1.2zM1782.7 344.2h1.2v1.2h-1.2zM1778.9 400.7h1.2v1.2h-1.2zM1791.6 386.7h1.2v1.2h-1.2zM1796.9 371.8h1.2v1.2h-1.2zM1784.1 374.4h1.2v1.2h-1.2zM1796.4 381.2h1.2v1.2h-1.2zM1793.9 375.1h1.2v1.2h-1.2zM1776.2 366.8h1.2v1.2h-1.2zM1773.8 392.1h1.2v1.2h-1.2zM1757.6 367.6h1.2v1.2h-1.2zM1820.4 365.2h1.2v1.2h-1.2zM1771.1 371.6h1.2v1.2h-1.2zM1805.1 368.8h1.2v1.2h-1.2zM1795.6 374.0h1.2v1.2h-1.2zM1788.0 361.3h1.2v1.2h-1.2zM1780.1 379.6h1.2v1.2h-1.2zM1792.7 387.4h1.2v1.2h-1.2zM1789.0 343.4h1.2v1.2h-1.2zM1794.4 365.8h1.2v1.2h-1.2zM1783.0 342.3h1.2v1.2h-1.2zM1779.0 357.5h1.2v1.2h-1.2zM1786.5 342.9h1.2v1.2h-1.2zM1787.7 374.5h1.2v1.2h-1.2zM1771.3 359.5h1.2v1.2h-1.2zM1775.0 390.2h1.2v1.2h-1.2zM1751.6 365.1h1.2v1.2h-1.2zM1763.8 363.4h1.2v1.2h-1.2zM1798.9 359.4h1.2v1.2h-1.2zM1788.9 355.1h1.2v1.2h-1.2zM1814.2 390.3h1.2v1.2h-1.2zM1802.8 345.4h1.2v1.2h-1.2zM1771.6 393.6h1.2v1.2h-1.2zM1784.3 366.8h1.2v1.2h-1.2zM1791.7 346.9h1.2v1.2h-1.2zM1797.8 372.4h1.2v1.2h-1.2zM1793.7 358.6h1.2v1.2h-1.2zM1794.2 357.9h1.2v1.2h-1.2zM1800.4 394.6h1.2v1.2h-1.2zM1799.8 382.3h1.2v1.2h-1.2zM1795.9 317.9h1.2v1.2h-1.2zM1798.7 366.5h1.2v1.2h-1.2zM1788.3 366.3h1.2v1.2h-1.2zM1767.5 361.2h1.2v1.2h-1.2zM1796.2 400.3h1.2v1.2h-1.2zM1778.3 353.9h1.2v1.2h-1.2zM1807.3 354.3h1.2v1.2h-1.2zM1816.0 373.0h1.2v1.2h-1.2zM1774.6 391.7h1.2v1.2h-1.2zM1810.7 343.3h1.2v1.2h-1.2zM1808.8 366.4h1.2v1.2h-1.2zM1807.8 364.4h1.2v1.2h-1.2zM1764.9 382.0h1.2v1.2h-1.2zM1811.1 385.9h1.2v1.2h-1.2zM1783.7 361.6h1.2v1.2h-1.2zM1782.9 355.4h1.2v1.2h-1.2zM1783.2 321.1h1.2v1.2h-1.2zM1789.5 371.4h1.2v1.2h-1.2zM1822.9 387.2h1.2v1.2h-1.2zM1780.3 383.3h1.2v1.2h-1.2zM1769.8 359.9h1.2v1.2h-1.2zM1760.9 400.7h1.2v1.2h-1.2zM1795.3 348.5h1.2v1.2h-1.2zM1786.2 391.0h1.2v1.2h-1.2zM1793.9 379.6h1.2v1.2h-1.2zM1775.0 359.3h1.2v1.2h-1.2zM1788.3 390.4h1.2v1.2h-1.2zM1775.4 349.6h1.2v1.2h-1.2zM1803.0 353.4h1.2v1.2h-1.2zM1802.1 376.9h1.2v1.2h-1.2zM1796.6 387.5h1.2v1.2h-1.2zM1774.2 358.1h1.2v1.2h-1.2zM1791.4 376.1h1.2v1.2h-1.2zM1801.1 372.4h1.2v1.2h-1.2zM1786.1 351.1h1.2v1.2h-1.2zM1800.9 350.6h1.2v1.2h-1.2zM1794.2 343.6h1.2v1.2h-1.2zM1802.3 351.4h1.2v1.2h-1.2zM1798.8 340.2h1.2v1.2h-1.2zM1780.8 395.6h1.2v1.2h-1.2zM1775.7 373.3h1.2v1.2h-1.2zM1780.3 325.8h1.2v1.2h-1.2zM1791.3 380.6h1.2v1.2h-1.2zM1771.5 383.5h1.2v1.2h-1.2zM1775.9 351.9h1.2v1.2h-1.2zM1787.1 358.4h1.2v1.2h-1.2zM1819.1 340.9h1.2v1.2h-1.2zM1797.3 391.8h1.2v1.2h-1.2zM1759.3 337.4h1.2v1.2h-1.2zM1794.9 362.4h1.2v1.2h-1.2zM1792.4 394.8h1.2v1.2h-1.2zM1781.8 350.7h1.2v1.2h-1.2zM1774.0 378.3h1.2v1.2h-1.2zM1790.2 344.3h1.2v1.2h-1.2zM1811.1 393.7h1.2v1.2h-1.2zM1798.9 348.3h1.2v1.2h-1.2zM1781.3 361.1h1.2v1.2h-1.2zM1781.2 349.5h1.2v1.2h-1.2zM1793.1 376.6h1.2v1.2h-1.2zM1792.1 361.9h1.2v1.2h-1.2zM1805.1 375.8h1.2v1.2h-1.2zM1786.2 391.3h1.2v1.2h-1.2zM1782.8 367.0h1.2v1.2h-1.2zM1777.7 385.3h1.2v1.2h-1.2zM1780.7 359.9h1.2v1.2h-1.2zM1776.6 383.1h1.2v1.2h-1.2zM1779.5 338.5h1.2v1.2h-1.2zM1795.7 358.0h1.2v1.2h-1.2zM1792.0 379.5h1.2v1.2h-1.2zM1803.9 392.9h1.2v1.2h-1.2zM1778.9 368.7h1.2v1.2h-1.2zM1793.2 399.9h1.2v1.2h-1.2zM1782.5 331.0h1.2v1.2h-1.2zM1808.4 373.9h1.2v1.2h-1.2zM1788.9 373.1h1.2v1.2h-1.2zM1796.0 382.7h1.2v1.2h-1.2zM1764.7 393.7h1.2v1.2h-1.2zM1779.6 362.7h1.2v1.2h-1.2zM1811.2 390.4h1.2v1.2h-1.2zM1782.3 334.9h1.2v1.2h-1.2zM1789.3 382.8h1.2v1.2h-1.2zM1785.9 347.1h1.2v1.2h-1.2zM1775.9 346.9h1.2v1.2h-1.2zM1790.0 388.4h1.2v1.2h-1.2zM1801.4 357.4h1.2v1.2h-1.2zM1790.3 383.1h1.2v1.2h-1.2zM1779.8 369.0h1.2v1.2h-1.2zM1816.7 376.1h1.2v1.2h-1.2zM1799.4 363.3h1.2v1.2h-1.2zM1787.6 337.7h1.2v1.2h-1.2zM1786.6 395.8h1.2v1.2h-1.2zM1816.4 395.9h1.2v1.2h-1.2zM1796.6 373.1h1.2v1.2h-1.2zM1778.6 368.8h1.2v1.2h-1.2zM1795.6 356.3h1.2v1.2h-1.2zM1800.1 352.3h1.2v1.2h-1.2zM1762.1 351.8h1.2v1.2h-1.2zM1763.7 344.6h1.2v1.2h-1.2zM1802.8 368.0h1.2v1.2h-1.2zM1790.1 395.2h1.2v1.2h-1.2zM1804.6 361.9h1.2v1.2h-1.2zM1805.6 379.7h1.2v1.2h-1.2zM1787.0 380.8h1.2v1.2h-1.2zM1767.0 356.3h1.2v1.2h-1.2z" fill="#555"/>
<text x="1188.5" y="290.8" font-size="14" text-anchor="end">10<tspan font-size="14" dy="-11.9">5</tspan></text>
<text x="1188.5" y="341" font-size="14" text-anchor="end">10<tspan font-size="14" dy="-11.9">4</tspan></text>
<text x="1188.5" y="397.4" font-size="14" text-anchor="end">10<tspan font-size="14" dy="-11.9">3</tspan></text>
<text x="1178" y="428.8" font-size="14" text-anchor="end">0</text>
<text x="1188.5" y="465.8" font-size="14" text-anchor="end">-10<tspan font-size="14" dy="-11.9">3</tspan></text>
<text x="1235.8" y="495.8" font-size="14" text-anchor="middle">0</text>
<text x="1283.2" y="495.8" font-size="14">10<tspan font-size="14" dy="-7">3</tspan></text>
<text x="1336.3" y="495.8" font-size="14">10<tspan font-size="14" dy="-7">4</tspan></text>
<text x="1383.7" y="495.8" font-size="14">10<tspan font-size="14" dy="-7">5</tspan></text>
<text x="1198.5" y="530.3" font-size="25">Thy1.2 BV421</text>
<text transform="translate(1121 369) rotate(-90)" font-size="25" text-anchor="middle">SIINFEKL</text>
<text transform="translate(1146.8 369) rotate(-90)" font-size="25" text-anchor="middle">Dextramer PE</text>
<line x1="1376.2" y1="524.3" x2="2095" y2="527" stroke="#000" stroke-width="2"/>
<path d="M2119 527.3 L2087 517.6 L2095 527.1 L2087 536.7 Z" fill="#000"/>
<text x="480.6" y="675" font-size="29" font-weight="bold">f</text>
<text x="652" y="775.9" font-size="25" text-anchor="middle">Control</text>
<text x="890.9" y="775.8" font-size="25" text-anchor="middle">Total</text>
<text x="1141.2" y="775.8" font-size="25" text-anchor="middle">Dendritic Cell (DC)</text>
<text x="1005.9" y="735.9" font-size="25" text-anchor="middle">PD-L1 KO</text>
<line x1="781.3" y1="746.1" x2="1238.5" y2="746.1" stroke="#000" stroke-width="2.2"/>
<path d="M682.5 967.9 681.5 968.0 680.5 968.1 679.5 968.1 678.5 968.1 677.5 968.0 676.5 967.9 676.0 967.9 675.0 967.7 674.0 967.5 673.4 967.4 672.5 967.2 671.5 966.9 671.0 966.7 670.0 966.4 669.5 966.2 668.7 965.9 668.0 965.6 667.5 965.4 666.5 964.9 666.0 964.6 665.5 964.4 664.6 963.9 664.0 963.6 663.5 963.3 662.8 962.9 662.0 962.5 661.5 962.2 661.0 961.9 660.1 961.4 659.5 961.0 659.0 960.7 658.5 960.4 657.8 959.9 657.1 959.4 656.5 958.9 656.0 958.4 655.5 957.9 655.1 957.4 654.7 956.9 654.4 956.4 654.0 955.8 653.6 954.9 653.3 954.4 653.0 953.5 652.8 952.9 652.6 951.9 652.5 951.4 652.3 950.4 652.2 949.4 652.2 948.4 652.2 947.4 652.3 946.4 652.4 945.4 652.5 944.6 652.6 943.9 652.8 942.9 653.0 942.0 653.2 941.4 653.4 940.4 653.6 939.9 653.9 938.9 654.1 938.4 654.4 937.4 654.6 936.9 655.0 936.0 655.3 935.4 655.5 934.9 656.0 933.9 656.2 933.4 656.5 932.9 657.0 932.0 657.4 931.4 657.7 930.9 658.0 930.4 658.5 929.7 659.0 929.0 659.5 928.4 659.9 927.9 660.3 927.4 660.7 926.9 661.1 926.4 661.5 925.9 662.0 925.4 662.5 924.8 663.0 924.2 663.5 923.7 664.0 923.1 664.5 922.5 665.0 921.9 665.4 921.4 665.8 920.9 666.2 920.4 666.6 919.9 667.0 919.2 667.4 918.4 667.7 917.9 668.0 917.1 668.2 916.4 668.5 915.4 668.6 914.9 668.7 913.9 668.8 912.9 668.9 911.9 668.9 910.9 669.0 909.9 669.0 909.4 669.1 908.4 669.3 907.4 669.5 906.4 669.6 905.9 669.9 904.9 670.1 904.4 670.4 903.4 670.6 902.9 671.0 901.9 671.2 901.4 671.5 900.7 671.8 899.9 672.0 899.4 672.3 898.4 672.5 897.4 672.5 896.9 672.5 896.3 672.3 895.4 672.0 894.4 671.8 893.9 671.5 893.4 671.0 892.5 670.6 891.9 670.3 891.4 670.0 890.9 669.5 890.2 669.0 889.4 668.7 888.9 668.3 888.4 668.0 887.8 667.5 887.0 667.2 886.4 666.9 885.9 666.5 885.1 666.2 884.4 666.0 883.9 665.6 882.9 665.4 882.4 665.1 881.4 665.0 880.9 664.7 879.9 664.6 878.9 664.5 878.4 664.4 877.4 664.3 876.4 664.4 875.4 664.4 874.4 664.5 873.7 664.6 872.9 664.8 871.9 665.0 871.2 665.2 870.4 665.5 869.7 665.8 868.9 666.1 868.4 666.5 867.6 666.9 866.9 667.3 866.4 667.6 865.9 668.0 865.4 668.5 864.8 669.0 864.2 669.5 863.7 670.0 863.3 670.5 862.8 671.0 862.4 671.7 861.9 672.4 861.4 673.0 861.0 673.5 860.7 674.2 860.4 675.0 860.0 675.5 859.8 676.5 859.5 677.0 859.3 678.0 859.0 678.7 858.9 679.5 858.8 680.5 858.6 681.5 858.6 682.5 858.6 683.5 858.6 684.5 858.8 685.3 858.9 686.0 859.0 687.0 859.3 687.5 859.5 688.5 859.8 689.0 860.0 689.8 860.4 690.5 860.7 691.0 861.0 691.6 861.4 692.3 861.9 693.0 862.4 693.5 862.8 694.0 863.3 694.5 863.7 695.0 864.3 695.5 864.8 696.0 865.4 696.3 865.9 696.7 866.4 697.0 866.9 697.5 867.7 697.9 868.4 698.1 868.9 698.5 869.9 698.7 870.4 699.0 871.4 699.1 871.9 699.4 872.9 699.5 873.8 699.6 874.4 699.7 875.4 699.7 876.4 699.7 877.4 699.6 878.4 699.5 879.1 699.4 879.9 699.2 880.9 699.0 881.8 698.9 882.4 698.6 883.4 698.4 883.9 698.1 884.9 697.9 885.4 697.5 886.4 697.3 886.9 697.0 887.7 696.7 888.4 696.5 888.9 696.1 889.9 695.9 890.4 695.5 891.3 695.2 891.9 695.0 892.6 694.7 893.4 694.6 894.4 694.6 895.4 694.9 896.4 695.2 896.9 695.5 897.4 696.0 898.1 696.5 898.9 696.8 899.4 697.1 899.9 697.4 900.9 697.5 901.4 697.7 902.4 697.7 903.4 697.6 904.4 697.5 905.3 697.4 905.9 697.1 906.9 697.0 907.4 696.7 908.4 696.5 909.0 696.2 909.9 696.0 910.5 695.7 911.4 695.5 912.1 695.3 912.9 695.0 913.9 694.9 914.4 694.7 915.4 694.6 916.4 694.6 917.4 694.7 918.4 694.9 919.4 695.0 919.9 695.4 920.9 695.6 921.4 696.0 922.3 696.3 922.9 696.6 923.4 697.0 924.0 697.5 924.8 697.9 925.4 698.2 925.9 698.6 926.4 699.0 927.0 699.5 927.8 699.9 928.4 700.2 928.9 700.6 929.4 701.0 930.1 701.5 930.9 701.7 931.4 702.0 931.9 702.5 932.9 702.8 933.4 703.0 933.9 703.4 934.9 703.6 935.4 704.0 936.4 704.1 936.9 704.4 937.9 704.5 938.4 704.8 939.4 704.9 940.4 705.0 940.9 705.1 941.9 705.2 942.9 705.2 943.9 705.2 944.9 705.1 945.9 705.0 946.9 704.9 947.4 704.8 948.4 704.5 949.4 704.4 949.9 704.1 950.9 704.0 951.4 703.6 952.4 703.4 952.9 703.0 953.7 702.7 954.4 702.4 954.9 702.0 955.6 701.5 956.4 701.2 956.9 700.9 957.4 700.5 957.9 700.0 958.5 699.5 959.1 699.0 959.7 698.5 960.2 698.0 960.7 697.5 961.2 697.0 961.6 696.5 962.1 696.0 962.5 695.4 962.9 694.7 963.4 694.0 963.9 693.5 964.2 693.0 964.5 692.3 964.9 691.5 965.3 691.0 965.5 690.2 965.9 689.5 966.2 689.0 966.4 688.0 966.7 687.5 966.9 686.5 967.2 685.6 967.4 685.0 967.5 684.0 967.7 683.0 967.9 682.5 967.9ZM614.0 895.4 613.0 895.6 612.0 895.7 611.0 895.8 610.0 895.9 609.0 895.8 608.0 895.8 607.0 895.7 606.0 895.5 605.5 895.4 604.5 895.1 603.7 894.9 603.0 894.7 602.3 894.4 601.5 894.0 601.0 893.8 600.3 893.4 599.5 892.9 599.0 892.6 598.5 892.2 598.0 891.9 597.5 891.4 596.9 890.9 596.4 890.4 596.0 889.9 595.5 889.3 595.0 888.6 594.5 887.9 594.3 887.4 594.0 886.9 593.6 885.9 593.4 885.4 593.1 884.4 593.0 883.9 592.8 882.9 592.8 881.9 592.8 880.9 592.9 879.9 593.0 879.1 593.2 878.4 593.5 877.4 593.7 876.9 594.0 876.1 594.4 875.4 594.7 874.9 595.0 874.4 595.5 873.7 596.0 873.1 596.5 872.5 597.0 872.0 597.5 871.6 598.0 871.1 598.5 870.8 599.0 870.4 599.8 869.9 600.5 869.5 601.0 869.2 601.6 868.9 602.5 868.5 603.0 868.3 604.0 868.0 604.5 867.9 605.5 867.6 606.5 867.4 607.0 867.3 608.0 867.2 609.0 867.2 610.0 867.1 611.0 867.2 612.0 867.3 613.0 867.4 613.5 867.5 614.5 867.7 615.4 867.9 616.0 868.1 617.0 868.4 617.5 868.6 618.2 868.9 619.0 869.2 619.5 869.5 620.3 869.9 621.0 870.3 621.5 870.6 622.0 871.0 622.6 871.4 623.1 871.9 623.7 872.4 624.1 872.9 624.5 873.4 625.0 874.2 625.4 874.9 625.6 875.4 626.0 876.4 626.1 876.9 626.4 877.9 626.5 878.4 626.7 879.4 626.8 880.4 626.9 881.4 626.8 882.4 626.7 883.4 626.5 884.4 626.4 884.9 626.0 885.9 625.8 886.4 625.5 887.1 625.1 887.9 624.7 888.4 624.4 888.9 624.0 889.4 623.5 890.0 623.0 890.6 622.5 891.1 622.0 891.5 621.5 891.9 620.9 892.4 620.2 892.9 619.5 893.3 619.0 893.6 618.4 893.9 617.5 894.3 617.0 894.5 616.0 894.9 615.5 895.0 614.5 895.3 614.0 895.4Z" fill="#111" stroke="#111" stroke-width="1"/>
<path d="M681.0 974.4 680.0 974.4 679.0 974.4 678.0 974.4 677.5 974.4 676.5 974.3 675.5 974.2 674.5 974.1 673.5 973.9 673.0 973.8 672.0 973.6 671.1 973.4 670.5 973.3 669.5 973.0 669.0 972.8 668.0 972.5 667.5 972.3 666.5 971.9 666.0 971.7 665.2 971.4 664.5 971.1 664.0 970.8 663.1 970.4 662.5 970.1 662.0 969.9 661.1 969.4 660.5 969.1 660.0 968.8 659.2 968.4 658.5 968.0 658.0 967.7 657.5 967.4 656.7 966.9 656.0 966.4 655.5 966.1 655.0 965.7 654.5 965.4 653.9 964.9 653.4 964.4 652.8 963.9 652.3 963.4 651.9 962.9 651.5 962.4 651.0 961.8 650.5 961.1 650.0 960.4 649.7 959.9 649.4 959.4 649.0 958.6 648.7 957.9 648.5 957.4 648.1 956.4 647.9 955.9 647.6 954.9 647.4 954.4 647.2 953.4 647.0 952.5 646.9 951.9 646.7 950.9 646.6 949.9 646.5 948.9 646.5 948.4 646.4 947.4 646.4 946.4 646.4 945.4 646.5 944.4 646.5 943.9 646.6 942.9 646.7 941.9 646.9 940.9 647.0 940.1 647.1 939.4 647.4 938.4 647.5 937.8 647.7 936.9 648.0 936.0 648.2 935.4 648.5 934.6 648.7 933.9 649.0 933.2 649.3 932.4 649.6 931.9 650.0 931.0 650.3 930.4 650.5 929.9 651.0 929.1 651.4 928.4 651.7 927.9 652.0 927.3 652.5 926.5 652.9 925.9 653.2 925.4 653.5 924.9 654.0 924.2 654.5 923.4 654.8 922.9 655.1 922.4 655.5 921.8 656.0 921.0 656.3 920.4 656.6 919.9 657.0 919.1 657.3 918.4 657.5 917.9 657.9 916.9 658.1 916.4 658.3 915.4 658.5 914.6 658.6 913.9 658.8 912.9 658.9 911.9 659.0 910.9 659.0 910.4 659.1 909.4 659.2 908.4 659.4 907.4 659.5 906.5 659.6 905.9 659.8 904.9 660.0 904.0 660.1 903.4 660.4 902.4 660.6 901.9 660.9 900.9 661.0 900.4 661.4 899.4 661.5 898.9 661.8 897.9 662.0 897.4 662.3 896.4 662.5 895.4 662.5 894.9 662.6 893.9 662.6 892.9 662.5 892.0 662.4 891.4 662.2 890.4 662.0 889.7 661.8 888.9 661.5 888.0 661.3 887.4 661.0 886.4 660.8 885.9 660.6 884.9 660.4 884.4 660.1 883.4 660.0 882.8 659.8 881.9 659.6 880.9 659.5 880.3 659.4 879.4 659.2 878.4 659.2 877.4 659.1 876.4 659.0 875.4 659.0 874.9 658.9 873.9 658.7 872.9 658.5 872.3 658.0 871.4 657.5 871.0 657.0 870.8 656.0 870.8 655.4 870.9 654.5 871.1 653.5 871.4 653.0 871.5 652.0 871.8 651.3 871.9 650.5 872.1 649.5 872.3 648.7 872.4 648.0 872.5 647.0 872.7 646.0 872.9 645.5 872.9 644.5 873.1 643.5 873.3 642.9 873.4 642.0 873.6 641.0 873.7 640.1 873.9 639.5 874.0 638.5 874.2 637.5 874.3 637.0 874.4 636.0 874.7 635.2 874.9 634.5 875.2 634.0 875.5 633.5 875.9 633.0 876.5 632.6 877.4 632.5 878.1 632.4 878.9 632.4 879.9 632.4 880.9 632.4 881.9 632.3 882.9 632.2 883.9 632.0 884.8 631.9 885.4 631.6 886.4 631.4 886.9 631.0 887.9 630.8 888.4 630.5 889.0 630.0 889.9 629.7 890.4 629.4 890.9 629.0 891.4 628.5 892.1 628.0 892.7 627.5 893.2 627.0 893.8 626.5 894.2 626.0 894.7 625.5 895.1 625.0 895.5 624.5 895.9 623.8 896.4 623.0 896.9 622.5 897.2 622.0 897.5 621.1 897.9 620.5 898.2 620.0 898.4 619.0 898.8 618.5 899.0 617.5 899.3 617.0 899.5 616.0 899.8 615.3 899.9 614.5 900.1 613.5 900.2 612.5 900.3 611.8 900.4 611.0 900.5 610.0 900.5 609.0 900.5 608.0 900.4 607.5 900.4 606.5 900.3 605.5 900.1 604.5 899.9 604.0 899.8 603.0 899.6 602.3 899.4 601.5 899.1 600.8 898.9 600.0 898.6 599.5 898.4 598.5 897.9 598.0 897.7 597.5 897.4 596.6 896.9 596.0 896.5 595.5 896.2 595.0 895.8 594.5 895.4 593.8 894.9 593.3 894.4 592.7 893.9 592.2 893.4 591.8 892.9 591.3 892.4 590.9 891.9 590.5 891.3 590.0 890.6 589.6 889.9 589.3 889.4 589.0 888.8 588.6 887.9 588.4 887.4 588.0 886.4 587.9 885.9 587.6 884.9 587.5 884.2 587.4 883.4 587.3 882.4 587.3 881.4 587.3 880.4 587.4 879.4 587.5 878.8 587.7 877.9 587.9 876.9 588.1 876.4 588.5 875.4 588.7 874.9 589.0 874.2 589.4 873.4 589.7 872.9 590.0 872.4 590.5 871.7 591.0 871.0 591.5 870.4 592.0 869.9 592.4 869.4 592.9 868.9 593.5 868.4 594.0 868.0 594.5 867.6 595.0 867.2 595.5 866.8 596.1 866.4 597.0 865.9 597.5 865.6 598.0 865.3 598.9 864.9 599.5 864.6 600.0 864.4 601.0 864.0 601.5 863.9 602.5 863.5 603.0 863.4 604.0 863.2 605.0 863.0 605.5 862.9 606.5 862.7 607.5 862.6 608.5 862.5 609.5 862.5 610.5 862.5 611.5 862.6 612.5 862.6 613.5 862.8 614.3 862.9 615.0 863.0 616.0 863.2 616.7 863.4 617.5 863.6 618.4 863.9 619.0 864.1 619.9 864.4 620.5 864.6 621.2 864.9 622.0 865.2 622.5 865.4 623.5 865.8 624.0 866.0 625.0 866.3 625.5 866.5 626.5 866.7 627.4 866.9 628.0 867.0 629.0 867.1 630.0 867.2 631.0 867.1 632.0 867.1 633.0 867.1 634.0 867.0 635.0 866.9 635.5 866.9 636.5 866.8 637.5 866.7 638.5 866.6 639.5 866.6 640.5 866.5 641.1 866.4 642.0 866.3 643.0 866.2 644.0 866.0 645.0 865.9 645.5 865.9 646.5 865.8 647.5 865.7 648.5 865.7 649.5 865.7 650.5 865.8 651.5 865.9 652.0 866.0 653.0 866.2 653.8 866.4 654.5 866.6 655.3 866.9 656.0 867.2 656.6 867.4 657.5 867.6 658.5 867.5 659.0 867.3 659.7 866.9 660.3 866.4 660.8 865.9 661.3 865.4 661.8 864.9 662.2 864.4 662.6 863.9 663.0 863.4 663.5 862.8 664.0 862.2 664.5 861.6 665.0 861.0 665.5 860.5 666.0 860.0 666.5 859.5 667.0 859.1 667.5 858.6 668.0 858.2 668.5 857.9 669.2 857.4 669.9 856.9 670.5 856.6 671.0 856.3 671.7 855.9 672.5 855.5 673.0 855.3 674.0 854.9 674.5 854.7 675.5 854.4 676.0 854.3 677.0 854.0 677.6 853.9 678.5 853.7 679.5 853.6 680.5 853.5 681.5 853.5 682.5 853.5 683.5 853.5 684.5 853.6 685.5 853.7 686.4 853.9 687.0 854.0 688.0 854.3 688.5 854.4 689.5 854.7 690.0 854.9 691.0 855.3 691.5 855.5 692.3 855.9 693.0 856.3 693.5 856.6 694.1 856.9 694.8 857.4 695.5 857.9 696.0 858.2 696.5 858.6 697.0 859.1 697.5 859.5 698.0 860.0 698.5 860.5 699.0 861.0 699.5 861.6 700.0 862.2 700.5 862.9 700.9 863.4 701.2 863.9 701.5 864.4 702.0 865.2 702.4 865.9 702.6 866.4 703.0 867.3 703.3 867.9 703.5 868.6 703.8 869.4 704.0 870.2 704.2 870.9 704.4 871.9 704.5 872.4 704.7 873.4 704.8 874.4 704.8 875.4 704.9 876.4 704.9 877.4 704.8 878.4 704.8 879.4 704.7 880.4 704.6 881.4 704.5 882.0 704.4 882.9 704.3 883.9 704.2 884.9 704.1 885.9 704.1 886.9 704.1 887.9 704.2 888.9 704.4 889.9 704.5 890.7 704.6 891.4 704.9 892.4 705.0 892.9 705.3 893.9 705.5 894.9 705.6 895.4 705.8 896.4 706.0 897.2 706.1 897.9 706.3 898.9 706.4 899.9 706.5 900.9 706.5 901.4 706.6 902.4 706.6 903.4 706.5 904.4 706.5 905.3 706.5 905.9 706.4 906.9 706.2 907.9 706.1 908.9 706.0 909.4 705.8 910.4 705.6 911.4 705.5 912.0 705.3 912.9 705.1 913.9 705.0 914.6 704.9 915.4 704.8 916.4 704.7 917.4 704.7 918.4 704.7 919.4 704.9 920.4 705.0 921.0 705.2 921.9 705.5 922.8 705.7 923.4 706.0 924.1 706.3 924.9 706.6 925.4 707.0 926.3 707.3 926.9 707.5 927.4 708.0 928.4 708.2 928.9 708.5 929.5 708.9 930.4 709.1 930.9 709.5 931.9 709.7 932.4 710.0 933.2 710.3 933.9 710.5 934.6 710.7 935.4 711.0 936.4 711.1 936.9 711.4 937.9 711.5 938.7 711.6 939.4 711.8 940.4 711.9 941.4 711.9 942.4 712.0 943.4 712.0 944.4 711.9 945.4 711.9 946.4 711.8 947.4 711.6 948.4 711.5 949.2 711.4 949.9 711.1 950.9 711.0 951.4 710.7 952.4 710.5 953.1 710.2 953.9 710.0 954.5 709.6 955.4 709.4 955.9 709.0 956.7 708.7 957.4 708.4 957.9 708.0 958.6 707.5 959.4 707.2 959.9 706.9 960.4 706.5 960.9 706.0 961.6 705.5 962.2 705.0 962.9 704.5 963.4 704.1 963.9 703.6 964.4 703.1 964.9 702.6 965.4 702.1 965.9 701.5 966.4 701.0 966.8 700.5 967.2 700.0 967.6 699.5 968.0 698.9 968.4 698.2 968.9 697.5 969.3 697.0 969.7 696.5 969.9 695.7 970.4 695.0 970.8 694.5 971.0 693.7 971.4 693.0 971.7 692.5 971.9 691.5 972.3 691.0 972.5 690.0 972.8 689.5 973.0 688.5 973.3 687.9 973.4 687.0 973.6 686.0 973.8 685.5 973.9 684.5 974.1 683.5 974.2 682.5 974.3 681.5 974.4 681.0 974.4ZM684.0 972.4 683.0 972.6 682.0 972.7 681.0 972.7 680.0 972.8 679.0 972.8 678.0 972.7 677.0 972.7 676.0 972.6 675.0 972.4 674.5 972.4 673.5 972.2 672.5 972.0 672.0 971.9 671.0 971.6 670.2 971.4 669.5 971.2 668.6 970.9 668.0 970.7 667.3 970.4 666.5 970.1 666.0 969.9 665.0 969.4 664.5 969.2 663.9 968.9 663.0 968.5 662.5 968.2 661.9 967.9 661.0 967.4 660.5 967.2 660.0 966.9 659.1 966.4 658.5 966.0 658.0 965.8 657.4 965.4 656.6 964.9 656.0 964.5 655.5 964.1 655.0 963.7 654.5 963.3 654.0 962.9 653.5 962.4 653.0 961.9 652.5 961.3 652.0 960.7 651.5 960.0 651.1 959.4 650.8 958.9 650.5 958.3 650.0 957.4 649.8 956.9 649.5 956.1 649.2 955.4 649.0 954.7 648.8 953.9 648.5 952.9 648.4 952.4 648.3 951.4 648.1 950.4 648.0 949.4 648.0 948.6 648.0 947.9 648.0 946.9 648.0 945.9 648.0 945.4 648.1 944.4 648.2 943.4 648.3 942.4 648.5 941.4 648.6 940.9 648.8 939.9 649.0 938.9 649.1 938.4 649.4 937.4 649.5 936.9 649.9 935.9 650.1 935.4 650.4 934.4 650.6 933.9 651.0 933.0 651.3 932.4 651.5 931.9 652.0 931.0 652.3 930.4 652.6 929.9 653.0 929.2 653.4 928.4 653.8 927.9 654.1 927.4 654.5 926.8 655.0 926.0 655.4 925.4 655.8 924.9 656.1 924.4 656.5 923.8 657.0 923.1 657.5 922.4 657.8 921.9 658.1 921.4 658.5 920.8 659.0 920.0 659.3 919.4 659.5 918.9 660.0 917.9 660.2 917.4 660.5 916.4 660.6 915.9 660.9 914.9 661.0 914.2 661.1 913.4 661.2 912.4 661.3 911.4 661.4 910.4 661.5 909.4 661.6 908.9 661.7 907.9 661.8 906.9 662.0 905.9 662.1 905.4 662.3 904.4 662.5 903.6 662.7 902.9 663.0 901.9 663.2 901.4 663.5 900.4 663.7 899.9 664.0 898.9 664.2 898.4 664.4 897.4 664.6 896.9 664.7 895.9 664.8 894.9 664.8 893.9 664.7 892.9 664.5 891.9 664.4 891.4 664.1 890.4 663.9 889.9 663.5 888.9 663.3 888.4 663.0 887.5 662.8 886.9 662.5 886.1 662.2 885.4 662.0 884.7 661.8 883.9 661.5 883.0 661.3 882.4 661.1 881.4 661.0 880.8 660.8 879.9 660.7 878.9 660.6 877.9 660.5 876.9 660.5 875.9 660.5 875.4 660.5 874.4 660.5 873.4 660.5 872.4 660.5 871.9 660.5 870.9 660.7 869.9 661.0 869.0 661.3 868.4 661.6 867.9 662.0 867.2 662.5 866.5 662.9 865.9 663.2 865.4 663.6 864.9 664.0 864.4 664.5 863.7 665.0 863.1 665.5 862.5 666.0 861.9 666.5 861.4 667.0 860.9 667.5 860.4 668.0 860.0 668.5 859.6 669.0 859.2 669.5 858.8 670.1 858.4 670.9 857.9 671.5 857.5 672.0 857.3 672.8 856.9 673.5 856.6 674.0 856.4 675.0 856.0 675.5 855.8 676.5 855.5 677.1 855.4 678.0 855.2 679.0 855.0 680.0 854.9 680.5 854.9 681.5 854.8 682.5 854.8 683.5 854.9 684.0 854.9 685.0 855.0 686.0 855.2 686.9 855.4 687.5 855.5 688.5 855.8 689.0 856.0 690.0 856.4 690.5 856.6 691.2 856.9 692.0 857.3 692.5 857.5 693.1 857.9 693.9 858.4 694.5 858.8 695.0 859.2 695.5 859.6 696.0 860.0 696.5 860.4 697.0 860.9 697.5 861.4 698.0 861.9 698.5 862.5 699.0 863.1 699.5 863.8 699.9 864.4 700.2 864.9 700.5 865.4 701.0 866.3 701.3 866.9 701.6 867.4 702.0 868.4 702.2 868.9 702.5 869.9 702.7 870.4 702.9 871.4 703.0 871.9 703.2 872.9 703.3 873.9 703.4 874.9 703.5 875.9 703.5 876.9 703.5 877.9 703.4 878.9 703.3 879.9 703.2 880.9 703.1 881.9 703.0 882.4 702.9 883.4 702.7 884.4 702.6 885.4 702.5 886.4 702.5 886.9 702.4 887.9 702.5 888.9 702.5 889.4 702.7 890.4 702.9 891.4 703.0 892.0 703.2 892.9 703.5 893.8 703.7 894.4 703.9 895.4 704.0 895.9 704.3 896.9 704.5 897.9 704.6 898.4 704.7 899.4 704.8 900.4 704.9 901.4 704.9 902.4 704.9 903.4 704.8 904.4 704.7 905.4 704.6 906.4 704.5 907.1 704.4 907.9 704.2 908.9 704.0 909.6 703.8 910.4 703.6 911.4 703.4 911.9 703.2 912.9 703.0 913.6 702.8 914.4 702.6 915.4 702.5 916.0 702.4 916.9 702.3 917.9 702.4 918.9 702.5 919.9 702.5 920.4 702.8 921.4 703.0 922.1 703.3 922.9 703.5 923.5 703.9 924.4 704.1 924.9 704.5 925.6 704.9 926.4 705.1 926.9 705.5 927.6 705.9 928.4 706.2 928.9 706.5 929.6 706.9 930.4 707.1 930.9 707.5 931.8 707.8 932.4 708.0 933.0 708.3 933.9 708.5 934.4 708.8 935.4 709.0 935.9 709.3 936.9 709.5 937.9 709.6 938.4 709.8 939.4 709.9 940.4 710.0 940.9 710.1 941.9 710.2 942.9 710.2 943.9 710.2 944.9 710.1 945.9 710.0 946.9 710.0 947.4 709.8 948.4 709.6 949.4 709.5 950.0 709.3 950.9 709.0 951.9 708.8 952.4 708.5 953.4 708.3 953.9 708.0 954.6 707.7 955.4 707.4 955.9 707.0 956.7 706.6 957.4 706.4 957.9 706.0 958.5 705.5 959.3 705.1 959.9 704.7 960.4 704.3 960.9 703.9 961.4 703.5 961.9 703.0 962.5 702.5 963.0 702.0 963.5 701.5 964.0 701.0 964.5 700.5 965.0 700.0 965.4 699.4 965.9 698.7 966.4 698.0 966.9 697.5 967.3 697.0 967.6 696.5 967.9 695.7 968.4 695.0 968.8 694.5 969.1 693.9 969.4 693.0 969.8 692.5 970.0 691.7 970.4 691.0 970.7 690.3 970.9 689.5 971.2 688.8 971.4 688.0 971.6 687.0 971.9 686.5 972.0 685.5 972.2 684.5 972.4 684.0 972.4ZM614.0 898.9 613.0 899.1 612.0 899.2 611.0 899.2 610.0 899.3 609.0 899.3 608.0 899.2 607.0 899.1 606.0 899.0 605.5 898.9 604.5 898.7 603.5 898.5 603.0 898.3 602.0 898.0 601.5 897.8 600.5 897.4 600.0 897.2 599.3 896.9 598.5 896.5 598.0 896.2 597.4 895.9 596.7 895.4 596.0 894.9 595.5 894.6 595.0 894.2 594.5 893.7 594.0 893.3 593.5 892.8 593.0 892.2 592.5 891.7 592.0 891.0 591.5 890.4 591.2 889.9 590.9 889.4 590.5 888.7 590.1 887.9 589.9 887.4 589.5 886.4 589.4 885.9 589.1 884.9 589.0 884.4 588.8 883.4 588.7 882.4 588.7 881.4 588.7 880.4 588.8 879.4 589.0 878.6 589.1 877.9 589.4 876.9 589.6 876.4 590.0 875.4 590.2 874.9 590.5 874.3 591.0 873.4 591.3 872.9 591.7 872.4 592.1 871.9 592.5 871.3 593.0 870.8 593.5 870.2 594.0 869.7 594.5 869.3 595.0 868.8 595.6 868.4 596.2 867.9 597.0 867.4 597.5 867.1 598.0 866.8 598.7 866.4 599.5 866.0 600.0 865.8 600.9 865.4 601.5 865.2 602.3 864.9 603.0 864.7 604.0 864.4 604.5 864.3 605.5 864.1 606.5 864.0 607.0 863.9 608.0 863.8 609.0 863.7 610.0 863.7 611.0 863.8 612.0 863.8 612.7 863.9 613.5 864.0 614.5 864.2 615.5 864.4 616.0 864.5 617.0 864.8 617.5 864.9 618.5 865.2 619.0 865.4 620.0 865.8 620.5 866.0 621.5 866.4 622.0 866.6 622.8 866.9 623.5 867.2 624.1 867.4 625.0 867.8 625.5 867.9 626.5 868.2 627.1 868.4 628.0 868.6 629.0 868.8 630.0 868.8 631.0 868.8 632.0 868.8 633.0 868.7 634.0 868.6 635.0 868.5 635.7 868.4 636.5 868.3 637.5 868.2 638.5 868.2 639.5 868.1 640.5 867.9 641.0 867.9 642.0 867.8 643.0 867.6 644.0 867.4 644.5 867.4 645.5 867.2 646.5 867.1 647.5 867.0 648.5 867.0 649.5 867.1 650.5 867.3 651.1 867.4 652.0 867.8 652.5 868.2 652.7 868.9 652.5 869.4 651.9 869.9 651.0 870.3 650.5 870.5 649.5 870.8 648.9 870.9 648.0 871.1 647.0 871.2 646.0 871.4 645.5 871.5 644.5 871.6 643.5 871.7 642.5 871.9 642.0 872.0 641.0 872.1 640.0 872.3 639.5 872.4 638.5 872.5 637.5 872.7 636.5 872.8 635.9 872.9 635.0 873.0 634.0 873.3 633.5 873.4 632.5 873.9 632.0 874.3 631.5 874.9 631.2 875.4 631.0 876.1 630.9 876.9 630.8 877.9 630.9 878.9 630.9 879.9 630.9 880.9 630.9 881.9 630.8 882.9 630.7 883.9 630.5 884.9 630.4 885.4 630.1 886.4 629.9 886.9 629.5 887.8 629.2 888.4 629.0 888.9 628.5 889.7 628.1 890.4 627.7 890.9 627.3 891.4 626.9 891.9 626.5 892.4 626.0 892.9 625.5 893.4 624.9 893.9 624.3 894.4 623.6 894.9 623.0 895.4 622.5 895.7 622.0 896.0 621.3 896.4 620.5 896.8 620.0 897.1 619.2 897.4 618.5 897.7 617.9 897.9 617.0 898.2 616.3 898.4 615.5 898.6 614.5 898.8 614.0 898.9ZM680.5 971.4 679.5 971.4 678.5 971.4 678.0 971.4 677.0 971.3 676.0 971.2 675.0 971.1 674.0 970.9 673.5 970.9 672.5 970.6 671.5 970.4 671.0 970.3 670.0 970.0 669.5 969.8 668.5 969.4 668.0 969.2 667.1 968.9 666.5 968.6 666.0 968.4 665.0 967.9 664.5 967.7 663.9 967.4 663.0 966.9 662.5 966.7 661.9 966.4 661.0 965.9 660.5 965.6 660.0 965.4 659.2 964.9 658.5 964.5 658.0 964.2 657.5 963.9 656.7 963.4 656.0 962.9 655.5 962.5 655.0 962.1 654.5 961.6 654.0 961.1 653.5 960.6 653.0 960.0 652.5 959.4 652.2 958.9 651.9 958.4 651.5 957.8 651.1 956.9 650.8 956.4 650.5 955.6 650.3 954.9 650.0 954.1 649.8 953.4 649.6 952.4 649.5 951.9 649.3 950.9 649.2 949.9 649.2 948.9 649.1 947.9 649.1 946.9 649.2 945.9 649.3 944.9 649.4 943.9 649.5 943.0 649.6 942.4 649.8 941.4 650.0 940.4 650.1 939.9 650.4 938.9 650.5 938.4 650.8 937.4 651.0 936.8 651.3 935.9 651.5 935.4 651.9 934.4 652.1 933.9 652.5 933.1 652.8 932.4 653.1 931.9 653.5 931.1 653.9 930.4 654.2 929.9 654.5 929.4 655.0 928.6 655.4 927.9 655.8 927.4 656.1 926.9 656.5 926.4 657.0 925.7 657.5 925.0 657.9 924.4 658.3 923.9 658.7 923.4 659.0 922.9 659.5 922.2 660.0 921.5 660.4 920.9 660.7 920.4 661.0 919.9 661.5 919.0 661.8 918.4 662.0 917.9 662.3 916.9 662.5 916.4 662.8 915.4 662.9 914.4 663.0 913.9 663.1 912.9 663.2 911.9 663.3 910.9 663.4 909.9 663.5 908.9 663.6 908.4 663.7 907.4 663.8 906.4 664.0 905.6 664.2 904.9 664.4 903.9 664.6 903.4 664.9 902.4 665.0 901.9 665.4 900.9 665.5 900.4 665.9 899.4 666.0 898.9 666.3 897.9 666.5 897.2 666.6 896.4 666.7 895.4 666.7 894.4 666.5 893.4 666.4 892.9 666.1 891.9 666.0 891.4 665.6 890.4 665.4 889.9 665.0 889.1 664.7 888.4 664.5 887.9 664.1 886.9 663.9 886.4 663.5 885.5 663.3 884.9 663.0 884.1 662.8 883.4 662.5 882.5 662.3 881.9 662.1 880.9 662.0 880.3 661.8 879.4 661.7 878.4 661.6 877.4 661.6 876.4 661.6 875.4 661.6 874.4 661.7 873.4 661.8 872.4 661.9 871.4 662.0 870.8 662.2 869.9 662.5 869.2 662.8 868.4 663.1 867.9 663.5 867.1 663.9 866.4 664.3 865.9 664.6 865.4 665.0 864.9 665.5 864.2 666.0 863.6 666.5 863.0 667.0 862.4 667.5 861.9 668.0 861.4 668.5 861.0 669.0 860.5 669.5 860.1 670.0 859.8 670.5 859.4 671.3 858.9 672.0 858.5 672.5 858.2 673.1 857.9 674.0 857.5 674.5 857.3 675.5 856.9 676.0 856.8 677.0 856.5 677.5 856.4 678.5 856.2 679.5 856.0 680.5 855.9 681.3 855.9 682.0 855.9 682.7 855.9 683.5 855.9 684.5 856.0 685.5 856.2 686.5 856.4 687.0 856.5 688.0 856.8 688.5 856.9 689.5 857.3 690.0 857.5 690.9 857.9 691.5 858.2 692.0 858.5 692.7 858.9 693.5 859.4 694.0 859.8 694.5 860.1 695.0 860.5 695.5 861.0 696.0 861.4 696.5 861.9 697.0 862.4 697.5 863.0 698.0 863.6 698.5 864.2 699.0 864.9 699.3 865.4 699.6 865.9 700.0 866.6 700.4 867.4 700.6 867.9 701.0 868.8 701.2 869.4 701.5 870.3 701.7 870.9 701.9 871.9 702.0 872.4 702.2 873.4 702.3 874.4 702.4 875.4 702.4 876.4 702.4 877.4 702.4 878.4 702.3 879.4 702.2 880.4 702.0 881.4 701.9 881.9 701.8 882.9 701.6 883.9 701.5 884.4 701.3 885.4 701.2 886.4 701.1 887.4 701.0 888.4 701.0 888.9 701.0 889.4 701.1 890.4 701.2 891.4 701.5 892.4 701.6 892.9 701.9 893.9 702.1 894.4 702.4 895.4 702.5 895.9 702.8 896.9 703.0 897.9 703.1 898.4 703.3 899.4 703.4 900.4 703.4 901.4 703.4 902.4 703.4 903.4 703.3 904.4 703.2 905.4 703.1 906.4 703.0 906.9 702.7 907.9 702.5 908.9 702.4 909.4 702.1 910.4 701.9 910.9 701.6 911.9 701.5 912.4 701.2 913.4 701.0 914.0 700.8 914.9 700.6 915.9 700.5 916.4 700.4 917.4 700.4 918.4 700.5 919.4 700.5 919.9 700.8 920.9 701.0 921.7 701.2 922.4 701.5 923.1 701.9 923.9 702.1 924.4 702.5 925.1 702.9 925.9 703.2 926.4 703.5 927.0 704.0 927.9 704.3 928.4 704.5 928.9 705.0 929.8 705.3 930.4 705.5 930.9 706.0 931.9 706.2 932.4 706.5 933.0 706.8 933.9 707.0 934.4 707.4 935.4 707.5 935.9 707.8 936.9 708.0 937.6 708.2 938.4 708.4 939.4 708.5 940.2 708.6 940.9 708.7 941.9 708.8 942.9 708.8 943.9 708.8 944.9 708.7 945.9 708.6 946.9 708.5 947.7 708.4 948.4 708.2 949.4 708.0 950.2 707.8 950.9 707.5 951.9 707.4 952.4 707.0 953.4 706.8 953.9 706.5 954.6 706.1 955.4 705.9 955.9 705.5 956.6 705.0 957.4 704.7 957.9 704.4 958.4 704.0 959.0 703.5 959.7 703.0 960.3 702.5 960.9 702.1 961.4 701.7 961.9 701.2 962.4 700.7 962.9 700.2 963.4 699.6 963.9 699.1 964.4 698.5 964.9 698.0 965.3 697.5 965.6 697.0 966.0 696.4 966.4 695.6 966.9 695.0 967.3 694.5 967.6 693.9 967.9 693.0 968.3 692.5 968.6 691.8 968.9 691.0 969.2 690.5 969.4 689.5 969.8 689.0 969.9 688.0 970.3 687.4 970.4 686.5 970.6 685.5 970.8 685.0 970.9 684.0 971.1 683.0 971.2 682.0 971.3 681.0 971.4 680.5 971.4ZM614.0 897.9 613.0 898.1 612.0 898.2 611.0 898.3 610.0 898.3 609.0 898.3 608.0 898.2 607.0 898.1 606.0 898.0 605.4 897.9 604.5 897.7 603.5 897.5 603.0 897.3 602.0 897.0 601.5 896.8 600.6 896.4 600.0 896.1 599.5 895.9 598.6 895.4 598.0 895.1 597.5 894.7 597.0 894.4 596.3 893.9 595.7 893.4 595.1 892.9 594.6 892.4 594.1 891.9 593.7 891.4 593.2 890.9 592.9 890.4 592.5 889.9 592.0 889.1 591.6 888.4 591.3 887.9 591.0 887.1 590.7 886.4 590.5 885.8 590.2 884.9 590.0 883.9 590.0 883.4 589.9 882.4 589.8 881.4 589.9 880.4 590.0 879.4 590.1 878.9 590.3 877.9 590.5 877.2 590.8 876.4 591.0 875.9 591.4 874.9 591.7 874.4 592.0 873.9 592.5 873.1 593.0 872.4 593.4 871.9 593.8 871.4 594.3 870.9 594.8 870.4 595.4 869.9 595.9 869.4 596.5 869.0 597.0 868.6 597.5 868.3 598.1 867.9 598.9 867.4 599.5 867.1 600.0 866.9 601.0 866.4 601.5 866.2 602.4 865.9 603.0 865.7 604.0 865.4 604.5 865.3 605.5 865.1 606.5 864.9 607.0 864.9 608.0 864.8 609.0 864.7 610.0 864.7 611.0 864.7 612.0 864.8 613.0 864.9 613.5 865.0 614.5 865.1 615.5 865.4 616.0 865.5 617.0 865.8 617.5 865.9 618.5 866.3 619.0 866.4 620.0 866.8 620.5 867.0 621.4 867.4 622.0 867.7 622.5 867.9 623.5 868.4 624.0 868.6 624.6 868.9 625.5 869.3 626.0 869.5 626.8 869.9 627.5 870.3 628.0 870.5 628.7 870.9 629.3 871.4 629.6 871.9 629.7 872.9 629.5 873.9 629.5 874.4 629.4 875.4 629.5 876.4 629.5 877.1 629.6 877.9 629.7 878.9 629.7 879.9 629.8 880.9 629.8 881.9 629.7 882.9 629.6 883.9 629.5 884.4 629.2 885.4 629.0 886.1 628.7 886.9 628.5 887.4 628.0 888.4 627.7 888.9 627.4 889.4 627.0 890.0 626.5 890.7 626.0 891.3 625.5 891.9 625.0 892.4 624.5 892.9 624.0 893.3 623.5 893.7 623.0 894.1 622.5 894.5 621.9 894.9 621.0 895.4 620.5 895.7 620.0 896.0 619.0 896.4 618.5 896.6 617.8 896.9 617.0 897.2 616.3 897.4 615.5 897.6 614.5 897.8 614.0 897.9ZM683.0 969.9 682.0 970.0 681.0 970.1 680.0 970.1 679.0 970.1 678.0 970.1 677.0 970.0 676.0 969.9 675.5 969.9 674.5 969.7 673.5 969.5 672.9 969.4 672.0 969.2 671.0 968.9 670.5 968.7 669.5 968.4 669.0 968.2 668.2 967.9 667.5 967.6 667.0 967.4 666.0 967.0 665.5 966.7 664.9 966.4 664.0 966.0 663.5 965.7 662.9 965.4 662.0 964.9 661.5 964.7 661.0 964.4 660.1 963.9 659.5 963.6 659.0 963.3 658.4 962.9 657.6 962.4 657.0 962.0 656.5 961.6 656.0 961.2 655.5 960.8 655.0 960.4 654.5 959.9 654.0 959.3 653.5 958.7 653.0 958.0 652.7 957.4 652.4 956.9 652.0 956.2 651.7 955.4 651.5 954.9 651.1 953.9 651.0 953.4 650.7 952.4 650.6 951.4 650.5 950.9 650.4 949.9 650.3 948.9 650.3 947.9 650.3 946.9 650.4 945.9 650.5 944.9 650.5 944.4 650.7 943.4 650.9 942.4 651.0 941.7 651.2 940.9 651.4 939.9 651.6 939.4 651.9 938.4 652.0 937.9 652.4 936.9 652.5 936.4 652.9 935.4 653.2 934.9 653.5 934.1 653.8 933.4 654.1 932.9 654.5 932.1 654.9 931.4 655.2 930.9 655.5 930.4 656.0 929.6 656.4 928.9 656.8 928.4 657.1 927.9 657.5 927.4 658.0 926.7 658.5 926.0 659.0 925.4 659.4 924.9 659.8 924.4 660.2 923.9 660.6 923.4 661.0 922.8 661.5 922.2 662.0 921.5 662.4 920.9 662.7 920.4 663.0 919.9 663.5 919.1 663.8 918.4 664.1 917.9 664.4 916.9 664.6 916.4 664.8 915.4 665.0 914.5 665.1 913.9 665.2 912.9 665.3 911.9 665.3 910.9 665.4 909.9 665.5 909.1 665.6 908.4 665.7 907.4 665.9 906.4 666.0 905.8 666.2 904.9 666.5 903.9 666.6 903.4 667.0 902.4 667.2 901.9 667.5 900.9 667.7 900.4 668.0 899.5 668.2 898.9 668.5 897.9 668.6 897.4 668.7 896.4 668.7 895.4 668.6 894.4 668.5 893.9 668.2 892.9 668.0 892.4 667.6 891.4 667.3 890.9 667.0 890.2 666.6 889.4 666.3 888.9 666.0 888.2 665.6 887.4 665.4 886.9 665.0 886.1 664.7 885.4 664.5 884.9 664.1 883.9 663.9 883.4 663.6 882.4 663.5 881.9 663.2 880.9 663.0 879.9 662.9 879.4 662.8 878.4 662.7 877.4 662.7 876.4 662.7 875.4 662.7 874.4 662.8 873.4 662.9 872.4 663.0 871.9 663.2 870.9 663.5 870.0 663.7 869.4 664.0 868.7 664.4 867.9 664.7 867.4 665.0 866.8 665.5 866.0 665.9 865.4 666.3 864.9 666.7 864.4 667.1 863.9 667.5 863.4 668.0 862.9 668.5 862.4 669.0 861.9 669.6 861.4 670.2 860.9 670.9 860.4 671.5 860.0 672.0 859.7 672.5 859.4 673.5 858.9 674.0 858.6 674.6 858.4 675.5 858.0 676.0 857.9 677.0 857.6 677.7 857.4 678.5 857.2 679.5 857.1 680.5 857.0 681.5 856.9 682.5 856.9 683.5 857.0 684.5 857.1 685.5 857.2 686.3 857.4 687.0 857.6 688.0 857.9 688.5 858.0 689.4 858.4 690.0 858.6 690.5 858.9 691.5 859.4 692.0 859.7 692.5 860.0 693.1 860.4 693.8 860.9 694.4 861.4 695.0 861.9 695.5 862.4 696.0 862.9 696.5 863.4 696.9 863.9 697.3 864.4 697.7 864.9 698.0 865.4 698.5 866.1 698.9 866.9 699.2 867.4 699.5 868.0 699.9 868.9 700.1 869.4 700.4 870.4 700.6 870.9 700.9 871.9 701.0 872.6 701.1 873.4 701.3 874.4 701.3 875.4 701.4 876.4 701.4 877.4 701.3 878.4 701.2 879.4 701.1 880.4 701.0 880.9 700.8 881.9 700.6 882.9 700.5 883.4 700.3 884.4 700.0 885.4 699.9 885.9 699.7 886.9 699.5 887.9 699.4 888.4 699.3 889.4 699.3 890.4 699.3 891.4 699.5 892.4 699.6 892.9 699.9 893.9 700.1 894.4 700.5 895.4 700.6 895.9 701.0 896.9 701.1 897.4 701.4 898.4 701.5 899.1 701.6 899.9 701.7 900.9 701.8 901.9 701.8 902.9 701.7 903.9 701.6 904.9 701.5 905.4 701.3 906.4 701.0 907.4 700.9 907.9 700.6 908.9 700.4 909.4 700.1 910.4 699.9 910.9 699.6 911.9 699.4 912.4 699.1 913.4 698.9 913.9 698.7 914.9 698.5 915.8 698.4 916.4 698.3 917.4 698.3 918.4 698.4 919.4 698.5 919.9 698.8 920.9 699.0 921.6 699.3 922.4 699.5 922.9 700.0 923.8 700.3 924.4 700.6 924.9 701.0 925.6 701.4 926.4 701.7 926.9 702.0 927.4 702.5 928.2 702.9 928.9 703.2 929.4 703.5 930.0 704.0 930.9 704.2 931.4 704.5 932.0 704.9 932.9 705.1 933.4 705.5 934.3 705.7 934.9 706.0 935.7 706.2 936.4 706.5 937.3 706.7 937.9 706.9 938.9 707.0 939.6 707.1 940.4 707.3 941.4 707.3 942.4 707.4 943.4 707.4 944.4 707.3 945.4 707.3 946.4 707.1 947.4 707.0 948.3 706.9 948.9 706.7 949.9 706.5 950.5 706.2 951.4 706.0 952.1 705.7 952.9 705.5 953.4 705.1 954.4 704.8 954.9 704.5 955.6 704.0 956.4 703.7 956.9 703.4 957.4 703.0 958.1 702.5 958.8 702.0 959.4 701.6 959.9 701.2 960.4 700.8 960.9 700.3 961.4 699.8 961.9 699.3 962.4 698.8 962.9 698.2 963.4 697.6 963.9 697.0 964.3 696.5 964.7 696.0 965.1 695.5 965.4 694.7 965.9 694.0 966.3 693.5 966.6 692.9 966.9 692.0 967.4 691.5 967.6 690.8 967.9 690.0 968.2 689.5 968.4 688.5 968.7 688.0 968.9 687.0 969.2 686.1 969.4 685.5 969.5 684.5 969.7 683.5 969.9 683.0 969.9ZM614.0 897.0 613.0 897.1 612.0 897.3 611.0 897.3 610.0 897.4 609.0 897.4 608.0 897.3 607.0 897.2 606.0 897.0 605.3 896.9 604.5 896.7 603.5 896.5 603.0 896.3 602.0 895.9 601.5 895.7 600.7 895.4 600.0 895.1 599.5 894.8 598.8 894.4 598.0 893.9 597.5 893.5 597.0 893.1 596.5 892.7 596.0 892.3 595.5 891.8 595.0 891.3 594.5 890.8 594.0 890.1 593.5 889.5 593.1 888.9 592.8 888.4 592.5 887.8 592.1 886.9 591.9 886.4 591.5 885.4 591.4 884.9 591.2 883.9 591.0 882.9 591.0 882.4 591.0 881.4 591.0 880.5 591.1 879.9 591.2 878.9 591.5 877.9 591.6 877.4 592.0 876.4 592.2 875.9 592.5 875.2 593.0 874.4 593.3 873.9 593.6 873.4 594.0 872.9 594.5 872.2 595.0 871.7 595.5 871.2 596.0 870.7 596.5 870.3 597.0 869.9 597.6 869.4 598.4 868.9 599.0 868.5 599.5 868.2 600.1 867.9 601.0 867.5 601.5 867.3 602.4 866.9 603.0 866.7 604.0 866.4 604.5 866.3 605.5 866.0 606.4 865.9 607.0 865.8 608.0 865.7 609.0 865.6 610.0 865.6 611.0 865.7 612.0 865.7 613.0 865.9 613.5 865.9 614.5 866.1 615.5 866.3 616.0 866.5 617.0 866.8 617.5 866.9 618.5 867.3 619.0 867.5 620.0 867.9 620.5 868.1 621.1 868.4 622.0 868.9 622.5 869.1 623.0 869.4 623.9 869.9 624.5 870.3 625.0 870.6 625.5 871.0 626.0 871.5 626.5 872.0 627.0 872.7 627.3 873.4 627.5 873.9 627.8 874.9 628.0 875.9 628.1 876.4 628.3 877.4 628.4 878.4 628.5 879.0 628.6 879.9 628.7 880.9 628.6 881.9 628.6 882.9 628.5 883.4 628.3 884.4 628.1 885.4 627.9 885.9 627.5 886.9 627.3 887.4 627.0 888.0 626.5 888.8 626.1 889.4 625.8 889.9 625.4 890.4 625.0 890.9 624.5 891.4 624.0 891.9 623.5 892.4 622.9 892.9 622.3 893.4 621.6 893.9 621.0 894.3 620.5 894.6 619.9 894.9 619.0 895.3 618.5 895.6 617.7 895.9 617.0 896.2 616.3 896.4 615.5 896.6 614.5 896.9 614.0 897.0ZM682.0 968.9 681.0 969.0 680.0 969.0 679.0 969.0 678.0 969.0 677.0 968.9 676.5 968.9 675.5 968.8 674.5 968.6 673.5 968.4 673.0 968.3 672.0 968.0 671.5 967.9 670.5 967.6 670.0 967.4 669.0 967.0 668.5 966.8 667.5 966.4 667.0 966.2 666.4 965.9 665.5 965.5 665.0 965.2 664.4 964.9 663.5 964.4 663.0 964.2 662.5 963.9 661.6 963.4 661.0 963.1 660.5 962.8 659.8 962.4 659.0 961.9 658.5 961.6 658.0 961.3 657.4 960.9 656.7 960.4 656.1 959.9 655.6 959.4 655.1 958.9 654.7 958.4 654.3 957.9 653.9 957.4 653.5 956.8 653.0 955.9 652.8 955.4 652.5 954.8 652.2 953.9 652.0 953.3 651.8 952.4 651.6 951.4 651.5 950.9 651.4 949.9 651.3 948.9 651.3 947.9 651.3 946.9 651.4 945.9 651.5 945.1 651.6 944.4 651.7 943.4 651.9 942.4 652.1 941.9 652.3 940.9 652.5 940.1 652.7 939.4 653.0 938.5 653.2 937.9 653.5 937.1 653.8 936.4 654.0 935.8 654.4 934.9 654.6 934.4 655.0 933.6 655.4 932.9 655.6 932.4 656.0 931.8 656.5 930.9 656.8 930.4 657.2 929.9 657.5 929.4 658.0 928.7 658.5 928.0 658.9 927.4 659.3 926.9 659.7 926.4 660.1 925.9 660.5 925.4 661.0 924.9 661.5 924.3 662.0 923.7 662.5 923.1 663.0 922.4 663.4 921.9 663.8 921.4 664.2 920.9 664.5 920.4 665.0 919.7 665.4 918.9 665.7 918.4 666.0 917.7 666.3 916.9 666.5 916.2 666.7 915.4 666.9 914.4 667.0 913.4 667.0 912.9 667.1 911.9 667.2 910.9 667.3 909.9 667.4 908.9 667.5 907.9 667.6 907.4 667.7 906.4 668.0 905.4 668.1 904.9 668.4 903.9 668.6 903.4 668.9 902.4 669.1 901.9 669.5 900.9 669.7 900.4 670.0 899.6 670.2 898.9 670.5 897.9 670.6 897.4 670.6 896.4 670.6 895.4 670.5 894.9 670.2 893.9 670.0 893.4 669.5 892.4 669.3 891.9 669.0 891.4 668.5 890.5 668.1 889.9 667.8 889.4 667.5 888.8 667.0 887.9 666.7 887.4 666.5 886.9 666.0 886.0 665.7 885.4 665.5 884.9 665.1 883.9 664.9 883.4 664.6 882.4 664.4 881.9 664.1 880.9 664.0 880.3 663.8 879.4 663.7 878.4 663.6 877.4 663.6 876.4 663.6 875.4 663.6 874.4 663.7 873.4 663.9 872.4 664.0 871.9 664.2 870.9 664.5 870.1 664.7 869.4 665.0 868.8 665.4 867.9 665.7 867.4 666.0 866.9 666.5 866.1 667.0 865.4 667.4 864.9 667.8 864.4 668.3 863.9 668.7 863.4 669.2 862.9 669.8 862.4 670.4 861.9 671.0 861.4 671.5 861.1 672.0 860.7 672.5 860.4 673.4 859.9 674.0 859.6 674.5 859.4 675.5 859.0 676.0 858.8 677.0 858.5 677.5 858.4 678.5 858.1 679.5 858.0 680.2 857.9 681.0 857.8 682.0 857.8 683.0 857.8 683.8 857.9 684.5 858.0 685.5 858.1 686.5 858.4 687.0 858.5 688.0 858.8 688.5 859.0 689.5 859.4 690.0 859.6 690.6 859.9 691.5 860.4 692.0 860.7 692.5 861.1 693.0 861.4 693.6 861.9 694.2 862.4 694.8 862.9 695.3 863.4 695.7 863.9 696.2 864.4 696.6 864.9 697.0 865.5 697.5 866.2 697.9 866.9 698.2 867.4 698.5 868.0 698.9 868.9 699.1 869.4 699.5 870.4 699.7 870.9 699.9 871.9 700.0 872.4 700.2 873.4 700.4 874.4 700.4 875.4 700.5 876.4 700.4 877.4 700.4 878.4 700.3 879.4 700.1 880.4 700.0 881.1 699.8 881.9 699.6 882.9 699.5 883.4 699.2 884.4 699.0 885.1 698.8 885.9 698.5 886.8 698.3 887.4 698.0 888.4 697.9 888.9 697.6 889.9 697.5 890.6 697.4 891.4 697.3 892.4 697.4 893.4 697.6 893.9 697.9 894.9 698.1 895.4 698.5 896.3 698.8 896.9 699.0 897.4 699.4 898.4 699.5 898.9 699.7 899.9 699.9 900.9 700.0 901.9 700.0 902.9 699.9 903.9 699.7 904.9 699.5 905.9 699.4 906.4 699.1 907.4 699.0 907.9 698.6 908.9 698.5 909.4 698.1 910.4 697.9 910.9 697.6 911.9 697.4 912.4 697.1 913.4 697.0 913.9 696.7 914.9 696.5 915.9 696.5 916.4 696.4 917.4 696.5 918.4 696.5 918.9 696.7 919.9 697.0 920.9 697.2 921.4 697.5 922.1 697.9 922.9 698.1 923.4 698.5 924.0 699.0 924.9 699.3 925.4 699.6 925.9 700.0 926.5 700.5 927.3 700.9 927.9 701.2 928.4 701.5 928.9 702.0 929.8 702.4 930.4 702.6 930.9 703.0 931.6 703.4 932.4 703.7 932.9 704.0 933.7 704.3 934.4 704.5 934.9 704.9 935.9 705.0 936.4 705.3 937.4 705.5 938.1 705.7 938.9 705.9 939.9 706.0 940.7 706.1 941.4 706.2 942.4 706.2 943.4 706.2 944.4 706.2 945.4 706.1 946.4 706.0 947.2 705.9 947.9 705.7 948.9 705.5 949.7 705.3 950.4 705.0 951.4 704.9 951.9 704.5 952.8 704.3 953.4 704.0 954.0 703.5 954.9 703.3 955.4 703.0 955.9 702.5 956.7 702.1 957.4 701.7 957.9 701.4 958.4 701.0 958.9 700.5 959.5 700.0 960.1 699.5 960.6 699.0 961.1 698.5 961.6 698.0 962.1 697.5 962.5 697.0 962.9 696.4 963.4 695.7 963.9 695.0 964.4 694.5 964.7 694.0 965.0 693.4 965.4 692.5 965.9 692.0 966.1 691.4 966.4 690.5 966.8 690.0 967.0 689.0 967.4 688.5 967.6 687.5 967.9 687.0 968.0 686.0 968.3 685.5 968.4 684.5 968.6 683.5 968.8 682.5 968.9 682.0 968.9ZM612.0 896.4 611.0 896.5 610.0 896.6 609.0 896.5 608.0 896.5 607.2 896.4 606.5 896.3 605.5 896.1 604.6 895.9 604.0 895.8 603.0 895.4 602.5 895.3 601.6 894.9 601.0 894.6 600.5 894.4 599.7 893.9 599.0 893.5 598.5 893.2 598.0 892.8 597.5 892.4 596.9 891.9 596.3 891.4 595.8 890.9 595.4 890.4 595.0 889.9 594.5 889.3 594.0 888.6 593.6 887.9 593.3 887.4 593.0 886.7 592.7 885.9 592.5 885.3 592.2 884.4 592.1 883.4 592.0 882.9 591.9 881.9 591.9 880.9 592.0 880.1 592.1 879.4 592.3 878.4 592.5 877.7 592.8 876.9 593.0 876.3 593.4 875.4 593.7 874.9 594.0 874.4 594.5 873.7 595.0 873.0 595.5 872.5 596.0 871.9 596.5 871.4 597.0 871.0 597.5 870.6 598.0 870.2 598.5 869.8 599.2 869.4 600.0 868.9 600.5 868.6 601.0 868.4 602.0 867.9 602.5 867.7 603.5 867.4 604.0 867.2 605.0 867.0 605.5 866.9 606.5 866.7 607.5 866.6 608.5 866.5 609.5 866.4 610.5 866.4 611.5 866.5 612.5 866.6 613.5 866.7 614.3 866.9 615.0 867.1 616.0 867.3 616.5 867.5 617.5 867.8 618.0 868.0 619.0 868.4 619.5 868.6 620.1 868.9 621.0 869.4 621.5 869.7 622.0 870.0 622.7 870.4 623.4 870.9 624.0 871.4 624.5 871.8 625.0 872.4 625.4 872.9 625.8 873.4 626.0 873.9 626.5 874.9 626.6 875.4 626.9 876.4 627.1 876.9 627.3 877.9 627.5 878.9 627.6 879.4 627.7 880.4 627.7 881.4 627.7 882.4 627.5 883.4 627.5 883.9 627.2 884.9 627.0 885.6 626.7 886.4 626.5 886.9 626.0 887.9 625.7 888.4 625.4 888.9 625.0 889.4 624.5 890.1 624.0 890.7 623.5 891.2 623.0 891.7 622.5 892.1 622.0 892.5 621.5 892.9 620.8 893.4 620.0 893.9 619.5 894.2 619.0 894.4 618.0 894.9 617.5 895.1 616.7 895.4 616.0 895.6 615.0 895.9 614.5 896.0 613.5 896.2 612.5 896.4 612.0 896.4Z" fill="none" stroke="#111" stroke-width="1.1"/>
<ellipse cx="681" cy="875.5" rx="3.3" ry="4.3" fill="#fff"/>
<ellipse cx="681" cy="876" rx="6.3" ry="7.3" fill="none" stroke="#fff" stroke-width="1.1"/>
<ellipse cx="683.5" cy="942.5" rx="6.3" ry="5.5" fill="#fff"/>
<ellipse cx="683" cy="942.5" rx="9.3" ry="8.3" fill="none" stroke="#fff" stroke-width="1.0"/>
<ellipse cx="682.5" cy="943" rx="12" ry="10.5" fill="none" stroke="#fff" stroke-width="0.9"/>
<ellipse cx="609.5" cy="881" rx="4" ry="2.6" fill="none" stroke="#fff" stroke-width="0.9"/>
<ellipse cx="609" cy="881" rx="1.2" ry="1" fill="#fff"/>
<path d="M673 893 Q683 889 692 893 M675 899 Q684 895 692 899 M677 905 Q684 901 690 905 M679 911 Q684 908 688 911" fill="none" stroke="#fff" stroke-width="1.1"/>
<path d="M935.0 972.4 934.0 972.5 933.0 972.6 932.0 972.6 931.0 972.6 930.0 972.6 929.0 972.6 928.0 972.5 927.0 972.4 926.5 972.3 925.5 972.1 924.5 971.9 924.0 971.8 923.0 971.5 922.3 971.3 921.5 971.1 920.8 970.8 920.0 970.5 919.5 970.3 918.5 969.8 918.0 969.6 917.4 969.3 916.5 968.8 916.0 968.5 915.5 968.2 914.9 967.8 914.1 967.3 913.5 966.8 913.0 966.5 912.5 966.1 912.0 965.6 911.5 965.2 911.0 964.7 910.5 964.2 910.0 963.7 909.5 963.2 909.0 962.6 908.5 962.0 908.0 961.4 907.6 960.8 907.2 960.3 906.9 959.8 906.5 959.2 906.0 958.3 905.7 957.8 905.4 957.3 905.0 956.4 904.7 955.8 904.5 955.2 904.1 954.3 904.0 953.8 903.7 952.8 903.5 952.2 903.3 951.3 903.1 950.3 903.0 949.8 902.8 948.8 902.7 947.8 902.6 946.8 902.6 945.8 902.6 944.8 902.6 943.8 902.7 942.8 902.8 941.8 903.0 940.9 903.1 940.3 903.3 939.3 903.5 938.6 903.7 937.8 904.0 936.9 904.2 936.3 904.5 935.5 904.8 934.8 905.0 934.2 905.4 933.3 905.7 932.8 906.0 932.2 906.5 931.3 906.8 930.8 907.1 930.3 907.5 929.6 908.0 928.9 908.4 928.3 908.8 927.8 909.2 927.3 909.6 926.8 910.0 926.3 910.5 925.7 911.0 925.2 911.5 924.6 912.0 924.1 912.5 923.6 913.0 923.2 913.5 922.7 914.0 922.3 914.5 921.8 915.2 921.3 915.8 920.8 916.4 920.3 917.0 919.9 917.5 919.5 918.0 919.2 918.5 918.8 919.3 918.3 920.0 917.8 920.5 917.5 921.0 917.2 921.6 916.8 922.4 916.3 923.0 916.0 923.5 915.7 924.1 915.3 925.0 914.8 925.5 914.5 926.0 914.3 926.9 913.8 927.5 913.5 928.0 913.3 929.0 912.9 929.5 912.7 930.5 912.4 931.0 912.3 932.0 912.1 933.0 912.1 934.0 912.2 934.5 912.3 935.5 912.6 936.0 912.8 937.0 913.3 937.5 913.6 938.0 913.9 938.7 914.3 939.5 914.8 940.0 915.1 940.5 915.5 941.0 915.8 941.7 916.3 942.3 916.8 943.0 917.3 943.5 917.7 944.0 918.1 944.5 918.5 945.0 918.9 945.5 919.3 946.1 919.8 946.6 920.3 947.2 920.8 947.7 921.3 948.3 921.8 948.8 922.3 949.3 922.8 949.7 923.3 950.2 923.8 950.7 924.3 951.1 924.8 951.5 925.3 952.0 925.9 952.5 926.5 953.0 927.2 953.5 927.8 953.8 928.3 954.1 928.8 954.5 929.4 955.0 930.2 955.4 930.8 955.6 931.3 956.0 932.0 956.4 932.8 956.7 933.3 957.0 934.1 957.3 934.8 957.5 935.3 957.9 936.3 958.0 936.8 958.3 937.8 958.5 938.4 958.7 939.3 958.9 940.3 959.0 940.8 959.2 941.8 959.3 942.8 959.4 943.8 959.4 944.8 959.4 945.8 959.4 946.8 959.3 947.8 959.2 948.8 959.0 949.8 958.9 950.3 958.7 951.3 958.5 952.2 958.3 952.8 958.0 953.8 957.9 954.3 957.5 955.2 957.3 955.8 957.0 956.4 956.6 957.3 956.3 957.8 956.0 958.3 955.5 959.2 955.1 959.8 954.8 960.3 954.4 960.8 954.0 961.4 953.5 962.0 953.0 962.6 952.5 963.2 952.0 963.7 951.5 964.3 951.0 964.7 950.5 965.2 950.0 965.6 949.5 966.1 949.0 966.5 948.5 966.9 947.9 967.3 947.2 967.8 946.5 968.2 946.0 968.5 945.5 968.8 944.6 969.3 944.0 969.6 943.5 969.9 942.5 970.3 942.0 970.5 941.2 970.8 940.5 971.1 939.8 971.3 939.0 971.5 938.0 971.8 937.5 971.9 936.5 972.1 935.5 972.3 935.0 972.4Z" fill="#111" stroke="#111" stroke-width="1"/>
<path d="M936.0 978.8 935.0 979.0 934.0 979.1 933.0 979.1 932.0 979.2 931.0 979.2 930.0 979.2 929.0 979.1 928.0 979.0 927.0 978.9 926.0 978.8 925.5 978.7 924.5 978.6 923.5 978.4 923.0 978.2 922.0 978.0 921.3 977.8 920.5 977.6 919.6 977.3 919.0 977.1 918.2 976.8 917.5 976.5 917.0 976.3 916.0 975.9 915.5 975.7 914.8 975.3 914.0 974.9 913.5 974.6 912.9 974.3 912.1 973.8 911.5 973.4 911.0 973.1 910.5 972.8 909.8 972.3 909.1 971.8 908.5 971.3 908.0 970.9 907.5 970.5 907.0 970.0 906.5 969.6 906.0 969.1 905.5 968.6 905.0 968.1 904.5 967.6 904.0 967.0 903.5 966.4 903.0 965.8 902.6 965.3 902.2 964.8 901.9 964.3 901.5 963.8 901.0 963.0 900.5 962.3 900.2 961.8 900.0 961.3 899.5 960.4 899.2 959.8 898.9 959.3 898.5 958.3 898.3 957.8 898.0 957.1 897.7 956.3 897.5 955.7 897.2 954.8 897.0 954.1 896.8 953.3 896.6 952.3 896.4 951.8 896.3 950.8 896.1 949.8 896.0 948.9 895.9 948.3 895.9 947.3 895.8 946.3 895.8 945.3 895.8 944.3 895.9 943.3 895.9 942.3 896.0 941.8 896.1 940.8 896.2 939.8 896.4 938.8 896.5 938.3 896.7 937.3 897.0 936.3 897.1 935.8 897.4 934.8 897.5 934.3 897.9 933.3 898.0 932.8 898.4 931.8 898.6 931.3 899.0 930.3 899.2 929.8 899.5 929.0 899.8 928.3 900.1 927.8 900.5 926.8 900.8 926.3 901.0 925.8 901.5 924.9 901.8 924.3 902.1 923.8 902.5 923.0 902.9 922.3 903.2 921.8 903.5 921.3 904.0 920.6 904.5 919.8 904.9 919.3 905.2 918.8 905.6 918.3 906.0 917.8 906.5 917.1 907.0 916.5 907.5 915.9 908.0 915.3 908.4 914.8 908.9 914.3 909.3 913.8 909.8 913.3 910.2 912.8 910.6 912.3 911.1 911.8 911.5 911.3 912.0 910.7 912.5 910.0 913.0 909.4 913.4 908.8 913.7 908.3 914.0 907.8 914.5 906.9 914.8 906.3 915.1 905.8 915.5 904.8 915.6 904.3 916.0 903.3 916.1 902.8 916.4 901.8 916.5 901.3 916.7 900.3 916.9 899.3 917.0 898.7 917.1 897.8 917.3 896.8 917.4 895.8 917.5 895.2 917.6 894.3 917.7 893.3 917.9 892.3 918.0 891.5 918.1 890.8 918.2 889.8 918.4 888.8 918.5 888.2 918.7 887.3 918.8 886.3 919.0 885.5 919.1 884.8 919.3 883.8 919.5 883.1 919.7 882.3 919.9 881.3 920.1 880.8 920.3 879.8 920.5 879.2 920.8 878.3 921.0 877.6 921.3 876.8 921.5 876.1 921.8 875.3 922.0 874.8 922.4 873.8 922.6 873.3 923.0 872.4 923.3 871.8 923.5 871.3 924.0 870.4 924.3 869.8 924.6 869.3 925.0 868.7 925.5 867.9 926.0 867.3 926.3 866.8 926.8 866.3 927.2 865.8 927.7 865.3 928.3 864.8 928.9 864.3 929.5 863.9 930.0 863.6 930.8 863.3 931.5 863.1 932.5 862.9 933.5 862.9 934.5 863.1 935.2 863.3 936.0 863.6 936.5 863.9 937.1 864.3 937.7 864.8 938.3 865.3 938.8 865.8 939.2 866.3 939.7 866.8 940.0 867.3 940.5 867.9 941.0 868.7 941.4 869.3 941.7 869.8 942.0 870.4 942.5 871.3 942.7 871.8 943.0 872.4 943.4 873.3 943.6 873.8 944.0 874.8 944.2 875.3 944.5 876.1 944.7 876.8 945.0 877.6 945.2 878.3 945.5 879.2 945.7 879.8 945.9 880.8 946.1 881.3 946.3 882.3 946.5 883.1 946.7 883.8 946.9 884.8 947.0 885.5 947.2 886.3 947.3 887.3 947.5 888.2 947.6 888.8 947.8 889.8 947.9 890.8 948.0 891.5 948.1 892.3 948.2 893.3 948.4 894.3 948.5 895.3 948.6 895.8 948.7 896.8 948.8 897.8 949.0 898.8 949.0 899.3 949.2 900.3 949.4 901.3 949.5 901.8 949.7 902.8 950.0 903.8 950.1 904.3 950.4 905.3 950.6 905.8 951.0 906.8 951.2 907.3 951.5 908.0 951.9 908.8 952.2 909.3 952.5 909.9 953.0 910.8 953.3 911.3 953.6 911.8 954.0 912.4 954.5 913.2 954.9 913.8 955.2 914.3 955.6 914.8 956.0 915.5 956.5 916.2 956.9 916.8 957.2 917.3 957.5 917.9 958.0 918.7 958.3 919.3 958.6 919.8 959.0 920.5 959.4 921.3 959.7 921.8 960.0 922.5 960.4 923.3 960.6 923.8 961.0 924.7 961.3 925.3 961.5 925.8 961.9 926.8 962.1 927.3 962.5 928.3 962.7 928.8 963.0 929.6 963.3 930.3 963.5 931.0 963.8 931.8 964.0 932.5 964.3 933.3 964.5 934.1 964.7 934.8 965.0 935.8 965.1 936.3 965.3 937.3 965.5 938.2 965.6 938.8 965.8 939.8 965.9 940.8 966.0 941.5 966.1 942.3 966.2 943.3 966.2 944.3 966.2 945.3 966.2 946.3 966.1 947.3 966.1 948.3 966.0 948.9 965.9 949.8 965.7 950.8 965.6 951.8 965.5 952.3 965.2 953.3 965.0 954.1 964.8 954.8 964.5 955.7 964.3 956.3 964.0 957.1 963.7 957.8 963.5 958.3 963.1 959.3 962.8 959.8 962.5 960.4 962.0 961.3 961.8 961.8 961.5 962.3 961.0 963.0 960.5 963.8 960.1 964.3 959.8 964.8 959.4 965.3 959.0 965.8 958.5 966.4 958.0 967.0 957.5 967.6 957.0 968.1 956.5 968.6 956.0 969.1 955.5 969.6 955.0 970.1 954.5 970.5 954.0 970.9 953.5 971.3 952.9 971.8 952.2 972.3 951.5 972.8 951.0 973.1 950.5 973.5 950.0 973.8 949.1 974.3 948.5 974.7 948.0 974.9 947.3 975.3 946.5 975.7 946.0 975.9 945.1 976.3 944.5 976.6 943.9 976.8 943.0 977.1 942.5 977.3 941.5 977.6 940.9 977.8 940.0 978.0 939.0 978.3 938.5 978.4 937.5 978.6 936.5 978.8 936.0 978.8ZM936.0 977.4 935.0 977.5 934.0 977.6 933.0 977.7 932.0 977.7 931.0 977.7 930.0 977.7 929.0 977.7 928.0 977.6 927.0 977.5 926.0 977.4 925.5 977.3 924.5 977.1 923.5 976.9 923.0 976.8 922.0 976.5 921.2 976.3 920.5 976.1 919.7 975.8 919.0 975.6 918.3 975.3 917.5 975.0 917.0 974.8 916.0 974.3 915.5 974.1 915.0 973.8 914.1 973.3 913.5 973.0 913.0 972.7 912.4 972.3 911.6 971.8 911.0 971.4 910.5 971.0 910.0 970.6 909.5 970.3 908.9 969.8 908.4 969.3 907.8 968.8 907.2 968.3 906.7 967.8 906.2 967.3 905.8 966.8 905.3 966.3 904.9 965.8 904.5 965.3 904.0 964.7 903.5 964.1 903.0 963.4 902.6 962.8 902.3 962.3 902.0 961.8 901.5 961.0 901.1 960.3 900.8 959.8 900.5 959.1 900.1 958.3 899.9 957.8 899.5 956.9 899.3 956.3 899.0 955.5 898.7 954.8 898.5 954.0 898.3 953.3 898.1 952.3 898.0 951.8 897.8 950.8 897.6 949.8 897.5 948.9 897.4 948.3 897.4 947.3 897.3 946.3 897.3 945.3 897.3 944.3 897.4 943.3 897.4 942.3 897.5 941.8 897.6 940.8 897.8 939.8 898.0 938.8 898.1 938.3 898.3 937.3 898.5 936.6 898.7 935.8 899.0 934.9 899.2 934.3 899.5 933.4 899.7 932.8 900.0 932.1 900.3 931.3 900.5 930.8 901.0 929.8 901.2 929.3 901.5 928.7 902.0 927.8 902.2 927.3 902.5 926.8 903.0 926.0 903.4 925.3 903.7 924.8 904.0 924.3 904.5 923.6 905.0 922.8 905.4 922.3 905.7 921.8 906.1 921.3 906.5 920.8 907.0 920.1 907.5 919.5 908.0 918.9 908.5 918.4 909.0 917.8 909.5 917.3 909.9 916.8 910.4 916.3 910.9 915.8 911.3 915.3 911.8 914.8 912.3 914.3 912.8 913.8 913.2 913.3 913.7 912.8 914.1 912.3 914.6 911.8 915.0 911.3 915.5 910.6 916.0 910.0 916.4 909.3 916.7 908.8 917.0 908.3 917.5 907.4 917.8 906.8 918.0 906.3 918.4 905.3 918.6 904.8 918.9 903.8 919.0 903.3 919.3 902.3 919.5 901.3 919.6 900.8 919.8 899.8 920.0 898.8 920.0 898.3 920.2 897.3 920.3 896.3 920.5 895.3 920.6 894.8 920.7 893.8 920.9 892.8 921.0 892.0 921.1 891.3 921.3 890.3 921.5 889.3 921.6 888.8 921.8 887.8 922.0 886.9 922.1 886.3 922.4 885.3 922.5 884.8 922.8 883.8 923.0 883.2 923.3 882.3 923.5 881.7 923.8 880.8 924.0 880.3 924.4 879.3 924.6 878.8 925.0 878.0 925.3 877.3 925.6 876.8 926.0 876.1 926.5 875.3 926.8 874.8 927.1 874.3 927.5 873.8 928.0 873.2 928.5 872.7 929.0 872.3 929.6 871.8 930.3 871.3 931.0 871.0 931.5 870.8 932.5 870.6 933.5 870.6 934.5 870.8 935.0 871.0 935.7 871.3 936.4 871.8 937.0 872.3 937.5 872.7 938.0 873.2 938.5 873.8 938.9 874.3 939.2 874.8 939.5 875.3 940.0 876.1 940.4 876.8 940.7 877.3 941.0 878.0 941.4 878.8 941.6 879.3 942.0 880.3 942.2 880.8 942.5 881.7 942.7 882.3 943.0 883.2 943.2 883.8 943.5 884.8 943.6 885.3 943.9 886.3 944.0 886.9 944.2 887.8 944.4 888.8 944.5 889.3 944.7 890.3 944.9 891.3 945.0 892.0 945.1 892.8 945.3 893.8 945.4 894.8 945.5 895.3 945.6 896.3 945.8 897.3 945.9 898.3 946.0 898.8 946.2 899.8 946.3 900.8 946.5 901.7 946.6 902.3 946.8 903.3 947.0 904.0 947.2 904.8 947.5 905.7 947.7 906.3 948.0 907.2 948.3 907.8 948.5 908.4 948.9 909.3 949.2 909.8 949.5 910.4 950.0 911.3 950.3 911.8 950.6 912.3 951.0 912.9 951.5 913.7 951.9 914.3 952.3 914.8 952.6 915.3 953.0 915.8 953.5 916.5 954.0 917.2 954.4 917.8 954.8 918.3 955.1 918.8 955.5 919.4 956.0 920.1 956.4 920.8 956.8 921.3 957.1 921.8 957.5 922.5 958.0 923.3 958.2 923.8 958.5 924.3 959.0 925.2 959.3 925.8 959.6 926.3 960.0 927.1 960.3 927.8 960.6 928.3 961.0 929.3 961.2 929.8 961.5 930.4 961.8 931.3 962.0 931.8 962.4 932.8 962.6 933.3 962.9 934.3 963.1 934.8 963.4 935.8 963.5 936.3 963.7 937.3 964.0 938.3 964.1 938.8 964.3 939.8 964.4 940.8 964.5 941.6 964.6 942.3 964.7 943.3 964.7 944.3 964.7 945.3 964.7 946.3 964.7 947.3 964.6 948.3 964.5 948.9 964.4 949.8 964.2 950.8 964.0 951.8 963.9 952.3 963.7 953.3 963.5 954.0 963.3 954.8 963.0 955.5 962.7 956.3 962.5 956.9 962.1 957.8 961.9 958.3 961.5 959.2 961.2 959.8 960.9 960.3 960.5 961.0 960.0 961.8 959.7 962.3 959.4 962.8 959.0 963.4 958.5 964.1 958.0 964.7 957.5 965.3 957.1 965.8 956.7 966.3 956.2 966.8 955.8 967.3 955.3 967.8 954.8 968.3 954.2 968.8 953.7 969.3 953.1 969.8 952.5 970.3 952.0 970.7 951.5 971.0 951.0 971.4 950.4 971.8 949.6 972.3 949.0 972.7 948.5 973.0 948.0 973.3 947.1 973.8 946.5 974.1 946.0 974.3 945.0 974.8 944.5 975.0 943.8 975.3 943.0 975.6 942.4 975.8 941.5 976.1 940.9 976.3 940.0 976.6 939.0 976.8 938.5 976.9 937.5 977.1 936.5 977.3 936.0 977.4ZM936.5 975.8 935.5 976.0 934.5 976.1 933.5 976.2 932.5 976.2 931.5 976.3 930.5 976.3 929.5 976.2 928.5 976.2 927.5 976.1 926.5 976.0 925.5 975.8 925.0 975.7 924.0 975.5 923.0 975.3 922.5 975.2 921.5 974.9 921.0 974.7 920.0 974.4 919.5 974.2 918.5 973.8 918.0 973.6 917.3 973.3 916.5 972.9 916.0 972.7 915.2 972.3 914.5 971.9 914.0 971.6 913.5 971.3 912.7 970.8 912.0 970.3 911.5 969.9 911.0 969.6 910.5 969.2 910.0 968.8 909.4 968.3 908.9 967.8 908.3 967.3 907.8 966.8 907.3 966.3 906.8 965.8 906.4 965.3 906.0 964.8 905.5 964.2 905.0 963.6 904.5 962.9 904.1 962.3 903.7 961.8 903.4 961.3 903.0 960.7 902.5 959.8 902.2 959.3 902.0 958.8 901.5 957.8 901.3 957.3 901.0 956.6 900.7 955.8 900.5 955.3 900.2 954.3 900.0 953.8 899.7 952.8 899.5 951.8 899.4 951.3 899.2 950.3 899.1 949.3 899.0 948.8 898.9 947.8 898.8 946.8 898.8 945.8 898.8 944.8 898.8 943.8 898.9 942.8 899.0 941.9 899.1 941.3 899.2 940.3 899.4 939.3 899.5 938.8 899.7 937.8 900.0 936.8 900.1 936.3 900.5 935.3 900.6 934.8 901.0 933.8 901.2 933.3 901.5 932.6 901.8 931.8 902.1 931.3 902.5 930.4 902.8 929.8 903.1 929.3 903.5 928.5 903.9 927.8 904.2 927.3 904.5 926.8 905.0 926.0 905.5 925.3 905.8 924.8 906.2 924.3 906.6 923.8 907.0 923.2 907.5 922.6 908.0 922.0 908.5 921.4 909.0 920.9 909.5 920.3 910.0 919.8 910.5 919.3 911.0 918.8 911.5 918.3 912.0 917.8 912.5 917.3 913.0 916.8 913.5 916.4 914.0 915.9 914.5 915.4 915.0 914.9 915.5 914.5 916.0 914.0 916.5 913.5 917.0 913.0 917.5 912.4 918.0 911.9 918.5 911.3 918.9 910.8 919.3 910.3 919.6 909.8 920.0 909.2 920.5 908.3 920.8 907.8 921.0 907.3 921.5 906.3 921.7 905.8 922.0 904.8 922.2 904.3 922.5 903.3 922.6 902.8 922.8 901.8 923.0 901.0 923.1 900.3 923.3 899.3 923.5 898.4 923.6 897.8 923.8 896.8 924.0 895.8 924.1 895.3 924.3 894.3 924.5 893.3 924.6 892.8 924.8 891.8 925.0 891.1 925.2 890.3 925.5 889.3 925.7 888.8 926.0 887.8 926.2 887.3 926.5 886.4 926.8 885.8 927.0 885.3 927.5 884.3 927.8 883.8 928.1 883.3 928.5 882.6 929.0 882.0 929.5 881.4 930.0 880.9 930.5 880.5 931.0 880.2 931.9 879.8 932.5 879.6 933.5 879.6 934.1 879.8 935.0 880.2 935.5 880.5 936.0 880.9 936.5 881.4 937.0 882.0 937.5 882.6 937.9 883.3 938.2 883.8 938.5 884.3 939.0 885.3 939.2 885.8 939.5 886.4 939.8 887.3 940.0 887.8 940.3 888.8 940.5 889.3 940.8 890.3 941.0 891.1 941.2 891.8 941.4 892.8 941.5 893.3 941.7 894.3 941.9 895.3 942.0 895.8 942.2 896.8 942.4 897.8 942.5 898.6 942.6 899.3 942.8 900.3 943.0 901.2 943.1 901.8 943.3 902.8 943.5 903.5 943.7 904.3 944.0 905.3 944.1 905.8 944.5 906.8 944.7 907.3 945.0 908.1 945.3 908.8 945.5 909.3 946.0 910.2 946.3 910.8 946.6 911.3 947.0 911.9 947.5 912.7 947.9 913.3 948.3 913.8 948.7 914.3 949.1 914.8 949.5 915.4 950.0 916.0 950.5 916.6 951.0 917.2 951.5 917.8 951.9 918.3 952.3 918.8 952.7 919.3 953.1 919.8 953.5 920.4 954.0 921.0 954.5 921.7 954.9 922.3 955.3 922.8 955.6 923.3 956.0 923.9 956.5 924.6 956.9 925.3 957.2 925.8 957.5 926.3 958.0 927.1 958.4 927.8 958.6 928.3 959.0 929.0 959.4 929.8 959.6 930.3 960.0 931.1 960.3 931.8 960.5 932.3 960.9 933.3 961.1 933.8 961.4 934.8 961.6 935.3 961.9 936.3 962.0 936.8 962.3 937.8 962.5 938.7 962.6 939.3 962.8 940.3 962.9 941.3 963.0 941.8 963.1 942.8 963.2 943.8 963.2 944.8 963.2 945.8 963.2 946.8 963.1 947.8 963.0 948.8 963.0 949.3 962.8 950.3 962.6 951.3 962.5 951.8 962.3 952.8 962.0 953.8 961.8 954.3 961.5 955.3 961.3 955.8 961.0 956.6 960.7 957.3 960.5 957.8 960.0 958.8 959.8 959.3 959.5 959.8 959.0 960.7 958.6 961.3 958.3 961.8 958.0 962.3 957.5 962.9 957.0 963.6 956.5 964.3 956.1 964.8 955.6 965.3 955.2 965.8 954.7 966.3 954.2 966.8 953.7 967.3 953.2 967.8 952.6 968.3 952.0 968.8 951.5 969.2 951.0 969.6 950.5 970.0 950.0 970.3 949.3 970.8 948.5 971.3 948.0 971.6 947.5 971.9 946.8 972.3 946.0 972.7 945.5 973.0 944.8 973.3 944.0 973.6 943.5 973.9 942.5 974.2 942.0 974.4 941.0 974.8 940.5 974.9 939.5 975.2 939.0 975.3 938.0 975.5 937.0 975.7 936.5 975.8ZM933.5 974.8 932.5 974.9 931.5 974.9 930.5 974.9 929.5 974.9 928.5 974.8 928.0 974.8 927.0 974.7 926.0 974.5 925.0 974.3 924.5 974.2 923.5 974.0 922.7 973.8 922.0 973.6 921.0 973.3 920.5 973.1 919.6 972.8 919.0 972.6 918.4 972.3 917.5 971.9 917.0 971.7 916.3 971.3 915.5 970.9 915.0 970.6 914.5 970.3 913.7 969.8 913.0 969.3 912.5 969.0 912.0 968.6 911.5 968.2 911.0 967.8 910.4 967.3 909.8 966.8 909.3 966.3 908.8 965.8 908.3 965.3 907.8 964.8 907.4 964.3 906.9 963.8 906.5 963.3 906.0 962.6 905.5 961.9 905.1 961.3 904.7 960.8 904.4 960.3 904.0 959.6 903.6 958.8 903.3 958.3 903.0 957.7 902.6 956.8 902.4 956.3 902.0 955.3 901.8 954.8 901.5 953.9 901.3 953.3 901.1 952.3 900.9 951.8 900.7 950.8 900.6 949.8 900.5 949.3 900.4 948.3 900.3 947.3 900.2 946.3 900.2 945.3 900.2 944.3 900.3 943.3 900.4 942.3 900.5 941.3 900.6 940.8 900.8 939.8 901.0 938.8 901.1 938.3 901.3 937.3 901.5 936.8 901.8 935.8 902.0 935.3 902.4 934.3 902.6 933.8 903.0 932.8 903.2 932.3 903.5 931.7 903.9 930.8 904.2 930.3 904.5 929.8 905.0 928.9 905.4 928.3 905.7 927.8 906.0 927.3 906.5 926.6 907.0 925.9 907.5 925.3 907.9 924.8 908.3 924.3 908.7 923.8 909.1 923.3 909.6 922.8 910.0 922.3 910.5 921.8 911.0 921.3 911.5 920.8 912.0 920.3 912.5 919.8 913.1 919.3 913.6 918.8 914.2 918.3 914.8 917.8 915.4 917.3 916.0 916.8 916.5 916.4 917.0 916.0 917.5 915.6 918.0 915.1 918.5 914.7 919.0 914.3 919.6 913.8 920.1 913.3 920.6 912.8 921.1 912.3 921.6 911.8 922.1 911.3 922.5 910.8 923.0 910.2 923.5 909.6 924.0 908.8 924.3 908.3 924.6 907.8 925.0 907.1 925.4 906.3 925.7 905.8 926.0 905.0 926.3 904.3 926.5 903.7 926.8 902.8 927.0 902.2 927.3 901.3 927.5 900.6 927.8 899.8 928.0 899.0 928.2 898.3 928.5 897.5 928.7 896.8 929.0 896.1 929.3 895.3 929.6 894.8 930.0 894.0 930.4 893.3 930.8 892.8 931.3 892.3 932.0 891.8 932.5 891.6 933.5 891.6 934.0 891.8 934.7 892.3 935.2 892.8 935.6 893.3 936.0 894.0 936.4 894.8 936.6 895.3 937.0 896.1 937.2 896.8 937.5 897.5 937.8 898.3 938.0 899.1 938.2 899.8 938.5 900.7 938.7 901.3 939.0 902.3 939.1 902.8 939.4 903.8 939.6 904.3 940.0 905.3 940.2 905.8 940.5 906.6 940.8 907.3 941.1 907.8 941.5 908.7 941.9 909.3 942.1 909.8 942.5 910.4 943.0 911.1 943.5 911.8 943.9 912.3 944.2 912.8 944.6 913.3 945.1 913.8 945.5 914.3 946.0 914.9 946.5 915.4 947.0 916.0 947.5 916.5 948.0 917.1 948.5 917.6 949.0 918.1 949.5 918.7 950.0 919.2 950.5 919.8 951.0 920.3 951.4 920.8 951.8 921.3 952.3 921.8 952.7 922.3 953.1 922.8 953.5 923.4 954.0 924.0 954.5 924.7 954.9 925.3 955.3 925.8 955.6 926.3 956.0 926.9 956.5 927.7 956.9 928.3 957.1 928.8 957.5 929.5 957.9 930.3 958.2 930.8 958.5 931.4 958.9 932.3 959.1 932.8 959.5 933.7 959.7 934.3 960.0 935.1 960.2 935.8 960.5 936.6 960.7 937.3 960.9 938.3 961.1 938.8 961.3 939.8 961.4 940.8 961.5 941.3 961.6 942.3 961.7 943.3 961.8 944.3 961.8 945.3 961.8 946.3 961.7 947.3 961.7 948.3 961.5 949.3 961.5 949.8 961.3 950.8 961.1 951.8 960.9 952.3 960.7 953.3 960.5 953.9 960.2 954.8 960.0 955.3 959.6 956.3 959.4 956.8 959.0 957.7 958.7 958.3 958.4 958.8 958.0 959.6 957.6 960.3 957.3 960.8 957.0 961.3 956.5 962.0 956.0 962.6 955.5 963.3 955.1 963.8 954.7 964.3 954.2 964.8 953.7 965.3 953.3 965.8 952.7 966.3 952.2 966.8 951.6 967.3 951.1 967.8 950.5 968.2 950.0 968.6 949.5 969.0 949.0 969.3 948.3 969.8 947.5 970.3 947.0 970.6 946.5 970.9 945.8 971.3 945.0 971.7 944.5 971.9 943.7 972.3 943.0 972.6 942.5 972.8 941.5 973.2 941.0 973.3 940.0 973.6 939.4 973.8 938.5 974.0 937.5 974.3 937.0 974.4 936.0 974.5 935.0 974.7 934.0 974.8 933.5 974.8ZM933.0 973.8 932.0 973.9 931.0 973.9 930.0 973.9 929.0 973.8 928.5 973.8 927.5 973.7 926.5 973.5 925.5 973.4 925.0 973.3 924.0 973.1 923.0 972.8 922.5 972.7 921.5 972.4 921.0 972.2 920.0 971.8 919.5 971.6 918.7 971.3 918.0 971.0 917.5 970.7 916.6 970.3 916.0 970.0 915.5 969.7 914.9 969.3 914.1 968.8 913.5 968.4 913.0 968.0 912.5 967.7 912.0 967.3 911.4 966.8 910.8 966.3 910.3 965.8 909.8 965.3 909.3 964.8 908.8 964.3 908.3 963.8 907.9 963.3 907.5 962.8 907.0 962.2 906.5 961.5 906.0 960.8 905.7 960.3 905.4 959.8 905.0 959.2 904.5 958.3 904.2 957.8 904.0 957.3 903.6 956.3 903.3 955.8 903.0 954.9 902.8 954.3 902.5 953.4 902.3 952.8 902.1 951.8 901.9 951.3 901.7 950.3 901.6 949.3 901.5 948.7 901.4 947.8 901.3 946.8 901.3 945.8 901.3 944.8 901.3 943.8 901.4 942.8 901.5 942.1 901.6 941.3 901.8 940.3 902.0 939.3 902.1 938.8 902.3 937.8 902.5 937.3 902.8 936.3 903.0 935.7 903.3 934.8 903.5 934.3 904.0 933.3 904.2 932.8 904.5 932.2 905.0 931.3 905.2 930.8 905.5 930.3 906.0 929.5 906.4 928.8 906.8 928.3 907.1 927.8 907.5 927.2 908.0 926.6 908.5 925.9 909.0 925.3 909.4 924.8 909.9 924.3 910.3 923.8 910.8 923.3 911.3 922.8 911.8 922.3 912.3 921.8 912.8 921.3 913.4 920.8 914.0 920.3 914.5 919.9 915.0 919.4 915.5 919.0 916.0 918.6 916.5 918.2 917.1 917.8 917.7 917.3 918.4 916.8 919.0 916.4 919.5 916.0 920.0 915.6 920.5 915.3 921.1 914.8 921.8 914.3 922.4 913.8 923.0 913.3 923.5 912.9 924.0 912.5 924.5 912.1 925.0 911.7 925.5 911.3 926.0 910.8 926.5 910.3 927.1 909.8 927.6 909.3 928.1 908.8 928.6 908.3 929.1 907.8 929.6 907.3 930.2 906.8 930.8 906.3 931.5 905.9 932.0 905.6 933.0 905.5 934.0 905.7 934.5 905.9 935.0 906.3 935.6 906.8 936.1 907.3 936.6 907.8 937.1 908.3 937.5 908.8 938.0 909.3 938.5 909.9 939.0 910.4 939.5 910.9 940.0 911.5 940.5 912.0 941.0 912.5 941.5 913.0 942.0 913.5 942.5 914.0 943.0 914.5 943.5 915.0 944.0 915.4 944.5 915.9 945.0 916.4 945.5 916.9 946.0 917.3 946.5 917.8 947.0 918.3 947.5 918.8 948.0 919.3 948.5 919.8 949.0 920.3 949.5 920.8 950.0 921.3 950.5 921.8 951.0 922.4 951.5 923.0 952.0 923.6 952.5 924.2 953.0 924.8 953.4 925.3 953.8 925.8 954.1 926.3 954.5 926.8 955.0 927.6 955.5 928.3 955.8 928.8 956.1 929.3 956.5 930.0 956.9 930.8 957.2 931.3 957.5 932.0 957.9 932.8 958.1 933.3 958.5 934.2 958.7 934.8 959.0 935.6 959.2 936.3 959.5 937.1 959.7 937.8 959.9 938.8 960.1 939.3 960.3 940.3 960.4 941.3 960.5 942.0 960.6 942.8 960.7 943.8 960.7 944.8 960.7 945.8 960.7 946.8 960.6 947.8 960.5 948.8 960.4 949.3 960.3 950.3 960.1 951.3 960.0 951.8 959.7 952.8 959.5 953.5 959.2 954.3 959.0 954.9 958.7 955.8 958.5 956.3 958.0 957.3 957.8 957.8 957.5 958.3 957.0 959.2 956.6 959.8 956.3 960.3 956.0 960.8 955.5 961.5 955.0 962.2 954.5 962.8 954.1 963.3 953.7 963.8 953.2 964.3 952.8 964.8 952.3 965.3 951.7 965.8 951.2 966.3 950.6 966.8 950.0 967.3 949.5 967.7 949.0 968.1 948.5 968.4 947.9 968.8 947.2 969.3 946.5 969.7 946.0 970.0 945.4 970.3 944.5 970.8 944.0 971.0 943.4 971.3 942.5 971.7 942.0 971.9 941.0 972.2 940.5 972.4 939.5 972.7 939.0 972.8 938.0 973.1 937.0 973.3 936.5 973.4 935.5 973.6 934.5 973.7 933.5 973.8 933.0 973.8Z" fill="none" stroke="#111" stroke-width="1.1"/>
<ellipse cx="930" cy="946" rx="2.2" ry="2.5" fill="#fff"/>
<path d="M1185.6 976.3 1184.6 976.4 1183.6 976.4 1182.6 976.3 1182.1 976.3 1181.1 976.2 1180.1 976.1 1179.1 975.9 1178.6 975.8 1177.6 975.6 1176.6 975.3 1176.1 975.1 1175.1 974.8 1174.6 974.6 1173.8 974.3 1173.1 974.0 1172.6 973.8 1171.7 973.3 1171.1 973.0 1170.6 972.7 1169.9 972.3 1169.1 971.8 1168.6 971.4 1168.1 971.1 1167.6 970.7 1167.1 970.3 1166.5 969.8 1165.9 969.3 1165.4 968.8 1164.9 968.3 1164.4 967.8 1163.9 967.3 1163.5 966.8 1163.1 966.3 1162.6 965.7 1162.1 965.1 1161.6 964.4 1161.2 963.8 1160.9 963.3 1160.6 962.8 1160.1 962.0 1159.7 961.3 1159.5 960.8 1159.1 960.1 1158.7 959.3 1158.5 958.8 1158.1 957.8 1158.0 957.3 1157.6 956.3 1157.5 955.8 1157.2 954.8 1157.0 954.3 1156.8 953.3 1156.6 952.3 1156.5 951.8 1156.4 950.8 1156.3 949.8 1156.2 948.8 1156.2 947.8 1156.1 946.8 1156.2 945.8 1156.2 944.8 1156.3 943.8 1156.4 942.8 1156.5 941.8 1156.6 941.3 1156.8 940.3 1157.0 939.3 1157.2 938.8 1157.4 937.8 1157.6 937.3 1157.9 936.3 1158.1 935.8 1158.5 934.8 1158.7 934.3 1159.1 933.4 1159.4 932.8 1159.6 932.3 1160.1 931.4 1160.4 930.8 1160.7 930.3 1161.1 929.7 1161.6 928.9 1162.0 928.3 1162.3 927.8 1162.7 927.3 1163.1 926.8 1163.6 926.1 1164.1 925.5 1164.6 924.9 1165.1 924.3 1165.6 923.8 1166.1 923.3 1166.6 922.8 1167.1 922.3 1167.6 921.8 1168.1 921.4 1168.6 921.0 1169.1 920.5 1169.6 920.2 1170.1 919.8 1170.8 919.3 1171.5 918.8 1172.1 918.4 1172.6 918.1 1173.1 917.8 1174.0 917.3 1174.6 916.9 1175.1 916.7 1175.9 916.3 1176.6 916.0 1177.1 915.7 1178.1 915.3 1178.6 915.1 1179.6 914.8 1180.1 914.7 1181.1 914.4 1182.0 914.3 1182.6 914.2 1183.6 914.2 1184.6 914.3 1185.1 914.3 1186.1 914.5 1187.1 914.8 1187.6 914.9 1188.6 915.2 1189.1 915.4 1190.1 915.8 1190.6 916.0 1191.3 916.3 1192.1 916.7 1192.6 916.9 1193.4 917.3 1194.1 917.7 1194.6 918.0 1195.2 918.3 1196.0 918.8 1196.6 919.2 1197.1 919.5 1197.6 919.8 1198.2 920.3 1198.9 920.8 1199.5 921.3 1200.1 921.8 1200.6 922.2 1201.1 922.7 1201.6 923.2 1202.1 923.7 1202.6 924.2 1203.1 924.7 1203.6 925.3 1204.0 925.8 1204.4 926.3 1204.8 926.8 1205.2 927.3 1205.6 927.8 1206.1 928.5 1206.6 929.3 1206.9 929.8 1207.2 930.3 1207.6 930.9 1208.1 931.8 1208.3 932.3 1208.6 932.8 1209.1 933.8 1209.3 934.3 1209.6 935.1 1209.9 935.8 1210.1 936.4 1210.4 937.3 1210.6 938.0 1210.8 938.8 1211.1 939.8 1211.2 940.3 1211.4 941.3 1211.5 942.3 1211.6 942.8 1211.7 943.8 1211.8 944.8 1211.9 945.8 1211.9 946.8 1211.9 947.8 1211.8 948.8 1211.7 949.8 1211.6 950.8 1211.5 951.3 1211.4 952.3 1211.2 953.3 1211.1 953.8 1210.8 954.8 1210.6 955.6 1210.4 956.3 1210.1 957.1 1209.9 957.8 1209.6 958.5 1209.3 959.3 1209.0 959.8 1208.6 960.7 1208.3 961.3 1208.0 961.8 1207.6 962.5 1207.1 963.3 1206.8 963.8 1206.5 964.3 1206.1 964.8 1205.6 965.5 1205.1 966.1 1204.6 966.7 1204.1 967.3 1203.6 967.8 1203.1 968.3 1202.6 968.8 1202.1 969.3 1201.6 969.7 1201.1 970.1 1200.6 970.5 1200.1 970.9 1199.6 971.3 1198.9 971.8 1198.1 972.3 1197.6 972.6 1197.1 972.9 1196.3 973.3 1195.6 973.7 1195.1 973.9 1194.2 974.3 1193.6 974.6 1192.9 974.8 1192.1 975.1 1191.4 975.3 1190.6 975.5 1189.6 975.8 1189.1 975.9 1188.1 976.0 1187.1 976.2 1186.1 976.3 1185.6 976.3Z" fill="#111" stroke="#111" stroke-width="1"/>
<path d="M1186.6 983.3 1185.6 983.4 1184.6 983.4 1183.6 983.4 1182.6 983.4 1181.6 983.3 1181.1 983.3 1180.1 983.2 1179.1 983.1 1178.1 982.9 1177.6 982.8 1176.6 982.6 1175.6 982.3 1175.1 982.2 1174.1 981.9 1173.6 981.7 1172.6 981.4 1172.1 981.2 1171.2 980.8 1170.6 980.6 1170.0 980.3 1169.1 979.8 1168.6 979.6 1168.1 979.3 1167.2 978.8 1166.6 978.4 1166.1 978.1 1165.6 977.8 1164.9 977.3 1164.2 976.8 1163.6 976.4 1163.1 976.0 1162.6 975.5 1162.1 975.1 1161.6 974.7 1161.1 974.2 1160.6 973.7 1160.1 973.2 1159.6 972.7 1159.1 972.2 1158.6 971.6 1158.1 971.0 1157.6 970.4 1157.1 969.8 1156.8 969.3 1156.4 968.8 1156.0 968.3 1155.6 967.6 1155.1 966.8 1154.8 966.3 1154.5 965.8 1154.1 965.1 1153.7 964.3 1153.4 963.8 1153.1 963.1 1152.7 962.3 1152.5 961.8 1152.1 960.8 1151.9 960.3 1151.6 959.5 1151.4 958.8 1151.1 957.9 1150.9 957.3 1150.7 956.3 1150.5 955.8 1150.3 954.8 1150.1 953.8 1150.0 953.3 1149.9 952.3 1149.7 951.3 1149.6 950.3 1149.6 949.8 1149.5 948.8 1149.5 947.8 1149.5 946.8 1149.5 945.8 1149.5 944.8 1149.6 943.8 1149.6 943.3 1149.7 942.3 1149.9 941.3 1150.0 940.3 1150.1 939.8 1150.3 938.8 1150.5 937.8 1150.6 937.3 1150.9 936.3 1151.1 935.6 1151.3 934.8 1151.6 934.0 1151.8 933.3 1152.1 932.5 1152.4 931.8 1152.6 931.2 1153.0 930.3 1153.2 929.8 1153.6 928.8 1153.8 928.3 1154.1 927.7 1154.5 926.8 1154.8 926.3 1155.1 925.7 1155.5 924.8 1155.8 924.3 1156.1 923.7 1156.6 922.8 1156.9 922.3 1157.2 921.8 1157.6 921.1 1158.1 920.3 1158.4 919.8 1158.8 919.3 1159.1 918.8 1159.6 918.1 1160.1 917.5 1160.6 916.9 1161.1 916.3 1161.6 915.8 1162.1 915.3 1162.6 914.8 1163.1 914.3 1163.6 913.9 1164.1 913.4 1164.6 913.0 1165.1 912.6 1165.6 912.2 1166.1 911.7 1166.6 911.3 1167.2 910.8 1167.7 910.3 1168.2 909.8 1168.7 909.3 1169.1 908.8 1169.6 908.2 1170.1 907.4 1170.4 906.8 1170.6 906.3 1171.0 905.3 1171.2 904.8 1171.4 903.8 1171.6 903.0 1171.7 902.3 1171.9 901.3 1172.1 900.3 1172.2 899.8 1172.4 898.8 1172.6 897.8 1172.7 897.3 1172.9 896.3 1173.1 895.7 1173.3 894.8 1173.6 893.9 1173.8 893.3 1174.0 892.3 1174.1 891.8 1174.3 890.8 1174.3 889.8 1174.2 888.8 1174.1 888.2 1173.9 887.3 1173.6 886.4 1173.4 885.8 1173.1 884.8 1173.0 884.3 1172.7 883.3 1172.6 882.7 1172.4 881.8 1172.3 880.8 1172.3 879.8 1172.3 878.8 1172.4 877.8 1172.6 876.9 1172.8 876.3 1173.1 875.3 1173.3 874.8 1173.6 874.2 1174.1 873.4 1174.5 872.8 1174.9 872.3 1175.3 871.8 1175.9 871.3 1176.4 870.8 1177.1 870.3 1177.6 870.0 1178.1 869.7 1179.0 869.3 1179.6 869.1 1180.6 868.8 1181.1 868.7 1182.1 868.5 1183.1 868.5 1184.1 868.6 1185.1 868.7 1185.6 868.8 1186.6 869.1 1187.1 869.3 1188.0 869.8 1188.6 870.1 1189.1 870.5 1189.6 870.8 1190.1 871.3 1190.7 871.8 1191.1 872.3 1191.6 872.9 1192.1 873.7 1192.4 874.3 1192.7 874.8 1193.1 875.8 1193.2 876.3 1193.5 877.3 1193.6 878.0 1193.7 878.8 1193.7 879.8 1193.7 880.8 1193.6 881.5 1193.5 882.3 1193.3 883.3 1193.1 884.0 1192.9 884.8 1192.6 885.7 1192.4 886.3 1192.1 887.3 1192.0 887.8 1191.8 888.8 1191.7 889.8 1191.7 890.8 1191.9 891.8 1192.1 892.8 1192.2 893.3 1192.5 894.3 1192.7 894.8 1192.9 895.8 1193.1 896.4 1193.3 897.3 1193.5 898.3 1193.6 898.8 1193.8 899.8 1194.0 900.8 1194.1 901.3 1194.3 902.3 1194.5 903.3 1194.6 903.8 1194.9 904.8 1195.1 905.4 1195.5 906.3 1195.8 906.8 1196.1 907.4 1196.6 908.1 1197.1 908.6 1197.6 909.2 1198.1 909.6 1198.6 910.1 1199.1 910.5 1199.6 910.9 1200.1 911.3 1200.8 911.8 1201.4 912.3 1202.1 912.8 1202.6 913.2 1203.1 913.6 1203.6 914.0 1204.1 914.4 1204.6 914.9 1205.1 915.3 1205.6 915.8 1206.1 916.3 1206.6 916.8 1207.1 917.4 1207.6 918.0 1208.1 918.6 1208.6 919.2 1209.0 919.8 1209.4 920.3 1209.8 920.8 1210.1 921.3 1210.6 922.1 1211.1 922.8 1211.4 923.3 1211.7 923.8 1212.1 924.6 1212.5 925.3 1212.8 925.8 1213.1 926.4 1213.6 927.3 1213.8 927.8 1214.1 928.4 1214.5 929.3 1214.7 929.8 1215.1 930.6 1215.4 931.3 1215.6 931.8 1216.0 932.8 1216.1 933.3 1216.5 934.3 1216.7 934.8 1217.0 935.8 1217.1 936.3 1217.4 937.3 1217.6 938.3 1217.7 938.8 1217.9 939.8 1218.1 940.8 1218.1 941.3 1218.3 942.3 1218.4 943.3 1218.5 944.3 1218.5 945.3 1218.5 946.3 1218.5 947.3 1218.5 948.3 1218.5 949.3 1218.4 950.3 1218.3 951.3 1218.1 952.3 1218.1 952.8 1217.9 953.8 1217.7 954.8 1217.6 955.3 1217.4 956.3 1217.1 957.2 1216.9 957.8 1216.6 958.8 1216.5 959.3 1216.1 960.3 1215.9 960.8 1215.6 961.6 1215.3 962.3 1215.1 962.8 1214.6 963.8 1214.3 964.3 1214.1 964.8 1213.6 965.7 1213.2 966.3 1212.9 966.8 1212.6 967.3 1212.1 968.1 1211.6 968.8 1211.2 969.3 1210.9 969.8 1210.5 970.3 1210.1 970.8 1209.6 971.4 1209.1 972.0 1208.6 972.5 1208.1 973.0 1207.6 973.5 1207.1 974.0 1206.6 974.5 1206.1 974.9 1205.6 975.4 1205.1 975.8 1204.5 976.3 1203.8 976.8 1203.1 977.3 1202.6 977.7 1202.1 978.0 1201.6 978.3 1200.8 978.8 1200.1 979.2 1199.6 979.5 1199.0 979.8 1198.1 980.2 1197.6 980.5 1196.8 980.8 1196.1 981.1 1195.6 981.3 1194.6 981.7 1194.1 981.8 1193.1 982.1 1192.5 982.3 1191.6 982.5 1190.6 982.8 1190.1 982.9 1189.1 983.0 1188.1 983.2 1187.1 983.3 1186.6 983.3ZM1127.6 886.3 1126.6 886.3 1126.1 886.2 1125.1 886.0 1124.4 885.8 1123.6 885.5 1123.1 885.2 1122.5 884.8 1122.0 884.3 1121.5 883.8 1121.1 883.2 1120.7 882.3 1120.6 881.8 1120.5 880.8 1120.6 880.2 1120.9 879.3 1121.1 878.8 1121.6 878.1 1122.1 877.6 1122.6 877.2 1123.1 876.8 1124.1 876.3 1124.6 876.1 1125.6 875.8 1126.1 875.8 1127.1 875.7 1128.1 875.7 1128.8 875.8 1129.6 876.0 1130.5 876.3 1131.1 876.6 1131.6 876.9 1132.2 877.3 1132.7 877.8 1133.2 878.3 1133.6 879.0 1133.9 879.8 1134.1 880.8 1134.0 881.8 1133.7 882.8 1133.4 883.3 1133.1 883.8 1132.6 884.3 1132.1 884.8 1131.3 885.3 1130.6 885.7 1130.1 885.9 1129.1 886.1 1128.1 886.3 1127.6 886.3ZM1188.1 981.4 1187.1 981.5 1186.1 981.6 1185.1 981.6 1184.1 981.6 1183.1 981.6 1182.1 981.6 1181.1 981.5 1180.1 981.4 1179.5 981.3 1178.6 981.2 1177.6 981.0 1176.9 980.8 1176.1 980.6 1175.1 980.3 1174.6 980.2 1173.6 979.8 1173.1 979.7 1172.2 979.3 1171.6 979.1 1171.0 978.8 1170.1 978.4 1169.6 978.1 1169.0 977.8 1168.1 977.3 1167.6 977.0 1167.1 976.7 1166.5 976.3 1165.8 975.8 1165.1 975.3 1164.6 974.9 1164.1 974.5 1163.6 974.1 1163.1 973.7 1162.6 973.2 1162.1 972.8 1161.6 972.3 1161.1 971.8 1160.6 971.2 1160.1 970.7 1159.6 970.1 1159.1 969.5 1158.6 968.9 1158.2 968.3 1157.8 967.8 1157.5 967.3 1157.1 966.8 1156.6 966.0 1156.2 965.3 1155.9 964.8 1155.6 964.3 1155.1 963.3 1154.8 962.8 1154.6 962.3 1154.1 961.3 1153.9 960.8 1153.6 960.0 1153.3 959.3 1153.1 958.6 1152.8 957.8 1152.6 957.0 1152.4 956.3 1152.2 955.3 1152.0 954.8 1151.8 953.8 1151.7 952.8 1151.6 952.3 1151.4 951.3 1151.3 950.3 1151.2 949.3 1151.2 948.3 1151.2 947.3 1151.2 946.3 1151.2 945.3 1151.2 944.3 1151.3 943.3 1151.4 942.3 1151.6 941.3 1151.7 940.8 1151.8 939.8 1152.0 938.8 1152.1 938.3 1152.4 937.3 1152.6 936.6 1152.8 935.8 1153.1 934.9 1153.3 934.3 1153.6 933.5 1153.9 932.8 1154.1 932.2 1154.5 931.3 1154.7 930.8 1155.1 929.9 1155.4 929.3 1155.6 928.8 1156.1 927.9 1156.4 927.3 1156.7 926.8 1157.1 926.0 1157.5 925.3 1157.8 924.8 1158.1 924.3 1158.6 923.5 1159.0 922.8 1159.4 922.3 1159.7 921.8 1160.1 921.3 1160.6 920.6 1161.1 919.9 1161.6 919.3 1162.0 918.8 1162.5 918.3 1162.9 917.8 1163.4 917.3 1163.9 916.8 1164.4 916.3 1165.0 915.8 1165.6 915.3 1166.1 914.8 1166.6 914.4 1167.1 914.0 1167.6 913.6 1168.1 913.2 1168.6 912.8 1169.2 912.3 1169.8 911.8 1170.4 911.3 1170.9 910.8 1171.4 910.3 1171.8 909.8 1172.2 909.3 1172.6 908.8 1173.1 908.0 1173.5 907.3 1173.7 906.8 1174.1 905.8 1174.2 905.3 1174.5 904.3 1174.6 903.6 1174.8 902.8 1174.9 901.8 1175.1 901.0 1175.2 900.3 1175.5 899.3 1175.6 898.8 1175.9 897.8 1176.1 897.1 1176.4 896.3 1176.6 895.7 1177.0 894.8 1177.2 894.3 1177.6 893.3 1177.7 892.8 1178.0 891.8 1178.0 890.8 1177.8 889.8 1177.6 889.1 1177.2 888.3 1177.0 887.8 1176.6 887.1 1176.2 886.3 1175.9 885.8 1175.6 885.2 1175.2 884.3 1175.0 883.8 1174.7 882.8 1174.5 882.3 1174.3 881.3 1174.2 880.3 1174.2 879.3 1174.2 878.3 1174.4 877.3 1174.6 876.7 1174.9 875.8 1175.1 875.3 1175.6 874.5 1176.1 873.8 1176.5 873.3 1177.0 872.8 1177.6 872.3 1178.1 871.9 1178.6 871.6 1179.1 871.3 1180.1 870.9 1180.6 870.7 1181.6 870.5 1182.6 870.4 1183.6 870.4 1184.6 870.5 1185.6 870.8 1186.1 871.0 1186.9 871.3 1187.6 871.7 1188.1 872.0 1188.6 872.4 1189.1 872.9 1189.6 873.4 1190.1 874.0 1190.6 874.8 1190.9 875.3 1191.1 875.8 1191.4 876.8 1191.6 877.4 1191.8 878.3 1191.8 879.3 1191.8 880.3 1191.7 881.3 1191.6 881.8 1191.3 882.8 1191.1 883.5 1190.8 884.3 1190.6 884.8 1190.1 885.8 1189.8 886.3 1189.6 886.8 1189.1 887.7 1188.8 888.3 1188.5 888.8 1188.2 889.8 1188.0 890.3 1188.0 891.3 1188.1 892.2 1188.3 892.8 1188.6 893.7 1188.8 894.3 1189.1 895.0 1189.4 895.8 1189.6 896.3 1190.0 897.3 1190.1 897.8 1190.4 898.8 1190.6 899.6 1190.8 900.3 1191.0 901.3 1191.1 902.0 1191.3 902.8 1191.5 903.8 1191.6 904.4 1191.9 905.3 1192.1 906.0 1192.4 906.8 1192.7 907.3 1193.1 908.0 1193.6 908.7 1194.1 909.3 1194.6 909.8 1195.1 910.3 1195.6 910.7 1196.1 911.1 1196.6 911.5 1197.1 911.9 1197.6 912.3 1198.3 912.8 1199.0 913.3 1199.6 913.7 1200.1 914.1 1200.6 914.5 1201.1 914.9 1201.7 915.3 1202.3 915.8 1202.9 916.3 1203.4 916.8 1204.0 917.3 1204.5 917.8 1205.0 918.3 1205.5 918.8 1205.9 919.3 1206.4 919.8 1206.8 920.3 1207.2 920.8 1207.6 921.3 1208.1 922.0 1208.6 922.7 1209.0 923.3 1209.4 923.8 1209.7 924.3 1210.1 924.9 1210.6 925.7 1210.9 926.3 1211.2 926.8 1211.6 927.5 1212.0 928.3 1212.3 928.8 1212.6 929.4 1213.0 930.3 1213.3 930.8 1213.6 931.5 1213.9 932.3 1214.1 932.8 1214.5 933.8 1214.7 934.3 1215.0 935.3 1215.2 935.8 1215.5 936.8 1215.6 937.3 1215.9 938.3 1216.1 939.3 1216.2 939.8 1216.4 940.8 1216.5 941.8 1216.6 942.6 1216.7 943.3 1216.8 944.3 1216.8 945.3 1216.8 946.3 1216.8 947.3 1216.8 948.3 1216.8 949.3 1216.7 950.3 1216.6 950.9 1216.5 951.8 1216.4 952.8 1216.2 953.8 1216.1 954.3 1215.8 955.3 1215.6 956.3 1215.5 956.8 1215.2 957.8 1215.0 958.3 1214.6 959.3 1214.5 959.8 1214.1 960.7 1213.9 961.3 1213.6 961.9 1213.2 962.8 1212.9 963.3 1212.6 963.9 1212.1 964.8 1211.8 965.3 1211.5 965.8 1211.1 966.5 1210.6 967.2 1210.2 967.8 1209.8 968.3 1209.5 968.8 1209.1 969.3 1208.6 969.9 1208.1 970.5 1207.6 971.0 1207.1 971.6 1206.6 972.1 1206.1 972.6 1205.6 973.0 1205.1 973.5 1204.6 973.9 1204.1 974.3 1203.5 974.8 1202.9 975.3 1202.2 975.8 1201.6 976.2 1201.1 976.5 1200.6 976.9 1199.9 977.3 1199.1 977.7 1198.6 978.0 1198.0 978.3 1197.1 978.7 1196.6 979.0 1195.8 979.3 1195.1 979.6 1194.5 979.8 1193.6 980.1 1193.0 980.3 1192.1 980.6 1191.1 980.8 1190.6 980.9 1189.6 981.1 1188.6 981.3 1188.1 981.4ZM1183.1 888.3 1182.6 888.3 1181.6 888.1 1181.0 887.8 1180.2 887.3 1179.6 886.8 1179.1 886.4 1178.6 885.9 1178.1 885.3 1177.7 884.8 1177.4 884.3 1177.1 883.8 1176.6 882.8 1176.4 882.3 1176.1 881.3 1176.0 880.8 1175.9 879.8 1175.9 878.8 1176.1 877.8 1176.2 877.3 1176.6 876.3 1176.8 875.8 1177.1 875.3 1177.6 874.7 1178.1 874.1 1178.6 873.7 1179.1 873.3 1180.0 872.8 1180.6 872.5 1181.4 872.3 1182.1 872.2 1183.1 872.1 1184.1 872.2 1184.6 872.3 1185.6 872.6 1186.1 872.8 1186.9 873.3 1187.6 873.8 1188.1 874.3 1188.5 874.8 1188.9 875.3 1189.2 875.8 1189.6 876.7 1189.8 877.3 1190.0 878.3 1190.1 879.3 1190.1 880.3 1189.9 881.3 1189.6 882.3 1189.4 882.8 1189.1 883.5 1188.6 884.3 1188.3 884.8 1187.9 885.3 1187.5 885.8 1187.0 886.3 1186.4 886.8 1185.8 887.3 1185.1 887.7 1184.6 888.0 1183.6 888.3 1183.1 888.3ZM1188.1 979.9 1187.1 980.0 1186.1 980.1 1185.1 980.1 1184.1 980.2 1183.1 980.1 1182.1 980.1 1181.1 980.0 1180.1 979.9 1179.5 979.8 1178.6 979.7 1177.6 979.5 1177.0 979.3 1176.1 979.1 1175.2 978.8 1174.6 978.6 1173.7 978.3 1173.1 978.1 1172.4 977.8 1171.6 977.4 1171.1 977.2 1170.3 976.8 1169.6 976.4 1169.1 976.2 1168.5 975.8 1167.7 975.3 1167.1 974.9 1166.6 974.6 1166.1 974.2 1165.5 973.8 1164.9 973.3 1164.3 972.8 1163.7 972.3 1163.2 971.8 1162.7 971.3 1162.2 970.8 1161.7 970.3 1161.2 969.8 1160.8 969.3 1160.4 968.8 1160.0 968.3 1159.6 967.8 1159.1 967.2 1158.6 966.5 1158.2 965.8 1157.8 965.3 1157.5 964.8 1157.1 964.1 1156.7 963.3 1156.4 962.8 1156.1 962.2 1155.7 961.3 1155.5 960.8 1155.1 959.9 1154.8 959.3 1154.6 958.6 1154.3 957.8 1154.1 957.1 1153.9 956.3 1153.6 955.3 1153.5 954.8 1153.3 953.8 1153.1 952.9 1153.0 952.3 1152.8 951.3 1152.7 950.3 1152.6 949.3 1152.6 948.4 1152.6 947.8 1152.6 946.8 1152.6 945.8 1152.6 945.2 1152.6 944.3 1152.7 943.3 1152.8 942.3 1153.0 941.3 1153.1 940.7 1153.3 939.8 1153.5 938.8 1153.6 938.3 1153.8 937.3 1154.1 936.4 1154.3 935.8 1154.6 934.9 1154.8 934.3 1155.1 933.5 1155.4 932.8 1155.6 932.3 1156.0 931.3 1156.3 930.8 1156.6 930.1 1157.0 929.3 1157.3 928.8 1157.6 928.2 1158.1 927.3 1158.4 926.8 1158.7 926.3 1159.1 925.7 1159.6 924.9 1160.0 924.3 1160.3 923.8 1160.7 923.3 1161.1 922.8 1161.6 922.1 1162.1 921.5 1162.6 920.9 1163.1 920.3 1163.5 919.8 1164.0 919.3 1164.5 918.8 1165.0 918.3 1165.5 917.8 1166.1 917.3 1166.6 916.9 1167.1 916.4 1167.6 916.0 1168.1 915.6 1168.6 915.2 1169.2 914.8 1169.8 914.3 1170.5 913.8 1171.1 913.3 1171.6 913.0 1172.1 912.6 1172.6 912.2 1173.1 911.8 1173.6 911.3 1174.2 910.8 1174.7 910.3 1175.1 909.8 1175.6 909.2 1176.1 908.5 1176.5 907.8 1176.8 907.3 1177.1 906.6 1177.4 905.8 1177.6 905.2 1177.9 904.3 1178.1 903.3 1178.2 902.8 1178.5 901.8 1178.6 901.3 1179.0 900.3 1179.2 899.8 1179.6 898.9 1179.9 898.3 1180.3 897.8 1180.7 897.3 1181.3 896.8 1182.1 896.3 1182.6 896.2 1183.6 896.2 1184.1 896.4 1184.7 896.8 1185.3 897.3 1185.7 897.8 1186.1 898.4 1186.6 899.3 1186.8 899.8 1187.1 900.5 1187.4 901.3 1187.6 902.1 1187.8 902.8 1188.0 903.8 1188.2 904.3 1188.5 905.3 1188.7 905.8 1189.1 906.8 1189.3 907.3 1189.6 907.8 1190.1 908.5 1190.6 909.1 1191.1 909.7 1191.6 910.2 1192.1 910.6 1192.6 911.0 1193.1 911.4 1193.6 911.8 1194.3 912.3 1195.0 912.8 1195.6 913.2 1196.1 913.5 1196.6 913.9 1197.2 914.3 1198.0 914.8 1198.6 915.2 1199.1 915.6 1199.6 915.9 1200.1 916.3 1200.7 916.8 1201.3 917.3 1201.9 917.8 1202.5 918.3 1203.0 918.8 1203.6 919.3 1204.1 919.8 1204.5 920.3 1205.0 920.8 1205.4 921.3 1205.9 921.8 1206.3 922.3 1206.7 922.8 1207.1 923.3 1207.6 924.0 1208.1 924.7 1208.5 925.3 1208.8 925.8 1209.2 926.3 1209.6 927.0 1210.1 927.8 1210.4 928.3 1210.6 928.8 1211.1 929.6 1211.4 930.3 1211.7 930.8 1212.1 931.7 1212.4 932.3 1212.6 932.8 1213.0 933.8 1213.2 934.3 1213.5 935.3 1213.7 935.8 1214.0 936.8 1214.1 937.3 1214.4 938.3 1214.6 939.1 1214.7 939.8 1214.9 940.8 1215.1 941.8 1215.2 942.3 1215.3 943.3 1215.4 944.3 1215.4 945.3 1215.4 946.3 1215.4 947.3 1215.4 948.3 1215.4 949.3 1215.3 950.3 1215.2 951.3 1215.1 951.8 1214.9 952.8 1214.7 953.8 1214.6 954.4 1214.4 955.3 1214.1 956.3 1214.0 956.8 1213.7 957.8 1213.5 958.3 1213.1 959.3 1213.0 959.8 1212.6 960.6 1212.3 961.3 1212.1 961.8 1211.6 962.8 1211.3 963.3 1211.0 963.8 1210.6 964.6 1210.2 965.3 1209.8 965.8 1209.5 966.3 1209.1 966.9 1208.6 967.6 1208.1 968.2 1207.6 968.8 1207.2 969.3 1206.8 969.8 1206.3 970.3 1205.8 970.8 1205.3 971.3 1204.8 971.8 1204.3 972.3 1203.7 972.8 1203.1 973.3 1202.6 973.7 1202.1 974.1 1201.6 974.4 1201.1 974.8 1200.3 975.3 1199.6 975.8 1199.1 976.1 1198.6 976.3 1197.7 976.8 1197.1 977.1 1196.6 977.4 1195.6 977.8 1195.1 978.0 1194.3 978.3 1193.6 978.6 1192.8 978.8 1192.1 979.0 1191.1 979.3 1190.6 979.4 1189.6 979.6 1188.6 979.8 1188.1 979.9ZM1183.6 885.3 1182.6 885.3 1182.1 885.3 1181.1 884.9 1180.6 884.7 1180.1 884.3 1179.5 883.8 1179.1 883.3 1178.6 882.6 1178.2 881.8 1178.0 881.3 1177.8 880.3 1177.7 879.3 1177.8 878.3 1178.1 877.3 1178.3 876.8 1178.6 876.3 1179.1 875.6 1179.6 875.2 1180.1 874.8 1181.0 874.3 1181.6 874.1 1182.6 873.9 1183.6 873.9 1184.6 874.1 1185.1 874.3 1185.9 874.8 1186.6 875.3 1187.0 875.8 1187.4 876.3 1187.7 876.8 1188.1 877.8 1188.2 878.3 1188.3 879.3 1188.2 880.3 1188.1 881.0 1187.8 881.8 1187.6 882.3 1187.1 883.1 1186.6 883.7 1186.1 884.1 1185.6 884.5 1185.1 884.8 1184.1 885.2 1183.6 885.3ZM1185.6 978.8 1184.6 978.8 1183.6 978.8 1182.6 978.8 1182.1 978.8 1181.1 978.7 1180.1 978.6 1179.1 978.4 1178.5 978.3 1177.6 978.1 1176.6 977.9 1176.1 977.7 1175.1 977.4 1174.6 977.3 1173.6 976.9 1173.1 976.7 1172.2 976.3 1171.6 976.0 1171.1 975.8 1170.2 975.3 1169.6 975.0 1169.1 974.7 1168.5 974.3 1167.7 973.8 1167.1 973.4 1166.6 973.0 1166.1 972.6 1165.6 972.2 1165.1 971.8 1164.5 971.3 1164.0 970.8 1163.5 970.3 1163.0 969.8 1162.5 969.3 1162.0 968.8 1161.6 968.3 1161.1 967.7 1160.6 967.1 1160.1 966.4 1159.7 965.8 1159.3 965.3 1159.0 964.8 1158.6 964.2 1158.1 963.3 1157.8 962.8 1157.6 962.3 1157.1 961.4 1156.8 960.8 1156.6 960.3 1156.2 959.3 1156.0 958.8 1155.6 957.8 1155.5 957.3 1155.1 956.3 1155.0 955.8 1154.7 954.8 1154.6 954.2 1154.4 953.3 1154.2 952.3 1154.1 951.4 1154.0 950.8 1153.9 949.8 1153.8 948.8 1153.8 947.8 1153.8 946.8 1153.8 945.8 1153.8 944.8 1153.9 943.8 1154.0 942.8 1154.1 942.2 1154.2 941.3 1154.4 940.3 1154.6 939.4 1154.7 938.8 1155.0 937.8 1155.1 937.3 1155.4 936.3 1155.6 935.8 1156.0 934.8 1156.1 934.3 1156.5 933.3 1156.8 932.8 1157.1 932.0 1157.4 931.3 1157.7 930.8 1158.1 930.0 1158.5 929.3 1158.8 928.8 1159.1 928.2 1159.6 927.4 1160.0 926.8 1160.3 926.3 1160.6 925.8 1161.1 925.1 1161.6 924.5 1162.1 923.8 1162.5 923.3 1162.9 922.8 1163.3 922.3 1163.7 921.8 1164.2 921.3 1164.7 920.8 1165.2 920.3 1165.7 919.8 1166.2 919.3 1166.7 918.8 1167.3 918.3 1167.9 917.8 1168.6 917.3 1169.1 916.9 1169.6 916.5 1170.1 916.1 1170.6 915.8 1171.3 915.3 1172.0 914.8 1172.6 914.4 1173.1 914.1 1173.6 913.7 1174.2 913.3 1175.0 912.8 1175.6 912.4 1176.1 912.0 1176.6 911.6 1177.1 911.3 1177.8 910.8 1178.4 910.3 1179.1 909.8 1179.6 909.4 1180.1 909.0 1180.6 908.6 1181.1 908.3 1182.1 907.8 1182.6 907.7 1183.6 907.7 1184.1 907.8 1185.0 908.3 1185.6 908.6 1186.1 909.0 1186.6 909.3 1187.2 909.8 1187.9 910.3 1188.6 910.8 1189.1 911.1 1189.6 911.4 1190.1 911.8 1190.9 912.3 1191.6 912.7 1192.1 913.0 1192.6 913.3 1193.4 913.8 1194.1 914.2 1194.6 914.5 1195.1 914.8 1195.9 915.3 1196.6 915.8 1197.1 916.1 1197.6 916.4 1198.2 916.8 1198.9 917.3 1199.5 917.8 1200.1 918.2 1200.6 918.6 1201.1 919.0 1201.6 919.5 1202.1 919.9 1202.6 920.4 1203.1 920.9 1203.6 921.4 1204.1 921.9 1204.6 922.5 1205.1 923.1 1205.6 923.7 1206.1 924.3 1206.5 924.8 1206.9 925.3 1207.2 925.8 1207.6 926.3 1208.1 927.1 1208.6 927.8 1208.9 928.3 1209.2 928.8 1209.6 929.5 1210.0 930.3 1210.3 930.8 1210.6 931.5 1211.0 932.3 1211.2 932.8 1211.6 933.7 1211.9 934.3 1212.1 935.0 1212.4 935.8 1212.6 936.4 1212.9 937.3 1213.1 938.2 1213.3 938.8 1213.5 939.8 1213.6 940.4 1213.8 941.3 1213.9 942.3 1214.0 943.3 1214.1 944.1 1214.2 944.8 1214.2 945.8 1214.2 946.8 1214.2 947.8 1214.2 948.8 1214.1 949.5 1214.0 950.3 1213.9 951.3 1213.8 952.3 1213.6 953.2 1213.5 953.8 1213.3 954.8 1213.1 955.4 1212.9 956.3 1212.6 957.1 1212.4 957.8 1212.1 958.6 1211.8 959.3 1211.6 959.8 1211.2 960.8 1210.9 961.3 1210.6 962.0 1210.2 962.8 1209.9 963.3 1209.6 963.8 1209.1 964.6 1208.7 965.3 1208.3 965.8 1208.0 966.3 1207.6 966.8 1207.1 967.5 1206.6 968.1 1206.1 968.7 1205.6 969.2 1205.1 969.7 1204.6 970.2 1204.1 970.7 1203.6 971.2 1203.1 971.6 1202.6 972.1 1202.1 972.5 1201.6 972.8 1201.0 973.3 1200.3 973.8 1199.6 974.2 1199.1 974.6 1198.6 974.9 1197.8 975.3 1197.1 975.7 1196.6 975.9 1195.8 976.3 1195.1 976.6 1194.6 976.8 1193.6 977.2 1193.1 977.4 1192.1 977.7 1191.6 977.8 1190.6 978.1 1189.6 978.3 1189.1 978.4 1188.1 978.6 1187.1 978.7 1186.1 978.8 1185.6 978.8ZM1183.1 882.8 1182.6 882.8 1181.6 882.5 1181.1 882.1 1180.6 881.6 1180.1 880.9 1179.9 880.3 1179.8 879.3 1179.9 878.3 1180.1 877.8 1180.6 877.1 1181.1 876.6 1181.7 876.3 1182.6 876.0 1183.6 876.1 1184.3 876.3 1185.1 876.8 1185.6 877.3 1185.9 877.8 1186.1 878.4 1186.2 879.3 1186.1 880.3 1185.9 880.8 1185.6 881.4 1185.1 882.0 1184.6 882.4 1183.6 882.8 1183.1 882.8ZM1188.6 977.3 1187.6 977.5 1186.6 977.6 1185.6 977.7 1184.6 977.7 1183.6 977.7 1182.6 977.7 1181.6 977.6 1180.6 977.5 1179.6 977.4 1179.1 977.3 1178.1 977.1 1177.1 976.8 1176.6 976.7 1175.6 976.4 1175.1 976.2 1174.1 975.9 1173.6 975.7 1172.7 975.3 1172.1 975.0 1171.6 974.8 1170.7 974.3 1170.1 974.0 1169.6 973.7 1169.0 973.3 1168.2 972.8 1167.6 972.4 1167.1 972.0 1166.6 971.6 1166.1 971.2 1165.6 970.8 1165.1 970.3 1164.5 969.8 1164.0 969.3 1163.5 968.8 1163.1 968.3 1162.6 967.8 1162.1 967.2 1161.6 966.6 1161.1 965.9 1160.6 965.3 1160.3 964.8 1160.0 964.3 1159.6 963.7 1159.1 962.9 1158.8 962.3 1158.5 961.8 1158.1 961.0 1157.8 960.3 1157.6 959.8 1157.1 958.8 1156.9 958.3 1156.6 957.3 1156.4 956.8 1156.1 955.8 1156.0 955.3 1155.7 954.3 1155.6 953.7 1155.4 952.8 1155.2 951.8 1155.1 950.8 1155.0 950.3 1154.9 949.3 1154.9 948.3 1154.9 947.3 1154.9 946.3 1154.9 945.3 1154.9 944.3 1155.0 943.3 1155.1 942.8 1155.2 941.8 1155.4 940.8 1155.6 939.8 1155.7 939.3 1156.0 938.3 1156.1 937.8 1156.4 936.8 1156.6 936.2 1156.9 935.3 1157.1 934.8 1157.5 933.8 1157.7 933.3 1158.1 932.5 1158.4 931.8 1158.7 931.3 1159.1 930.5 1159.5 929.8 1159.8 929.3 1160.1 928.8 1160.6 928.0 1161.0 927.3 1161.4 926.8 1161.7 926.3 1162.1 925.8 1162.6 925.1 1163.1 924.5 1163.6 923.9 1164.1 923.3 1164.5 922.8 1165.0 922.3 1165.5 921.8 1166.0 921.3 1166.5 920.8 1167.0 920.3 1167.6 919.8 1168.1 919.4 1168.6 919.0 1169.1 918.6 1169.6 918.2 1170.1 917.8 1170.8 917.3 1171.6 916.8 1172.1 916.5 1172.6 916.1 1173.2 915.8 1174.0 915.3 1174.6 914.9 1175.1 914.6 1175.7 914.3 1176.6 913.8 1177.1 913.5 1177.6 913.3 1178.6 912.8 1179.1 912.6 1179.8 912.3 1180.6 912.0 1181.4 911.8 1182.1 911.6 1183.1 911.6 1184.1 911.6 1185.1 911.8 1185.6 911.9 1186.6 912.2 1187.1 912.4 1188.0 912.8 1188.6 913.1 1189.1 913.3 1190.1 913.8 1190.6 914.0 1191.2 914.3 1192.1 914.8 1192.6 915.0 1193.1 915.3 1194.0 915.8 1194.6 916.1 1195.1 916.4 1195.7 916.8 1196.5 917.3 1197.1 917.7 1197.6 918.0 1198.1 918.3 1198.7 918.8 1199.4 919.3 1200.0 919.8 1200.6 920.3 1201.1 920.7 1201.6 921.2 1202.1 921.6 1202.6 922.1 1203.1 922.6 1203.6 923.2 1204.1 923.7 1204.6 924.3 1205.0 924.8 1205.4 925.3 1205.8 925.8 1206.2 926.3 1206.6 926.9 1207.1 927.6 1207.6 928.3 1207.9 928.8 1208.2 929.3 1208.6 930.0 1209.0 930.8 1209.3 931.3 1209.6 931.9 1210.0 932.8 1210.3 933.3 1210.6 934.1 1210.9 934.8 1211.1 935.4 1211.4 936.3 1211.6 936.8 1211.9 937.8 1212.1 938.6 1212.3 939.3 1212.5 940.3 1212.6 940.8 1212.8 941.8 1212.9 942.8 1213.0 943.8 1213.1 944.8 1213.1 945.3 1213.1 946.3 1213.1 947.3 1213.1 948.3 1213.1 948.8 1213.0 949.8 1212.9 950.8 1212.8 951.8 1212.6 952.7 1212.5 953.3 1212.3 954.3 1212.1 955.0 1211.9 955.8 1211.6 956.7 1211.4 957.3 1211.1 958.2 1210.9 958.8 1210.6 959.4 1210.2 960.3 1210.0 960.8 1209.6 961.6 1209.2 962.3 1208.9 962.8 1208.6 963.4 1208.1 964.2 1207.7 964.8 1207.4 965.3 1207.0 965.8 1206.6 966.3 1206.1 967.0 1205.6 967.6 1205.1 968.1 1204.6 968.7 1204.1 969.2 1203.6 969.7 1203.1 970.2 1202.6 970.6 1202.1 971.0 1201.6 971.4 1201.1 971.8 1200.5 972.3 1199.8 972.8 1199.1 973.2 1198.6 973.6 1198.1 973.9 1197.3 974.3 1196.6 974.7 1196.1 974.9 1195.3 975.3 1194.6 975.6 1194.1 975.8 1193.1 976.2 1192.6 976.3 1191.6 976.6 1191.0 976.8 1190.1 977.0 1189.1 977.2 1188.6 977.3Z" fill="none" stroke="#111" stroke-width="1.1"/>
<ellipse cx="1183" cy="945" rx="2.2" ry="2.5" fill="#fff"/>
<ellipse cx="1183" cy="946" rx="21" ry="21" fill="none" stroke="#fff" stroke-width="0.8"/>
<path d="M825.0 868.0h1.3v1.3h-1.3zM838.0 872.0h1.3v1.3h-1.3zM850.0 867.0h1.3v1.3h-1.3zM857.0 876.0h1.3v1.3h-1.3zM846.0 887.0h1.3v1.3h-1.3zM843.0 912.0h1.3v1.3h-1.3zM811.0 936.0h1.3v1.3h-1.3zM846.0 956.0h1.3v1.3h-1.3zM934.0 845.0h1.3v1.3h-1.3zM880.0 900.0h1.3v1.3h-1.3zM1100.0 904.0h1.3v1.3h-1.3zM1127.0 898.0h1.3v1.3h-1.3zM1140.0 872.0h1.3v1.3h-1.3zM1163.0 866.0h1.3v1.3h-1.3zM1176.0 858.0h1.3v1.3h-1.3zM1148.0 929.0h1.3v1.3h-1.3zM1160.0 905.0h1.3v1.3h-1.3z" fill="#999"/>
<rect x="538.5" y="783.4" width="208.5" height="208.1" fill="none" stroke="#000" stroke-width="1.6"/>
<line x1="651.7" y1="783.4" x2="651.7" y2="991.5" stroke="#000" stroke-width="1.5"/>
<line x1="538.5" y1="916.5" x2="747" y2="916.5" stroke="#000" stroke-width="1.5"/>
<path d="M533.5 802.8H538.5M533.5 850.9H538.5M533.5 903.1H538.5M536.0 836.4H538.5M536.0 828.0H538.5M536.0 821.9H538.5M536.0 817.3H538.5M536.0 813.5H538.5M536.0 810.3H538.5M536.0 807.5H538.5M536.0 805.0H538.5M536.0 887.4H538.5M536.0 878.2H538.5M536.0 871.7H538.5M536.0 866.6H538.5M536.0 862.5H538.5M536.0 859.0H538.5M536.0 856.0H538.5M536.0 853.3H538.5M536.0 795.0H538.5M536.0 790.0H538.5M536.0 786.5H538.5M536.0 925.0H538.5M536.0 928.8H538.5M536.0 932.7H538.5M536.0 936.5H538.5M536.0 940.4H538.5M536.0 944.2H538.5M536.0 948.1H538.5M536.0 951.9H538.5M536.0 955.8H538.5M536.0 959.6H538.5M536.0 963.5H538.5M536.0 967.3H538.5M536.0 971.2H538.5M536.0 975.0H538.5" stroke="#000" stroke-width="1.3" fill="none"/>
<path d="M578.0 991.5V996.5M627.8 991.5V996.5M679.4 991.5V996.5M726.0 991.5V996.5M643.3 991.5V994.0M652.4 991.5V994.0M658.9 991.5V994.0M663.9 991.5V994.0M668.0 991.5V994.0M671.4 991.5V994.0M674.4 991.5V994.0M677.0 991.5V994.0M693.4 991.5V994.0M701.6 991.5V994.0M707.5 991.5V994.0M712.0 991.5V994.0M715.7 991.5V994.0M718.8 991.5V994.0M721.5 991.5V994.0M723.9 991.5V994.0M736.0 991.5V994.0M741.0 991.5V994.0M744.0 991.5V994.0M545.0 991.5V994.0M550.0 991.5V994.0M555.0 991.5V994.0M560.0 991.5V994.0M565.0 991.5V994.0M570.0 991.5V994.0M575.0 991.5V994.0M580.0 991.5V994.0M585.0 991.5V994.0M590.0 991.5V994.0M595.0 991.5V994.0M600.0 991.5V994.0M605.0 991.5V994.0M610.0 991.5V994.0M615.0 991.5V994.0M620.0 991.5V994.0M563.0 991.5V994.0M565.4 991.5V994.0M567.8 991.5V994.0M570.1 991.5V994.0M572.5 991.5V994.0M574.9 991.5V994.0M577.2 991.5V994.0M579.6 991.5V994.0M582.0 991.5V994.0" stroke="#000" stroke-width="1.3" fill="none"/>
<rect x="788.5" y="783.8" width="209.1" height="208.3" fill="none" stroke="#000" stroke-width="1.6"/>
<line x1="901.9" y1="783.8" x2="901.9" y2="992.1" stroke="#000" stroke-width="1.5"/>
<line x1="788.5" y1="916.4" x2="997.6" y2="916.4" stroke="#000" stroke-width="1.5"/>
<path d="M783.5 803.2H788.5M783.5 851.3H788.5M783.5 903.5H788.5M786.0 836.8H788.5M786.0 828.4H788.5M786.0 822.3H788.5M786.0 817.7H788.5M786.0 813.9H788.5M786.0 810.7H788.5M786.0 807.9H788.5M786.0 805.4H788.5M786.0 887.8H788.5M786.0 878.6H788.5M786.0 872.1H788.5M786.0 867.0H788.5M786.0 862.9H788.5M786.0 859.4H788.5M786.0 856.4H788.5M786.0 853.7H788.5M786.0 795.4H788.5M786.0 790.4H788.5M786.0 786.9H788.5M786.0 925.4H788.5M786.0 929.2H788.5M786.0 933.1H788.5M786.0 936.9H788.5M786.0 940.8H788.5M786.0 944.6H788.5M786.0 948.5H788.5M786.0 952.3H788.5M786.0 956.2H788.5M786.0 960.0H788.5M786.0 963.9H788.5M786.0 967.7H788.5M786.0 971.6H788.5M786.0 975.4H788.5" stroke="#000" stroke-width="1.3" fill="none"/>
<path d="M828.0 992.1V997.1M877.8 992.1V997.1M929.4 992.1V997.1M976.0 992.1V997.1M893.3 992.1V994.6M902.4 992.1V994.6M908.9 992.1V994.6M913.9 992.1V994.6M918.0 992.1V994.6M921.4 992.1V994.6M924.4 992.1V994.6M927.0 992.1V994.6M943.4 992.1V994.6M951.6 992.1V994.6M957.5 992.1V994.6M962.0 992.1V994.6M965.7 992.1V994.6M968.8 992.1V994.6M971.5 992.1V994.6M973.9 992.1V994.6M986.0 992.1V994.6M991.0 992.1V994.6M994.0 992.1V994.6M795.0 992.1V994.6M800.0 992.1V994.6M805.0 992.1V994.6M810.0 992.1V994.6M815.0 992.1V994.6M820.0 992.1V994.6M825.0 992.1V994.6M830.0 992.1V994.6M835.0 992.1V994.6M840.0 992.1V994.6M845.0 992.1V994.6M850.0 992.1V994.6M855.0 992.1V994.6M860.0 992.1V994.6M865.0 992.1V994.6M870.0 992.1V994.6M813.0 992.1V994.6M815.4 992.1V994.6M817.8 992.1V994.6M820.1 992.1V994.6M822.5 992.1V994.6M824.9 992.1V994.6M827.2 992.1V994.6M829.6 992.1V994.6M832.0 992.1V994.6" stroke="#000" stroke-width="1.3" fill="none"/>
<rect x="1039.1" y="783.8" width="208.3" height="208.3" fill="none" stroke="#000" stroke-width="1.6"/>
<line x1="1152.7" y1="783.8" x2="1152.7" y2="992.1" stroke="#000" stroke-width="1.5"/>
<line x1="1039.1" y1="916.4" x2="1247.4" y2="916.4" stroke="#000" stroke-width="1.5"/>
<path d="M1034.1 803.2H1039.1M1034.1 851.3H1039.1M1034.1 903.5H1039.1M1036.6 836.8H1039.1M1036.6 828.4H1039.1M1036.6 822.3H1039.1M1036.6 817.7H1039.1M1036.6 813.9H1039.1M1036.6 810.7H1039.1M1036.6 807.9H1039.1M1036.6 805.4H1039.1M1036.6 887.8H1039.1M1036.6 878.6H1039.1M1036.6 872.1H1039.1M1036.6 867.0H1039.1M1036.6 862.9H1039.1M1036.6 859.4H1039.1M1036.6 856.4H1039.1M1036.6 853.7H1039.1M1036.6 795.4H1039.1M1036.6 790.4H1039.1M1036.6 786.9H1039.1M1036.6 925.4H1039.1M1036.6 929.2H1039.1M1036.6 933.1H1039.1M1036.6 936.9H1039.1M1036.6 940.8H1039.1M1036.6 944.6H1039.1M1036.6 948.5H1039.1M1036.6 952.3H1039.1M1036.6 956.2H1039.1M1036.6 960.0H1039.1M1036.6 963.9H1039.1M1036.6 967.7H1039.1M1036.6 971.6H1039.1M1036.6 975.4H1039.1" stroke="#000" stroke-width="1.3" fill="none"/>
<path d="M1078.6 992.1V997.1M1128.4 992.1V997.1M1180.0 992.1V997.1M1226.6 992.1V997.1M1143.9 992.1V994.6M1153.0 992.1V994.6M1159.5 992.1V994.6M1164.5 992.1V994.6M1168.6 992.1V994.6M1172.0 992.1V994.6M1175.0 992.1V994.6M1177.6 992.1V994.6M1194.0 992.1V994.6M1202.2 992.1V994.6M1208.1 992.1V994.6M1212.6 992.1V994.6M1216.3 992.1V994.6M1219.4 992.1V994.6M1222.1 992.1V994.6M1224.5 992.1V994.6M1236.6 992.1V994.6M1241.6 992.1V994.6M1244.6 992.1V994.6M1045.6 992.1V994.6M1050.6 992.1V994.6M1055.6 992.1V994.6M1060.6 992.1V994.6M1065.6 992.1V994.6M1070.6 992.1V994.6M1075.6 992.1V994.6M1080.6 992.1V994.6M1085.6 992.1V994.6M1090.6 992.1V994.6M1095.6 992.1V994.6M1100.6 992.1V994.6M1105.6 992.1V994.6M1110.6 992.1V994.6M1115.6 992.1V994.6M1120.6 992.1V994.6M1063.6 992.1V994.6M1066.0 992.1V994.6M1068.3 992.1V994.6M1070.7 992.1V994.6M1073.1 992.1V994.6M1075.5 992.1V994.6M1077.8 992.1V994.6M1080.2 992.1V994.6M1082.6 992.1V994.6" stroke="#000" stroke-width="1.3" fill="none"/>
<text x="542" y="806.8" font-size="21">19.3</text>
<text x="740" y="806.8" font-size="21" text-anchor="end">29.8</text>
<text x="541.5" y="985.6" font-size="21">0</text>
<text x="740" y="985.6" font-size="21" text-anchor="end">50.9</text>
<text x="792" y="806.8" font-size="21">3.8</text>
<text x="990.6" y="806.8" font-size="21" text-anchor="end">13.7</text>
<text x="791.5" y="985.6" font-size="21">1.1</text>
<text x="990.6" y="985.6" font-size="21" text-anchor="end">81.4</text>
<text x="1042.6" y="806.8" font-size="21">3.9</text>
<text x="1240.4" y="806.8" font-size="21" text-anchor="end">11.6</text>
<text x="1042.1" y="985.6" font-size="21">1.0</text>
<text x="1240.4" y="985.6" font-size="21" text-anchor="end">83.6</text>
<text x="531" y="810" font-size="16" text-anchor="end">10<tspan font-size="16" dy="-7.5">5</tspan></text>
<text x="531" y="859.5" font-size="16" text-anchor="end">10<tspan font-size="16" dy="-7.5">4</tspan></text>
<text x="531" y="911.1" font-size="16" text-anchor="end">10<tspan font-size="16" dy="-7.5">3</tspan></text>
<text x="515.5" y="960.6" font-size="16" text-anchor="end">0</text>
<text x="576.4" y="1012.2" font-size="16" text-anchor="middle">0</text>
<text x="618.5" y="1012.2" font-size="16">10<tspan font-size="16" dy="-6">3</tspan></text>
<text x="668.5" y="1012.2" font-size="16">10<tspan font-size="16" dy="-6">4</tspan></text>
<text x="717" y="1012.2" font-size="16">10<tspan font-size="16" dy="-6">5</tspan></text>
<text x="539.2" y="1044.2" font-size="25">CD44 FITC</text>
<text transform="translate(487.5 890.7) rotate(-90)" font-size="25" text-anchor="middle">CD62L BV605</text>
<line x1="686.8" y1="1037.1" x2="1222" y2="1037.9" stroke="#000" stroke-width="2"/>
<path d="M1247 1038 L1214.3 1028.3 L1222 1037.9 L1214.3 1047.7 Z" fill="#000"/>
<text x="2.2" y="1195.3" font-size="25.5" font-weight="bold">h</text>
<path d="M116 1491.5 C119.3 1491.5 132.1 1491.6 136 1491.5 C139.9 1491.4 138.2 1492.2 139.4 1491 C140.6 1489.8 141.9 1487.3 143 1484 C144.1 1480.7 145 1476 146.1 1471.2 C147.2 1466.4 148.4 1460 149.5 1455 C150.6 1450 152 1444 152.9 1441.5 C153.8 1439 154.1 1439.2 154.8 1440.1 C155.5 1441 156.2 1444.2 157 1446.9 C157.8 1449.6 158.6 1452.4 159.5 1456 C160.4 1459.6 161.3 1463.8 162.4 1468.5 C163.5 1473.2 164.9 1480.2 166 1484 C167.1 1487.8 168.1 1489.8 169.1 1491 C170.1 1492.2 171.5 1491.4 172 1491.5" fill="none" stroke="#888" stroke-width="2.5" stroke-dasharray="6 4"/>
<path d="M116 1451 L130 1451 " fill="none"/>
<path d="M116 1451 L130 1451 C131 1451 134.2 1451.2 136 1451 C137.8 1450.8 138.8 1451 140.7 1450.1 C142.6 1449.2 145.2 1448.3 147.5 1445.5 C149.8 1442.7 152.3 1436.9 154.3 1433.3 C156.3 1429.7 157.4 1426.6 159.7 1423.9 C161.9 1421.2 165.6 1417.9 167.8 1417.1 C170.1 1416.3 171.4 1418.4 173.2 1419.3 C175 1420.2 177.1 1422.9 178.6 1422.5 C180.1 1422.1 180.8 1419.3 181.9 1417.1 C183 1414.9 184.2 1409.3 185.4 1409.5 C186.7 1409.7 188.1 1416.5 189.4 1418.5 C190.8 1420.5 191.7 1421.1 193.5 1421.2 C195.3 1421.3 198.5 1419.4 200.3 1419.3 C202.1 1419.2 203.1 1421 204.3 1420.4 C205.6 1419.8 206.7 1414.1 207.8 1415.8 C208.9 1417.5 210.1 1426.5 211.1 1430.6 C212.1 1434.6 212.2 1437.8 213.8 1440.1 C215.4 1442.4 218.3 1442.4 220.6 1444.2 C222.8 1446 225.2 1449.9 227.3 1451 C229.4 1452.1 232.1 1451 233 1451 L280 1451 M280 1451 C285 1451 287 1449.3 291 1449.3 C295 1449.3 297 1451 302 1451 L322.5 1451" fill="none" stroke="#c42a2c" stroke-width="2.5"/>
<path d="M116 1409 L130 1409 C131 1409 134.2 1409.2 136 1409 C137.8 1408.8 139 1408.4 140.7 1407.6 C142.4 1406.8 144.2 1405.6 146 1404 C147.8 1402.4 149.3 1400.6 151.6 1398.2 C153.9 1395.8 157.4 1391.4 159.7 1389.5 C161.9 1387.6 162.8 1387.4 165.1 1386.8 C167.3 1386.2 170.9 1386.6 173.2 1386 C175.4 1385.4 176.6 1384.9 178.6 1383.3 C180.6 1381.7 183.6 1377.4 185.4 1376.5 C187.2 1375.6 187.8 1376.8 189.4 1377.9 C191 1379 193.3 1382.8 194.9 1383.3 C196.5 1383.8 197.3 1382.2 198.9 1380.6 C200.5 1379 202.7 1374 204.3 1373.8 C205.9 1373.6 207.1 1376.5 208.4 1379.2 C209.8 1381.9 210.6 1386.4 212.4 1390 C214.2 1393.6 216.9 1398.2 219.2 1400.9 C221.5 1403.6 224 1405 226 1406.3 C228 1407.6 229.6 1408.5 231.4 1409 C233.2 1409.5 236.1 1409 237 1409 L322.5 1409" fill="none" stroke="#6fcbcf" stroke-width="2.5"/>
<path d="M116 1367.6 L130 1367.6 C131.1 1367.6 134.9 1367.9 136.7 1367.6 C138.5 1367.3 139.2 1367.3 141 1366 C142.8 1364.7 145.8 1362.2 147.5 1359.7 C149.2 1357.2 149.9 1353.6 151 1351 C152.1 1348.4 153.3 1345.8 154.3 1344 C155.3 1342.2 156.1 1341.6 157 1340.5 C157.9 1339.4 158.8 1339.2 159.7 1337.3 C160.6 1335.4 161.4 1329.5 162.4 1329.1 C163.4 1328.6 164.7 1332.1 165.6 1334.6 C166.5 1337.1 167.1 1341 168 1344 C168.9 1347 170.1 1351.7 171 1352.7 C171.9 1353.7 172.7 1351 173.5 1350 C174.3 1349 175.1 1348 175.9 1346.7 C176.7 1345.5 177.7 1343.5 178.5 1342.5 C179.3 1341.5 180 1340.8 180.8 1340.8 C181.6 1340.8 182.5 1341.5 183.5 1342.5 C184.5 1343.5 185.2 1345 186.7 1346.7 C188.1 1348.4 189.9 1351.1 192.2 1352.7 C194.5 1354.3 197.6 1355.3 200.3 1356.2 C203 1357.1 206.2 1357.4 208.4 1358.1 C210.7 1358.8 212.2 1359.3 213.8 1360.3 C215.4 1361.3 216.5 1363.1 217.9 1364.3 C219.3 1365.5 220.3 1367 222 1367.6 C223.7 1368.1 227 1367.6 228 1367.6 L322.5 1367.6" fill="none" stroke="#474747" stroke-width="2.5"/>
<rect x="114.5" y="1284" width="209.5" height="208.3" fill="none" stroke="#000" stroke-width="2.6"/>
<path d="M200.3 1492.3V1496.8M254.4 1492.3V1496.8M302.6 1492.3V1496.8M216.6 1492.3V1494.8M226.1 1492.3V1494.8M232.9 1492.3V1494.8M238.1 1492.3V1494.8M242.4 1492.3V1494.8M246.0 1492.3V1494.8M249.2 1492.3V1494.8M251.9 1492.3V1494.8M268.9 1492.3V1494.8M277.4 1492.3V1494.8M283.4 1492.3V1494.8M288.1 1492.3V1494.8M291.9 1492.3V1494.8M295.1 1492.3V1494.8M297.9 1492.3V1494.8M300.4 1492.3V1494.8M312.0 1492.3V1494.8M316.5 1492.3V1494.8M320.0 1492.3V1494.8M118.0 1492.3V1494.8M122.5 1492.3V1494.8M127.1 1492.3V1494.8M131.6 1492.3V1494.8M136.1 1492.3V1494.8M140.6 1492.3V1494.8M145.2 1492.3V1494.8M149.7 1492.3V1494.8M154.2 1492.3V1494.8M158.8 1492.3V1494.8M163.3 1492.3V1494.8M167.8 1492.3V1494.8M172.4 1492.3V1494.8M176.9 1492.3V1494.8M181.4 1492.3V1494.8M185.9 1492.3V1494.8M190.5 1492.3V1494.8M195.0 1492.3V1494.8M144.0 1492.3V1494.8M146.3 1492.3V1494.8M148.6 1492.3V1494.8M150.9 1492.3V1494.8M153.1 1492.3V1494.8M155.4 1492.3V1494.8M157.7 1492.3V1494.8M160.0 1492.3V1494.8" stroke="#000" stroke-width="1.5" fill="none"/>
<text x="150.6" y="1517.5" font-size="15" text-anchor="middle">0</text>
<text x="191" y="1517.5" font-size="15">10<tspan font-size="15" dy="-8.5">3</tspan></text>
<text x="245" y="1517.5" font-size="15">10<tspan font-size="15" dy="-8.5">4</tspan></text>
<text x="293.6" y="1517.5" font-size="15">10<tspan font-size="15" dy="-8.5">5</tspan></text>
<text x="150.2" y="1547.5" font-size="25">PD-1 PECy7</text>
<rect x="338.5" y="1290" width="29.5" height="11.5" fill="none" stroke="#474747" stroke-width="2.6"/>
<rect x="338.5" y="1319.8" width="30" height="11.8" fill="none" stroke="#6fcbcf" stroke-width="2.6"/>
<rect x="338.8" y="1350" width="30" height="11.8" fill="none" stroke="#c42a2c" stroke-width="2.6"/>
<rect x="339.5" y="1380" width="30" height="12.2" fill="none" stroke="#888" stroke-width="2.6" stroke-dasharray="6 4.5"/>
<text x="380.2" y="1300.7" font-size="25">Control</text>
<text x="378.4" y="1331.9" font-size="25">Total PD-L1 KO</text>
<text x="381" y="1363" font-size="25">PD-L1&#916;DC</text>
<text x="381" y="1394.1" font-size="25">FMO Control</text>
<path d="M1642 1831.5v2.5M1650 1831.5v2.5M1657 1831.5v2.5M1661.5 1831v4.5M1665 1831.5v2.5M1668 1831.5v2.5M1671 1831.5v2.5M1674 1831.5v2.5" stroke="#222" stroke-width="1"/>
<rect x="1698" y="1834.5" width="1.6" height="6.5" fill="#333"/>
</svg></body></html>
